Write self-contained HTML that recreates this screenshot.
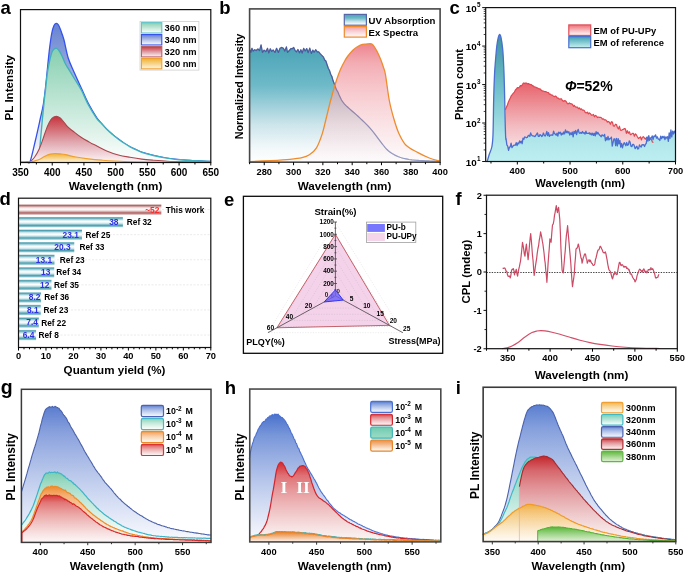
<!DOCTYPE html>
<html><head><meta charset="utf-8"><style>
html,body{margin:0;padding:0;background:#fff;}
body{width:685px;height:574px;overflow:hidden;}
svg{display:block;will-change:transform;}
</style></head><body>
<svg width="685" height="574" viewBox="0 0 685 574">
<defs><linearGradient id="ga_blue" x1="0" y1="0" x2="0" y2="1"><stop offset="0" stop-color="#6682d0"/><stop offset="1" stop-color="#ffffff"/></linearGradient>
<linearGradient id="ga_teal" x1="0" y1="0" x2="0" y2="1"><stop offset="0" stop-color="#86cfb0"/><stop offset="1" stop-color="#ffffff"/></linearGradient>
<linearGradient id="ga_red" x1="0" y1="0" x2="0" y2="1"><stop offset="0" stop-color="#c8343c"/><stop offset="0.55" stop-color="#e0a6ae"/><stop offset="1" stop-color="#fdf7f8"/></linearGradient>
<linearGradient id="ga_or" x1="0" y1="0" x2="0" y2="1"><stop offset="0" stop-color="#f0b032"/><stop offset="1" stop-color="#fdf6e2"/></linearGradient>
<linearGradient id="gb_uv" x1="0" y1="0" x2="0" y2="1"><stop offset="0" stop-color="#47a2b4"/><stop offset="0.35" stop-color="#6fbac9"/><stop offset="0.68" stop-color="#cde5eb"/><stop offset="0.88" stop-color="#f2f8fa"/><stop offset="1" stop-color="#ffffff"/></linearGradient>
<linearGradient id="gb_ex" x1="0" y1="0" x2="0" y2="1"><stop offset="0.0" stop-color="#e33a4a"/><stop offset="0.167" stop-color="#ec7b86"/><stop offset="0.333" stop-color="#f09da5"/><stop offset="0.5" stop-color="#f4b8be"/><stop offset="0.667" stop-color="#f7d0d4"/><stop offset="0.833" stop-color="#fae5e8"/><stop offset="1.0" stop-color="#fdf9fa"/></linearGradient>
<linearGradient id="gc_red" x1="0" y1="0" x2="0" y2="1"><stop offset="0" stop-color="#e8636c"/><stop offset="0.55" stop-color="#f2bcc1"/><stop offset="1" stop-color="#fdf2f3"/></linearGradient>
<linearGradient id="gc_ref" x1="0" y1="0" x2="0" y2="1"><stop offset="0" stop-color="#3c91a2"/><stop offset="0.45" stop-color="#76c3cd"/><stop offset="0.8" stop-color="#ade4e9"/><stop offset="1" stop-color="#bdeff1"/></linearGradient>
<linearGradient id="gc_redsw" x1="0" y1="0" x2="0" y2="1"><stop offset="0" stop-color="#ee7078"/><stop offset="1" stop-color="#ffffff"/></linearGradient>
<linearGradient id="gc_refsw" x1="0" y1="0" x2="0" y2="1"><stop offset="0" stop-color="#3f9fb0"/><stop offset="1" stop-color="#c6f2f3"/></linearGradient>
<linearGradient id="gd_bar" x1="0" y1="0" x2="0" y2="1"><stop offset="0" stop-color="#8fc5ce"/><stop offset="0.1" stop-color="#4d9fb0"/><stop offset="0.3" stop-color="#cfe8ed"/><stop offset="0.46" stop-color="#ffffff"/><stop offset="0.62" stop-color="#d2e9ee"/><stop offset="0.82" stop-color="#4d9fb0"/><stop offset="1" stop-color="#a8d4db"/></linearGradient>
<linearGradient id="gd_red" x1="0" y1="0" x2="0" y2="1"><stop offset="0" stop-color="#c89c9c"/><stop offset="0.1" stop-color="#b06464"/><stop offset="0.3" stop-color="#ead6d6"/><stop offset="0.46" stop-color="#ffffff"/><stop offset="0.62" stop-color="#ead6d6"/><stop offset="0.82" stop-color="#b06464"/><stop offset="1" stop-color="#d4acac"/></linearGradient>
<linearGradient id="gg_blue" x1="0" y1="0" x2="0" y2="1"><stop offset="0.0" stop-color="#5a7ccf"/><stop offset="0.167" stop-color="#849ddb"/><stop offset="0.333" stop-color="#a0b4e4"/><stop offset="0.5" stop-color="#b9c8eb"/><stop offset="0.667" stop-color="#d0daf2"/><stop offset="0.833" stop-color="#e6ebf8"/><stop offset="1.0" stop-color="#fafbfe"/></linearGradient>
<linearGradient id="gg_teal" x1="0" y1="0" x2="0" y2="1"><stop offset="0.0" stop-color="#7acdae"/><stop offset="0.167" stop-color="#a0dbc5"/><stop offset="0.333" stop-color="#b8e4d4"/><stop offset="0.5" stop-color="#ccece0"/><stop offset="0.667" stop-color="#def3eb"/><stop offset="0.833" stop-color="#eff9f5"/><stop offset="1.0" stop-color="#ffffff"/></linearGradient>
<linearGradient id="gg_or" x1="0" y1="0" x2="0" y2="1"><stop offset="0.0" stop-color="#ee8a30"/><stop offset="0.167" stop-color="#f4b074"/><stop offset="0.333" stop-color="#f7c496"/><stop offset="0.5" stop-color="#f9d4b3"/><stop offset="0.667" stop-color="#fbe2cb"/><stop offset="0.833" stop-color="#fdeee1"/><stop offset="1.0" stop-color="#fffaf6"/></linearGradient>
<linearGradient id="gg_red" x1="0" y1="0" x2="0" y2="1"><stop offset="0.0" stop-color="#d43434"/><stop offset="0.167" stop-color="#e27777"/><stop offset="0.333" stop-color="#e99999"/><stop offset="0.5" stop-color="#eeb5b5"/><stop offset="0.667" stop-color="#f3cece"/><stop offset="0.833" stop-color="#f8e4e4"/><stop offset="1.0" stop-color="#fcf8f8"/></linearGradient>
<linearGradient id="gh_blue" x1="0" y1="0" x2="0" y2="1"><stop offset="0.0" stop-color="#4a72cc"/><stop offset="0.167" stop-color="#7896d9"/><stop offset="0.333" stop-color="#97aee2"/><stop offset="0.5" stop-color="#b3c3ea"/><stop offset="0.667" stop-color="#ccd7f1"/><stop offset="0.833" stop-color="#e4e9f8"/><stop offset="1.0" stop-color="#fafbfe"/></linearGradient>
<linearGradient id="gh_red" x1="0" y1="0" x2="0" y2="1"><stop offset="0.0" stop-color="#d02a30"/><stop offset="0.167" stop-color="#df7074"/><stop offset="0.333" stop-color="#e69597"/><stop offset="0.5" stop-color="#ecb2b4"/><stop offset="0.667" stop-color="#f2cccd"/><stop offset="0.833" stop-color="#f7e3e3"/><stop offset="1.0" stop-color="#fbf8f8"/></linearGradient>
<linearGradient id="gh_teal" x1="0" y1="0" x2="0" y2="1"><stop offset="0" stop-color="#6fcbb0"/><stop offset="1" stop-color="#9edcc6"/></linearGradient>
<linearGradient id="gh_or" x1="0" y1="0" x2="0" y2="1"><stop offset="0" stop-color="#e8822e"/><stop offset="1" stop-color="#fdf4ee"/></linearGradient>
<linearGradient id="gh_orsw" x1="0" y1="0" x2="0" y2="1"><stop offset="0" stop-color="#ea8e42"/><stop offset="1" stop-color="#ffffff"/></linearGradient>
<linearGradient id="gi_blue" x1="0" y1="0" x2="0" y2="1"><stop offset="0.0" stop-color="#5a7ed0"/><stop offset="0.167" stop-color="#849fdc"/><stop offset="0.333" stop-color="#a0b5e4"/><stop offset="0.5" stop-color="#b9c8eb"/><stop offset="0.667" stop-color="#d0daf2"/><stop offset="0.833" stop-color="#e6ebf8"/><stop offset="1.0" stop-color="#fafbfe"/></linearGradient>
<linearGradient id="gi_teal" x1="0" y1="0" x2="0" y2="1"><stop offset="0.0" stop-color="#74ceb6"/><stop offset="0.167" stop-color="#8bd6c2"/><stop offset="0.333" stop-color="#a2dece"/><stop offset="0.5" stop-color="#bae6da"/><stop offset="0.667" stop-color="#d1efe7"/><stop offset="0.833" stop-color="#e8f7f3"/><stop offset="1.0" stop-color="#ffffff"/></linearGradient>
<linearGradient id="gi_red" x1="0" y1="0" x2="0" y2="1"><stop offset="0.0" stop-color="#c4262c"/><stop offset="0.167" stop-color="#d5676c"/><stop offset="0.333" stop-color="#df8c90"/><stop offset="0.5" stop-color="#e7abae"/><stop offset="0.667" stop-color="#eec7c9"/><stop offset="0.833" stop-color="#f5e0e1"/><stop offset="1.0" stop-color="#fbf7f8"/></linearGradient>
<linearGradient id="gi_or" x1="0" y1="0" x2="0" y2="1"><stop offset="0.0" stop-color="#f0ae3a"/><stop offset="0.167" stop-color="#f4c26b"/><stop offset="0.333" stop-color="#f7d08c"/><stop offset="0.5" stop-color="#f9dcaa"/><stop offset="0.667" stop-color="#fbe8c5"/><stop offset="0.833" stop-color="#fdf2de"/><stop offset="1.0" stop-color="#fffcf6"/></linearGradient>
<linearGradient id="gi_green" x1="0" y1="0" x2="0" y2="1"><stop offset="0.0" stop-color="#55b332"/><stop offset="0.167" stop-color="#71c053"/><stop offset="0.333" stop-color="#89ca70"/><stop offset="0.5" stop-color="#a1d58b"/><stop offset="0.667" stop-color="#b7dfa5"/><stop offset="0.833" stop-color="#cde8bf"/><stop offset="1.0" stop-color="#e2f2d8"/></linearGradient></defs>
<rect width="685" height="574" fill="#fff"/>
<path d="M20.5,162.4C21.58,162.37 25.37,162.43 27,162.2C28.63,161.97 28.88,164.7 30.3,161C31.72,157.3 33.88,146.83 35.5,140C37.12,133.17 38.68,126 40,120C41.32,114 42.43,109.83 43.4,104C44.37,98.17 45.07,91.5 45.8,85C46.53,78.5 47.17,71.17 47.8,65C48.43,58.83 48.93,53.33 49.6,48C50.27,42.67 51.07,36.75 51.8,33C52.53,29.25 53.27,27.12 54,25.5C54.73,23.88 55.45,23.38 56.2,23.3C56.95,23.22 57.7,23.72 58.5,25C59.3,26.28 60.08,28.5 61,31C61.92,33.5 62.8,35.5 64,40C65.2,44.5 66.53,52.67 68.2,58C69.87,63.33 71.78,66.92 74,72C76.22,77.08 79.1,83.25 81.5,88.5C83.9,93.75 85.85,98.62 88.4,103.5C90.95,108.38 94.73,114.62 96.8,117.8C98.87,120.98 99.15,120.7 100.8,122.6C102.45,124.5 104.75,127.23 106.7,129.2C108.65,131.17 110.55,132.75 112.5,134.4C114.45,136.05 116.45,137.63 118.4,139.1C120.35,140.57 122.27,141.93 124.2,143.2C126.13,144.47 128.05,145.63 130,146.7C131.95,147.77 133.95,148.68 135.9,149.6C137.85,150.52 138.78,151.23 141.7,152.2C144.62,153.17 149.5,154.47 153.4,155.4C157.3,156.33 161.5,157.17 165.1,157.8C168.7,158.43 170.85,158.75 175,159.2C179.15,159.65 184.03,160.12 190,160.5C195.97,160.88 207.33,161.33 210.8,161.5L210.8,162.5L20.5,162.5Z" fill="url(#ga_blue)" stroke="none" stroke-width="1"/>
<path d="M20.5,162.4C21.58,162.37 25.37,162.43 27,162.2C28.63,161.97 28.88,164.7 30.3,161C31.72,157.3 33.88,146.83 35.5,140C37.12,133.17 38.68,126 40,120C41.32,114 42.43,109.83 43.4,104C44.37,98.17 45.07,91.5 45.8,85C46.53,78.5 47.17,71.17 47.8,65C48.43,58.83 48.93,53.33 49.6,48C50.27,42.67 51.07,36.75 51.8,33C52.53,29.25 53.27,27.12 54,25.5C54.73,23.88 55.45,23.38 56.2,23.3C56.95,23.22 57.7,23.72 58.5,25C59.3,26.28 60.08,28.5 61,31C61.92,33.5 62.8,35.5 64,40C65.2,44.5 66.53,52.67 68.2,58C69.87,63.33 71.78,66.92 74,72C76.22,77.08 79.1,83.25 81.5,88.5C83.9,93.75 85.85,98.62 88.4,103.5C90.95,108.38 94.73,114.62 96.8,117.8C98.87,120.98 99.15,120.7 100.8,122.6C102.45,124.5 104.75,127.23 106.7,129.2C108.65,131.17 110.55,132.75 112.5,134.4C114.45,136.05 116.45,137.63 118.4,139.1C120.35,140.57 122.27,141.93 124.2,143.2C126.13,144.47 128.05,145.63 130,146.7C131.95,147.77 133.95,148.68 135.9,149.6C137.85,150.52 138.78,151.23 141.7,152.2C144.62,153.17 149.5,154.47 153.4,155.4C157.3,156.33 161.5,157.17 165.1,157.8C168.7,158.43 170.85,158.75 175,159.2C179.15,159.65 184.03,160.12 190,160.5C195.97,160.88 207.33,161.33 210.8,161.5" fill="none" stroke="#3552ee" stroke-width="1.3" stroke-linejoin="round"/>
<path d="M39.6,162.4C39.6,160.33 39.45,153.73 39.6,150C39.75,146.27 40.02,145.33 40.5,140C40.98,134.67 41.87,124.67 42.5,118C43.13,111.33 43.8,104.67 44.3,100C44.8,95.33 44.97,94.67 45.5,90C46.03,85.33 46.78,77 47.5,72C48.22,67 48.97,63.5 49.8,60C50.63,56.5 51.45,52.97 52.5,51C53.55,49.03 55.02,48.28 56.1,48.2C57.18,48.12 58.02,49.2 59,50.5C59.98,51.8 61,53.92 62,56C63,58.08 63.97,60.93 65,63C66.03,65.07 66.7,65.9 68.2,68.4C69.7,70.9 71.82,74.4 74,78C76.18,81.6 78.9,85.5 81.3,90C83.7,94.5 85.82,100.23 88.4,105C90.98,109.77 94.73,115.63 96.8,118.6C98.87,121.57 99.15,121.02 100.8,122.8C102.45,124.58 104.75,127.35 106.7,129.3C108.65,131.25 110.55,132.85 112.5,134.5C114.45,136.15 116.45,137.73 118.4,139.2C120.35,140.67 122.27,142.03 124.2,143.3C126.13,144.57 128.05,145.73 130,146.8C131.95,147.87 133.95,148.78 135.9,149.7C137.85,150.62 138.78,151.33 141.7,152.3C144.62,153.27 149.5,154.57 153.4,155.5C157.3,156.43 161.5,157.27 165.1,157.9C168.7,158.53 170.85,158.87 175,159.3C179.15,159.73 184.03,160.13 190,160.5C195.97,160.87 207.33,161.33 210.8,161.5L210.8,162.5L39.6,162.5Z" fill="url(#ga_teal)" stroke="none" stroke-width="1"/>
<path d="M39.6,150C39.75,148.33 40.02,145.33 40.5,140C40.98,134.67 41.87,124.67 42.5,118C43.13,111.33 43.8,104.67 44.3,100C44.8,95.33 44.97,94.67 45.5,90C46.03,85.33 46.78,77 47.5,72C48.22,67 48.97,63.5 49.8,60C50.63,56.5 51.45,52.97 52.5,51C53.55,49.03 55.02,48.28 56.1,48.2C57.18,48.12 58.02,49.2 59,50.5C59.98,51.8 61,53.92 62,56C63,58.08 63.97,60.93 65,63C66.03,65.07 66.7,65.9 68.2,68.4C69.7,70.9 71.82,74.4 74,78C76.18,81.6 78.9,85.5 81.3,90C83.7,94.5 85.82,100.23 88.4,105C90.98,109.77 94.73,115.63 96.8,118.6C98.87,121.57 99.15,121.02 100.8,122.8C102.45,124.58 104.75,127.35 106.7,129.3C108.65,131.25 110.55,132.85 112.5,134.5C114.45,136.15 116.45,137.73 118.4,139.2C120.35,140.67 122.27,142.03 124.2,143.3C126.13,144.57 128.05,145.73 130,146.8C131.95,147.87 133.95,148.78 135.9,149.7C137.85,150.62 138.78,151.33 141.7,152.3C144.62,153.27 149.5,154.57 153.4,155.5C157.3,156.43 161.5,157.27 165.1,157.9C168.7,158.53 170.85,158.87 175,159.3C179.15,159.73 184.03,160.13 190,160.5C195.97,160.87 207.33,161.33 210.8,161.5" fill="none" stroke="#3fb0bc" stroke-width="1.35"/>
<line x1="39.6" y1="162.4" x2="39.6" y2="150" stroke="#a8dde2" stroke-width="0.8"/>
<path d="M20.5,162.4C21.58,162.37 25.37,162.33 27,162.2C28.63,162.07 29.05,162.42 30.3,161.6C31.55,160.78 33.02,159.42 34.5,157.3C35.98,155.18 37.82,151.87 39.2,148.9C40.58,145.93 41.67,142.63 42.8,139.5C43.93,136.37 44.95,132.88 46,130.1C47.05,127.32 48.07,124.8 49.1,122.8C50.13,120.8 50.98,119.17 52.2,118.1C53.42,117.03 55.07,116.42 56.4,116.4C57.73,116.38 59.03,117.15 60.2,118C61.37,118.85 62.18,120.05 63.4,121.5C64.62,122.95 65.93,125.12 67.5,126.7C69.07,128.28 70.53,129.23 72.8,131C75.07,132.77 77.97,135.23 81.1,137.3C84.23,139.37 89.28,142.1 91.6,143.4C93.92,144.7 92.48,143.85 95,145.1C97.52,146.35 102.8,149.25 106.7,150.9C110.6,152.55 114.52,153.93 118.4,155C122.28,156.07 126.12,156.62 130,157.3C133.88,157.98 137.8,158.62 141.7,159.1C145.6,159.58 149.5,159.88 153.4,160.2C157.3,160.52 161.5,160.78 165.1,161C168.7,161.22 167.38,161.32 175,161.5C182.62,161.68 204.83,162 210.8,162.1L210.8,162.5L20.5,162.5Z" fill="url(#ga_red)" stroke="none" stroke-width="1"/>
<path d="M20.5,162.4C21.58,162.37 25.37,162.33 27,162.2C28.63,162.07 29.05,162.42 30.3,161.6C31.55,160.78 33.02,159.42 34.5,157.3C35.98,155.18 37.82,151.87 39.2,148.9C40.58,145.93 41.67,142.63 42.8,139.5C43.93,136.37 44.95,132.88 46,130.1C47.05,127.32 48.07,124.8 49.1,122.8C50.13,120.8 50.98,119.17 52.2,118.1C53.42,117.03 55.07,116.42 56.4,116.4C57.73,116.38 59.03,117.15 60.2,118C61.37,118.85 62.18,120.05 63.4,121.5C64.62,122.95 65.93,125.12 67.5,126.7C69.07,128.28 70.53,129.23 72.8,131C75.07,132.77 77.97,135.23 81.1,137.3C84.23,139.37 89.28,142.1 91.6,143.4C93.92,144.7 92.48,143.85 95,145.1C97.52,146.35 102.8,149.25 106.7,150.9C110.6,152.55 114.52,153.93 118.4,155C122.28,156.07 126.12,156.62 130,157.3C133.88,157.98 137.8,158.62 141.7,159.1C145.6,159.58 149.5,159.88 153.4,160.2C157.3,160.52 161.5,160.78 165.1,161C168.7,161.22 167.38,161.32 175,161.5C182.62,161.68 204.83,162 210.8,162.1" fill="none" stroke="#a8474e" stroke-width="1.1" stroke-linejoin="round"/>
<path d="M20.5,162.4C21.42,162.38 24.37,162.38 26,162.3C27.63,162.22 28.8,162.15 30.3,161.9C31.8,161.65 33.43,161.25 35,160.8C36.57,160.35 38.05,159.95 39.7,159.2C41.35,158.45 43.15,157.13 44.9,156.3C46.65,155.47 48.45,154.67 50.2,154.2C51.95,153.73 53.67,153.55 55.4,153.5C57.13,153.45 58.93,153.72 60.6,153.9C62.27,154.08 62.85,154.08 65.4,154.6C67.95,155.12 72.42,156.33 75.9,157C79.38,157.67 81.95,158.07 86.3,158.6C90.65,159.13 95.55,159.72 102,160.2C108.45,160.68 115.33,161.2 125,161.5C134.67,161.8 145.7,161.88 160,162C174.3,162.12 202.33,162.17 210.8,162.2L210.8,162.5L20.5,162.5Z" fill="url(#ga_or)" stroke="none" stroke-width="1"/>
<path d="M20.5,162.4C21.42,162.38 24.37,162.38 26,162.3C27.63,162.22 28.8,162.15 30.3,161.9C31.8,161.65 33.43,161.25 35,160.8C36.57,160.35 38.05,159.95 39.7,159.2C41.35,158.45 43.15,157.13 44.9,156.3C46.65,155.47 48.45,154.67 50.2,154.2C51.95,153.73 53.67,153.55 55.4,153.5C57.13,153.45 58.93,153.72 60.6,153.9C62.27,154.08 62.85,154.08 65.4,154.6C67.95,155.12 72.42,156.33 75.9,157C79.38,157.67 81.95,158.07 86.3,158.6C90.65,159.13 95.55,159.72 102,160.2C108.45,160.68 115.33,161.2 125,161.5C134.67,161.8 145.7,161.88 160,162C174.3,162.12 202.33,162.17 210.8,162.2" fill="none" stroke="#eea030" stroke-width="1.2" stroke-linejoin="round"/>
<rect x="20.5" y="9.6" width="190.3" height="152.9" fill="none" stroke="#111" stroke-width="1.2"/>
<line x1="20.5" y1="162.5" x2="20.5" y2="165.5" stroke="#000" stroke-width="1"/>
<text x="20.5" y="175.6" font-size="10" font-weight="bold" text-anchor="middle" fill="#000" font-family='"Liberation Sans", sans-serif'>350</text>
<line x1="52.22" y1="162.5" x2="52.22" y2="165.5" stroke="#000" stroke-width="1"/>
<text x="52.22" y="175.6" font-size="10" font-weight="bold" text-anchor="middle" fill="#000" font-family='"Liberation Sans", sans-serif'>400</text>
<line x1="83.93" y1="162.5" x2="83.93" y2="165.5" stroke="#000" stroke-width="1"/>
<text x="83.93" y="175.6" font-size="10" font-weight="bold" text-anchor="middle" fill="#000" font-family='"Liberation Sans", sans-serif'>450</text>
<line x1="115.65" y1="162.5" x2="115.65" y2="165.5" stroke="#000" stroke-width="1"/>
<text x="115.65" y="175.6" font-size="10" font-weight="bold" text-anchor="middle" fill="#000" font-family='"Liberation Sans", sans-serif'>500</text>
<line x1="147.37" y1="162.5" x2="147.37" y2="165.5" stroke="#000" stroke-width="1"/>
<text x="147.37" y="175.6" font-size="10" font-weight="bold" text-anchor="middle" fill="#000" font-family='"Liberation Sans", sans-serif'>550</text>
<line x1="179.08" y1="162.5" x2="179.08" y2="165.5" stroke="#000" stroke-width="1"/>
<text x="179.08" y="175.6" font-size="10" font-weight="bold" text-anchor="middle" fill="#000" font-family='"Liberation Sans", sans-serif'>600</text>
<line x1="210.8" y1="162.5" x2="210.8" y2="165.5" stroke="#000" stroke-width="1"/>
<text x="210.8" y="175.6" font-size="10" font-weight="bold" text-anchor="middle" fill="#000" font-family='"Liberation Sans", sans-serif'>650</text>
<line x1="36.36" y1="162.5" x2="36.36" y2="164.5" stroke="#000" stroke-width="1"/>
<line x1="68.08" y1="162.5" x2="68.08" y2="164.5" stroke="#000" stroke-width="1"/>
<line x1="99.79" y1="162.5" x2="99.79" y2="164.5" stroke="#000" stroke-width="1"/>
<line x1="131.51" y1="162.5" x2="131.51" y2="164.5" stroke="#000" stroke-width="1"/>
<line x1="163.22" y1="162.5" x2="163.22" y2="164.5" stroke="#000" stroke-width="1"/>
<line x1="194.94" y1="162.5" x2="194.94" y2="164.5" stroke="#000" stroke-width="1"/>
<text x="115.5" y="189.8" font-size="11.7" font-weight="bold" text-anchor="middle" fill="#000" font-family='"Liberation Sans", sans-serif'>Wavelength (nm)</text>
<text transform="translate(13.3,87.7) rotate(-90)" font-size="11.6" font-weight="bold" text-anchor="middle" fill="#000" font-family='"Liberation Sans", sans-serif'>PL Intensity</text>
<text x="0.5" y="14" font-size="18.5" font-weight="bold" text-anchor="start" fill="#000" font-family='"Liberation Sans", sans-serif'>a</text>
<rect x="140" y="21.4" width="58.9" height="48.7" fill="#fff" stroke="#cfcfcf" stroke-width="0.8"/>
<rect x="141.4" y="22.6" width="20.4" height="10.4" fill="url(#ga_teal)" stroke="#62c4c8" stroke-width="1.1"/>
<text x="164.6" y="31.2" font-size="9.3" font-weight="bold" text-anchor="start" fill="#000" font-family='"Liberation Sans", sans-serif'>360 nm</text>
<rect x="141.4" y="34.55" width="20.4" height="10.4" fill="url(#ga_blue)" stroke="#3552ee" stroke-width="1.1"/>
<text x="164.6" y="43.15" font-size="9.3" font-weight="bold" text-anchor="start" fill="#000" font-family='"Liberation Sans", sans-serif'>340 nm</text>
<rect x="141.4" y="46.5" width="20.4" height="10.4" fill="url(#ga_red)" stroke="#b86068" stroke-width="1.1"/>
<text x="164.6" y="55.1" font-size="9.3" font-weight="bold" text-anchor="start" fill="#000" font-family='"Liberation Sans", sans-serif'>320 nm</text>
<rect x="141.4" y="58.45" width="20.4" height="10.4" fill="url(#ga_or)" stroke="#eea030" stroke-width="1.1"/>
<text x="164.6" y="67.05" font-size="9.3" font-weight="bold" text-anchor="start" fill="#000" font-family='"Liberation Sans", sans-serif'>300 nm</text>
<path d="M249.5,49.12 250.85,52.32 251.95,48.25 253.21,51.15 254.63,49.65 256.19,50.55 257.94,48.91 259.52,50.63 261.05,44.95 262.48,52.28 264.1,50.13 265.79,51.68 267.54,48.31 268.76,52.82 270.32,48.75 271.67,51.42 273.19,49.99 274.99,52.43 276.57,48.26 278.39,52.44 280.02,48.27 281.52,47.41 283.37,48.2 284.74,51.02 286.41,46.88 287.5,52.43 289.25,50.51 291.1,48.45 292.17,48.77 293.71,47.5 295.01,50.36 296.37,51.82 297.93,49.47 299.48,52.79 300.87,49.73 302.16,52.96 303.65,48.31 305.17,51 306.72,48.57 308.14,52.6 309.76,48.09 311.35,53.43 312.77,50.13 314.11,52.22 315.63,49.71 317.3,51.85 318.7,51.92 319.9,53.34 321.1,54.63 322.3,55.84 323.5,57.12 324.7,59.96 325.9,61.05 327.1,64.69 328.3,68.29 329.5,70.51 330.7,74.24 331.9,76.52 333.1,80.82 334.3,83.71 335.5,87.25 336.7,90.18 337.9,91.98 339.1,95.01 341.5,100.05 343,102.23 344.5,104.08 346,105.62 347.5,106.99 349,108.34 350.5,109.68 352,110.98 353.5,112.27 355,113.56 356.5,114.89 358,116.25 359.5,117.66 361,119.07 362.5,120.49 364,121.93 365.5,123.4 367,124.91 368.5,126.48 370,128.13 371.5,129.88 373,131.73 374.5,133.66 376,135.64 377.5,137.65 379,139.67 380.5,141.67 382,143.62 383.5,145.5 385,147.34 386.5,149.05 388,150.5 389.5,151.74 391,152.8 392.5,153.73 394,154.6 395.5,155.4 397,156.11 398.5,156.74 400,157.3 401.5,157.8 403,158.21 404.5,158.54 406,158.84 407.5,159.16 409,159.48 410.5,159.73 412,159.92 413.5,160.07 415,160.2 416.5,160.3 418,160.4 419.5,160.48 421,160.56 422.5,160.63 424,160.71 425.5,160.78 427,160.84 428.5,160.91 430,160.98 431.5,161.04 433,161.11 434.5,161.17 436,161.23 437.5,161.3 439,161.36L439,162.2L249.5,162.2Z" fill="url(#gb_uv)" stroke="none" stroke-width="1"/>
<path d="M249.5,49.12 250.85,52.32 251.95,48.25 253.21,51.15 254.63,49.65 256.19,50.55 257.94,48.91 259.52,50.63 261.05,44.95 262.48,52.28 264.1,50.13 265.79,51.68 267.54,48.31 268.76,52.82 270.32,48.75 271.67,51.42 273.19,49.99 274.99,52.43 276.57,48.26 278.39,52.44 280.02,48.27 281.52,47.41 283.37,48.2 284.74,51.02 286.41,46.88 287.5,52.43 289.25,50.51 291.1,48.45 292.17,48.77 293.71,47.5 295.01,50.36 296.37,51.82 297.93,49.47 299.48,52.79 300.87,49.73 302.16,52.96 303.65,48.31 305.17,51 306.72,48.57 308.14,52.6 309.76,48.09 311.35,53.43 312.77,50.13 314.11,52.22 315.63,49.71 317.3,51.85 318.7,51.92 319.9,53.34 321.1,54.63 322.3,55.84 323.5,57.12 324.7,59.96 325.9,61.05 327.1,64.69 328.3,68.29 329.5,70.51 330.7,74.24 331.9,76.52 333.1,80.82 334.3,83.71 335.5,87.25 336.7,90.18 337.9,91.98 339.1,95.01 341.5,100.05 343,102.23 344.5,104.08 346,105.62 347.5,106.99 349,108.34 350.5,109.68 352,110.98 353.5,112.27 355,113.56 356.5,114.89 358,116.25 359.5,117.66 361,119.07 362.5,120.49 364,121.93 365.5,123.4 367,124.91 368.5,126.48 370,128.13 371.5,129.88 373,131.73 374.5,133.66 376,135.64 377.5,137.65 379,139.67 380.5,141.67 382,143.62 383.5,145.5 385,147.34 386.5,149.05 388,150.5 389.5,151.74 391,152.8 392.5,153.73 394,154.6 395.5,155.4 397,156.11 398.5,156.74 400,157.3 401.5,157.8 403,158.21 404.5,158.54 406,158.84 407.5,159.16 409,159.48 410.5,159.73 412,159.92 413.5,160.07 415,160.2 416.5,160.3 418,160.4 419.5,160.48 421,160.56 422.5,160.63 424,160.71 425.5,160.78 427,160.84 428.5,160.91 430,160.98 431.5,161.04 433,161.11 434.5,161.17 436,161.23 437.5,161.3 439,161.36" fill="none" stroke="#4b5c9e" stroke-width="1.2" stroke-linejoin="round"/>
<path d="M249.5,161.6C252.92,161.43 263.25,160.98 270,160.6C276.75,160.22 284.67,159.78 290,159.3C295.33,158.82 298.77,158.45 302,157.7C305.23,156.95 306.98,156.45 309.4,154.8C311.82,153.15 314.35,151.33 316.5,147.8C318.65,144.27 320.73,138.32 322.3,133.6C323.87,128.88 324.52,125.02 325.9,119.5C327.28,113.98 329.03,106.42 330.6,100.5C332.17,94.58 333.98,88.33 335.3,84C336.62,79.67 337.53,77.17 338.5,74.5C339.47,71.83 340.02,70.33 341.1,68C342.18,65.67 343.87,62.5 345,60.5C346.13,58.5 346.55,57.75 347.9,56C349.25,54.25 351.58,51.5 353.1,50C354.62,48.5 355.68,47.87 357,47C358.32,46.13 359.5,45.28 361,44.8C362.5,44.32 364.28,44.27 366,44.1C367.72,43.93 370.05,43.55 371.3,43.8C372.55,44.05 372.62,44.47 373.5,45.6C374.38,46.73 375.68,48.95 376.6,50.6C377.52,52.25 378.23,53.8 379,55.5C379.77,57.2 380.45,58.8 381.2,60.8C381.95,62.8 382.78,65.17 383.5,67.5C384.22,69.83 384.53,69.3 385.5,74.8C386.47,80.3 387.88,93.08 389.3,100.5C390.72,107.92 392.43,113.88 394,119.3C395.57,124.72 396.73,128.72 398.7,133C400.67,137.28 402.67,141.77 405.8,145C408.93,148.23 413.58,150.23 417.5,152.4C421.42,154.57 425.58,156.53 429.3,158C433.02,159.47 438.05,160.67 439.8,161.2L439.8,162.2L249.5,162.2Z" fill="url(#gb_ex)" stroke="none" stroke-width="1" fill-opacity="0.62"/>
<path d="M249.5,49.12 250.85,52.32 251.95,48.25 253.21,51.15 254.63,49.65 256.19,50.55 257.94,48.91 259.52,50.63 261.05,44.95 262.48,52.28 264.1,50.13 265.79,51.68 267.54,48.31 268.76,52.82 270.32,48.75 271.67,51.42 273.19,49.99 274.99,52.43 276.57,48.26 278.39,52.44 280.02,48.27 281.52,47.41 283.37,48.2 284.74,51.02 286.41,46.88 287.5,52.43 289.25,50.51 291.1,48.45 292.17,48.77 293.71,47.5 295.01,50.36 296.37,51.82 297.93,49.47 299.48,52.79 300.87,49.73 302.16,52.96 303.65,48.31 305.17,51 306.72,48.57 308.14,52.6 309.76,48.09 311.35,53.43 312.77,50.13 314.11,52.22 315.63,49.71 317.3,51.85 318.7,51.92 319.9,53.34 321.1,54.63 322.3,55.84 323.5,57.12 324.7,59.96 325.9,61.05 327.1,64.69 328.3,68.29 329.5,70.51 330.7,74.24 331.9,76.52 333.1,80.82 334.3,83.71 335.5,87.25 336.7,90.18 337.9,91.98 339.1,95.01 341.5,100.05 343,102.23 344.5,104.08 346,105.62 347.5,106.99 349,108.34 350.5,109.68 352,110.98 353.5,112.27 355,113.56 356.5,114.89 358,116.25 359.5,117.66 361,119.07 362.5,120.49 364,121.93 365.5,123.4 367,124.91 368.5,126.48 370,128.13 371.5,129.88 373,131.73 374.5,133.66 376,135.64 377.5,137.65 379,139.67 380.5,141.67 382,143.62 383.5,145.5 385,147.34 386.5,149.05 388,150.5 389.5,151.74 391,152.8 392.5,153.73 394,154.6 395.5,155.4 397,156.11 398.5,156.74 400,157.3 401.5,157.8 403,158.21 404.5,158.54 406,158.84 407.5,159.16 409,159.48 410.5,159.73 412,159.92 413.5,160.07 415,160.2 416.5,160.3 418,160.4 419.5,160.48 421,160.56 422.5,160.63 424,160.71 425.5,160.78 427,160.84 428.5,160.91 430,160.98 431.5,161.04 433,161.11 434.5,161.17 436,161.23 437.5,161.3 439,161.36" fill="none" stroke="#4b5c9e" stroke-width="1.1" stroke-linejoin="round" stroke-opacity="0.35"/>
<path d="M249.5,161.6C252.92,161.43 263.25,160.98 270,160.6C276.75,160.22 284.67,159.78 290,159.3C295.33,158.82 298.77,158.45 302,157.7C305.23,156.95 306.98,156.45 309.4,154.8C311.82,153.15 314.35,151.33 316.5,147.8C318.65,144.27 320.73,138.32 322.3,133.6C323.87,128.88 324.52,125.02 325.9,119.5C327.28,113.98 329.03,106.42 330.6,100.5C332.17,94.58 333.98,88.33 335.3,84C336.62,79.67 337.53,77.17 338.5,74.5C339.47,71.83 340.02,70.33 341.1,68C342.18,65.67 343.87,62.5 345,60.5C346.13,58.5 346.55,57.75 347.9,56C349.25,54.25 351.58,51.5 353.1,50C354.62,48.5 355.68,47.87 357,47C358.32,46.13 359.5,45.28 361,44.8C362.5,44.32 364.28,44.27 366,44.1C367.72,43.93 370.05,43.55 371.3,43.8C372.55,44.05 372.62,44.47 373.5,45.6C374.38,46.73 375.68,48.95 376.6,50.6C377.52,52.25 378.23,53.8 379,55.5C379.77,57.2 380.45,58.8 381.2,60.8C381.95,62.8 382.78,65.17 383.5,67.5C384.22,69.83 384.53,69.3 385.5,74.8C386.47,80.3 387.88,93.08 389.3,100.5C390.72,107.92 392.43,113.88 394,119.3C395.57,124.72 396.73,128.72 398.7,133C400.67,137.28 402.67,141.77 405.8,145C408.93,148.23 413.58,150.23 417.5,152.4C421.42,154.57 425.58,156.53 429.3,158C433.02,159.47 438.05,160.67 439.8,161.2" fill="none" stroke="#ef8b2c" stroke-width="1.3"/>
<rect x="249.6" y="8.9" width="190.5" height="153.3" fill="none" stroke="#474747" stroke-width="1.6"/>
<line x1="264.25" y1="162.2" x2="264.25" y2="165.2" stroke="#000" stroke-width="1"/>
<text x="264.25" y="175.2" font-size="9.3" font-weight="bold" text-anchor="middle" fill="#000" font-family='"Liberation Sans", sans-serif'>280</text>
<line x1="293.56" y1="162.2" x2="293.56" y2="165.2" stroke="#000" stroke-width="1"/>
<text x="293.56" y="175.2" font-size="9.3" font-weight="bold" text-anchor="middle" fill="#000" font-family='"Liberation Sans", sans-serif'>300</text>
<line x1="322.87" y1="162.2" x2="322.87" y2="165.2" stroke="#000" stroke-width="1"/>
<text x="322.87" y="175.2" font-size="9.3" font-weight="bold" text-anchor="middle" fill="#000" font-family='"Liberation Sans", sans-serif'>320</text>
<line x1="352.18" y1="162.2" x2="352.18" y2="165.2" stroke="#000" stroke-width="1"/>
<text x="352.18" y="175.2" font-size="9.3" font-weight="bold" text-anchor="middle" fill="#000" font-family='"Liberation Sans", sans-serif'>340</text>
<line x1="381.48" y1="162.2" x2="381.48" y2="165.2" stroke="#000" stroke-width="1"/>
<text x="381.48" y="175.2" font-size="9.3" font-weight="bold" text-anchor="middle" fill="#000" font-family='"Liberation Sans", sans-serif'>360</text>
<line x1="410.79" y1="162.2" x2="410.79" y2="165.2" stroke="#000" stroke-width="1"/>
<text x="410.79" y="175.2" font-size="9.3" font-weight="bold" text-anchor="middle" fill="#000" font-family='"Liberation Sans", sans-serif'>380</text>
<line x1="440.1" y1="162.2" x2="440.1" y2="165.2" stroke="#000" stroke-width="1"/>
<text x="440.1" y="175.2" font-size="9.3" font-weight="bold" text-anchor="middle" fill="#000" font-family='"Liberation Sans", sans-serif'>400</text>
<line x1="249.6" y1="162.2" x2="249.6" y2="164.2" stroke="#000" stroke-width="1"/>
<line x1="278.91" y1="162.2" x2="278.91" y2="164.2" stroke="#000" stroke-width="1"/>
<line x1="308.22" y1="162.2" x2="308.22" y2="164.2" stroke="#000" stroke-width="1"/>
<line x1="337.52" y1="162.2" x2="337.52" y2="164.2" stroke="#000" stroke-width="1"/>
<line x1="366.83" y1="162.2" x2="366.83" y2="164.2" stroke="#000" stroke-width="1"/>
<line x1="396.14" y1="162.2" x2="396.14" y2="164.2" stroke="#000" stroke-width="1"/>
<line x1="425.45" y1="162.2" x2="425.45" y2="164.2" stroke="#000" stroke-width="1"/>
<text x="344.5" y="189.8" font-size="11.7" font-weight="bold" text-anchor="middle" fill="#000" font-family='"Liberation Sans", sans-serif'>Wavelength (nm)</text>
<text transform="translate(243,86.5) rotate(-90)" font-size="10.8" font-weight="bold" text-anchor="middle" fill="#000" font-family='"Liberation Sans", sans-serif'>Normalized Intensity</text>
<text x="219.2" y="14" font-size="18.5" font-weight="bold" text-anchor="start" fill="#000" font-family='"Liberation Sans", sans-serif'>b</text>
<rect x="344.3" y="14.4" width="22.1" height="10.8" fill="url(#gb_uv)" stroke="#5667a8" stroke-width="1.2"/>
<rect x="344.3" y="26.4" width="22.1" height="10.7" fill="url(#gb_ex)" stroke="#ef8b2c" stroke-width="1.2" fill-opacity="0.62"/>
<text x="368.6" y="23.8" font-size="9.6" font-weight="bold" text-anchor="start" fill="#000" font-family='"Liberation Sans", sans-serif'>UV Absorption</text>
<text x="368.6" y="35.6" font-size="9.6" font-weight="bold" text-anchor="start" fill="#000" font-family='"Liberation Sans", sans-serif'>Ex Spectra</text>
<path d="M505.4,109.74 506.4,107.14 507.4,104.96 508.4,102.04 509.4,99.82 510.4,97.85 511.4,95.59 512.4,94.44 513.4,93.18 514.4,92.05 515.4,89.95 516.4,89.01 517.4,87.71 518.4,87.83 519.4,87.13 520.4,85.62 521.4,85.83 522.4,84.55 523.4,82.95 524.4,83.44 525.4,83.1 526.4,83.03 527.4,83.85 528.4,83.6 529.4,84.11 530.4,84.54 531.4,84.68 532.4,85.61 533.4,86.01 534.4,86.94 535.4,87.01 536.4,87.61 537.4,87.91 538.4,88.58 539.4,88.81 540.4,89.07 541.4,90.41 542.4,90.89 543.4,91.19 544.4,91.51 545.4,91.53 546.4,91.91 547.4,92.47 548.4,92.7 549.4,94.03 550.4,94.08 551.4,95.11 552.4,95.05 553.4,96.23 554.4,96.6 555.4,96.08 556.4,96.83 557.4,98.17 558.4,98.15 559.4,99.26 560.4,98.96 561.4,98.75 562.4,100.48 563.4,101.31 564.4,100.69 565.4,100.79 566.4,101.83 567.4,103.72 568.4,103.77 569.4,102.86 570.4,103.64 571.4,103.83 572.4,104.24 573.4,106.37 574.4,105.51 575.4,106.85 576.4,107.11 577.4,107.05 578.4,108.74 579.4,107.91 580.4,109.54 581.4,108.87 582.4,110.03 583.4,110.06 584.4,110.66 585.4,112.68 586.4,112.78 587.4,112.14 588.4,113.88 589.4,112.84 590.4,113.7 591.4,115.15 592.4,115.12 593.4,114.37 594.4,116.76 595.4,115.48 596.4,116.01 597.4,117.57 598.4,117.02 599.4,117.38 600.4,117.3 601.4,117.72 602.4,119.17 603.4,118.78 604.4,119.95 605.4,119.86 606.4,120.48 607.4,122.07 608.4,121.52 609.4,122.23 610.4,124.2 611.4,121.73 612.4,122.15 613.4,126.02 614.4,126.18 615.4,124.23 616.4,124.53 617.4,127.51 618.4,128.95 619.4,126.23 620.4,130.1 621.4,130.35 622.4,129.68 623.4,129.42 624.4,128.56 625.4,128.8 626.4,133.38 627.4,130.7 628.4,133.25 629.4,131.77 630.4,134.75 631.4,134.23 632.4,133.38 633.4,133.33 634.4,136.19 635.4,133.78 636.4,134.93 637.4,136.81 638.4,138.52 639.4,137.88 640.4,136.79 641.4,139.96 642.4,137.17 643.4,136.66 644.4,138.04 645.4,139.05 646.4,137.56 647.4,138.24 648.4,139.24 649.4,140.27 650.4,138.45 651.4,139.57 652.4,142 653.4,142.5L654.3,161.5L505.4,161.5Z" fill="url(#gc_red)" stroke="none" stroke-width="1"/>
<path d="M486.9,161.5C487,161.32 487.1,161.6 487.5,160.4C487.9,159.2 488.58,156.53 489.3,154.3C490.02,152.07 491.18,150.25 491.8,147C492.42,143.75 492.68,142.93 493,134.8C493.32,126.67 493.45,108.17 493.7,98.2C493.95,88.23 494.22,81.1 494.5,75C494.78,68.9 495.02,66.43 495.4,61.6C495.78,56.77 496.32,50.02 496.8,46C497.28,41.98 497.83,39.45 498.3,37.5C498.77,35.55 499.15,34.3 499.6,34.3C500.05,34.3 500.48,34.98 501,37.5C501.52,40.02 502.25,44.65 502.7,49.4C503.15,54.15 503.42,59.9 503.7,66C503.98,72.1 504.15,76.57 504.4,86C504.65,95.43 505,114.27 505.2,122.6C505.4,130.93 505.48,133.17 505.6,136C505.72,138.83 505.85,139 505.9,139.6L506,138.29 506.85,144.93 507.7,146.1 508.55,150.26 509.4,147.38 510.25,146.71 511.1,143.14 511.95,147.57 512.8,146.44 513.65,145.43 514.5,145.05 515.35,145.21 516.2,142.62 517.05,145.57 517.9,142.88 518.75,143.9 519.6,140.99 520.45,142.79 521.3,141.1 522.15,143.71 523,138.09 523.85,139.21 524.7,136.86 525.55,137.26 526.4,137.73 527.25,137.38 528.1,135.86 528.95,135.27 529.8,136.49 530.65,132.99 531.5,135.08 532.35,135.77 533.2,135.81 534.05,136.23 534.9,136.53 535.75,135.54 536.6,134.06 537.45,133.01 538.3,136.31 539.15,136.42 540,134.62 540.85,135.19 541.7,136.51 542.55,135.77 543.4,133.02 544.25,135.08 545.1,136.06 545.95,134.54 546.8,131.41 547.65,135.57 548.5,132.62 549.35,136.4 550.2,135.07 551.05,135.05 551.9,134.87 552.75,135.27 553.6,131.11 554.45,133.63 555.3,134.03 556.15,135.2 557,133.21 557.85,136.05 558.7,132.17 559.55,133.3 560.4,132.18 561.25,135.04 562.1,133.21 562.95,134.39 563.8,131.92 564.65,133.87 565.5,129.82 566.35,132.59 567.2,131.27 568.05,132.92 568.9,131.67 569.75,134.98 570.6,132.92 571.45,134.51 572.3,132.04 573.15,136.96 574,131.33 574.85,133.29 575.7,130.51 576.55,134.66 577.4,131.3 578.25,129.34 579.1,132.81 579.95,133.32 580.8,132.46 581.65,133.25 582.5,131.49 583.35,133.18 584.2,132.61 585.05,134.08 585.9,131.24 586.75,133.41 587.6,133.46 588.45,133.42 589.3,132.77 590.15,134.49 591,133.16 591.85,134.99 592.7,133.2 593.55,135.43 594.4,133.26 595.25,135.84 596.1,131.71 596.95,134.16 597.8,132.39 598.65,133.73 599.5,135.05 600.35,135.68 601.2,136.84 602.05,134.83 602.9,135.61 603.75,136.03 604.6,134.34 605.45,140.73 606.3,137.55 607.15,139.94 608,136.39 608.85,139.88 609.7,138.71 610.55,138.67 611.4,137.16 612.25,146.12 613.1,142.29 613.95,138.86 614.8,138.85 615.65,145.6 616.5,138.42 617.35,145.84 618.2,138.58 619.05,143.8 619.9,140.45 620.75,147.21 621.6,143.46 622.45,147.92 623.3,144.64 624.15,142.71 625,143.96 625.85,145.76 626.7,142.52 627.55,145.31 628.4,144.77 629.25,140.93 630.1,142.22 630.95,146.17 631.8,146.66 632.65,144.42 633.5,144.29 634.35,146 635.2,148.7 636.05,147.31 636.9,146.2 637.75,149.01 638.6,148.62 639.45,144.89 640.3,146.04 641.15,147.12 642,144.66 642.85,144.98 643.7,144.75 644.55,146.49 645.4,144.2 646.25,143.48 647.1,136.79 647.95,141.09 648.8,135.7 649.65,139.82 650.5,137.82 651.35,138.03 652.2,135.97 653.05,139.56 653.9,136.05 654.75,136.53 655.6,134.86 656.45,138.12 657.3,136.82 658.15,139.02 659,139.1 659.85,140.49 660.7,136.2 661.55,138.68 662.4,136.41 663.25,137.73 664.1,136.3 664.95,139.68 665.8,136.93 666.65,137.99 667.5,136.71 668.35,141.31 669.2,132.8 670.05,138.28 670.9,129.98 671.75,136.82 672.6,131.12 673.45,133.97 674.3,131.1 675.15,133.24L675.5,161.5L486.9,161.5Z" fill="url(#gc_ref)" stroke="none" stroke-width="1"/>
<path d="M505.4,109.74 506.4,107.14 507.4,104.96 508.4,102.04 509.4,99.82 510.4,97.85 511.4,95.59 512.4,94.44 513.4,93.18 514.4,92.05 515.4,89.95 516.4,89.01 517.4,87.71 518.4,87.83 519.4,87.13 520.4,85.62 521.4,85.83 522.4,84.55 523.4,82.95 524.4,83.44 525.4,83.1 526.4,83.03 527.4,83.85 528.4,83.6 529.4,84.11 530.4,84.54 531.4,84.68 532.4,85.61 533.4,86.01 534.4,86.94 535.4,87.01 536.4,87.61 537.4,87.91 538.4,88.58 539.4,88.81 540.4,89.07 541.4,90.41 542.4,90.89 543.4,91.19 544.4,91.51 545.4,91.53 546.4,91.91 547.4,92.47 548.4,92.7 549.4,94.03 550.4,94.08 551.4,95.11 552.4,95.05 553.4,96.23 554.4,96.6 555.4,96.08 556.4,96.83 557.4,98.17 558.4,98.15 559.4,99.26 560.4,98.96 561.4,98.75 562.4,100.48 563.4,101.31 564.4,100.69 565.4,100.79 566.4,101.83 567.4,103.72 568.4,103.77 569.4,102.86 570.4,103.64 571.4,103.83 572.4,104.24 573.4,106.37 574.4,105.51 575.4,106.85 576.4,107.11 577.4,107.05 578.4,108.74 579.4,107.91 580.4,109.54 581.4,108.87 582.4,110.03 583.4,110.06 584.4,110.66 585.4,112.68 586.4,112.78 587.4,112.14 588.4,113.88 589.4,112.84 590.4,113.7 591.4,115.15 592.4,115.12 593.4,114.37 594.4,116.76 595.4,115.48 596.4,116.01 597.4,117.57 598.4,117.02 599.4,117.38 600.4,117.3 601.4,117.72 602.4,119.17 603.4,118.78 604.4,119.95 605.4,119.86 606.4,120.48 607.4,122.07 608.4,121.52 609.4,122.23 610.4,124.2 611.4,121.73 612.4,122.15 613.4,126.02 614.4,126.18 615.4,124.23 616.4,124.53 617.4,127.51 618.4,128.95 619.4,126.23 620.4,130.1 621.4,130.35 622.4,129.68 623.4,129.42 624.4,128.56 625.4,128.8 626.4,133.38 627.4,130.7 628.4,133.25 629.4,131.77 630.4,134.75 631.4,134.23 632.4,133.38 633.4,133.33 634.4,136.19 635.4,133.78 636.4,134.93 637.4,136.81 638.4,138.52 639.4,137.88 640.4,136.79 641.4,139.96 642.4,137.17 643.4,136.66 644.4,138.04 645.4,139.05 646.4,137.56 647.4,138.24 648.4,139.24 649.4,140.27 650.4,138.45 651.4,139.57 652.4,142 653.4,142.5" fill="none" stroke="#df4650" stroke-width="1.2" stroke-linejoin="round"/>
<path d="M486.9,161.5C487,161.32 487.1,161.6 487.5,160.4C487.9,159.2 488.58,156.53 489.3,154.3C490.02,152.07 491.18,150.25 491.8,147C492.42,143.75 492.68,142.93 493,134.8C493.32,126.67 493.45,108.17 493.7,98.2C493.95,88.23 494.22,81.1 494.5,75C494.78,68.9 495.02,66.43 495.4,61.6C495.78,56.77 496.32,50.02 496.8,46C497.28,41.98 497.83,39.45 498.3,37.5C498.77,35.55 499.15,34.3 499.6,34.3C500.05,34.3 500.48,34.98 501,37.5C501.52,40.02 502.25,44.65 502.7,49.4C503.15,54.15 503.42,59.9 503.7,66C503.98,72.1 504.15,76.57 504.4,86C504.65,95.43 505,114.27 505.2,122.6C505.4,130.93 505.48,133.17 505.6,136C505.72,138.83 505.85,139 505.9,139.6L506,138.29 506.85,144.93 507.7,146.1 508.55,150.26 509.4,147.38 510.25,146.71 511.1,143.14 511.95,147.57 512.8,146.44 513.65,145.43 514.5,145.05 515.35,145.21 516.2,142.62 517.05,145.57 517.9,142.88 518.75,143.9 519.6,140.99 520.45,142.79 521.3,141.1 522.15,143.71 523,138.09 523.85,139.21 524.7,136.86 525.55,137.26 526.4,137.73 527.25,137.38 528.1,135.86 528.95,135.27 529.8,136.49 530.65,132.99 531.5,135.08 532.35,135.77 533.2,135.81 534.05,136.23 534.9,136.53 535.75,135.54 536.6,134.06 537.45,133.01 538.3,136.31 539.15,136.42 540,134.62 540.85,135.19 541.7,136.51 542.55,135.77 543.4,133.02 544.25,135.08 545.1,136.06 545.95,134.54 546.8,131.41 547.65,135.57 548.5,132.62 549.35,136.4 550.2,135.07 551.05,135.05 551.9,134.87 552.75,135.27 553.6,131.11 554.45,133.63 555.3,134.03 556.15,135.2 557,133.21 557.85,136.05 558.7,132.17 559.55,133.3 560.4,132.18 561.25,135.04 562.1,133.21 562.95,134.39 563.8,131.92 564.65,133.87 565.5,129.82 566.35,132.59 567.2,131.27 568.05,132.92 568.9,131.67 569.75,134.98 570.6,132.92 571.45,134.51 572.3,132.04 573.15,136.96 574,131.33 574.85,133.29 575.7,130.51 576.55,134.66 577.4,131.3 578.25,129.34 579.1,132.81 579.95,133.32 580.8,132.46 581.65,133.25 582.5,131.49 583.35,133.18 584.2,132.61 585.05,134.08 585.9,131.24 586.75,133.41 587.6,133.46 588.45,133.42 589.3,132.77 590.15,134.49 591,133.16 591.85,134.99 592.7,133.2 593.55,135.43 594.4,133.26 595.25,135.84 596.1,131.71 596.95,134.16 597.8,132.39 598.65,133.73 599.5,135.05 600.35,135.68 601.2,136.84 602.05,134.83 602.9,135.61 603.75,136.03 604.6,134.34 605.45,140.73 606.3,137.55 607.15,139.94 608,136.39 608.85,139.88 609.7,138.71 610.55,138.67 611.4,137.16 612.25,146.12 613.1,142.29 613.95,138.86 614.8,138.85 615.65,145.6 616.5,138.42 617.35,145.84 618.2,138.58 619.05,143.8 619.9,140.45 620.75,147.21 621.6,143.46 622.45,147.92 623.3,144.64 624.15,142.71 625,143.96 625.85,145.76 626.7,142.52 627.55,145.31 628.4,144.77 629.25,140.93 630.1,142.22 630.95,146.17 631.8,146.66 632.65,144.42 633.5,144.29 634.35,146 635.2,148.7 636.05,147.31 636.9,146.2 637.75,149.01 638.6,148.62 639.45,144.89 640.3,146.04 641.15,147.12 642,144.66 642.85,144.98 643.7,144.75 644.55,146.49 645.4,144.2 646.25,143.48 647.1,136.79 647.95,141.09 648.8,135.7 649.65,139.82 650.5,137.82 651.35,138.03 652.2,135.97 653.05,139.56 653.9,136.05 654.75,136.53 655.6,134.86 656.45,138.12 657.3,136.82 658.15,139.02 659,139.1 659.85,140.49 660.7,136.2 661.55,138.68 662.4,136.41 663.25,137.73 664.1,136.3 664.95,139.68 665.8,136.93 666.65,137.99 667.5,136.71 668.35,141.31 669.2,132.8 670.05,138.28 670.9,129.98 671.75,136.82 672.6,131.12 673.45,133.97 674.3,131.1 675.15,133.24" fill="none" stroke="#4a6fd0" stroke-width="1.3" stroke-linejoin="round"/>
<rect x="485.7" y="7.6" width="189.8" height="153.9" fill="none" stroke="#111" stroke-width="1.2"/>
<line x1="485.7" y1="161.5" x2="482.2" y2="161.5" stroke="#111" stroke-width="1"/>
<text x="476.6" y="165.7" font-size="9.8" font-weight="bold" text-anchor="end" fill="#000" font-family='"Liberation Sans", sans-serif'>10</text>
<text x="476.9" y="161.1" font-size="6.3" font-weight="bold" text-anchor="start" fill="#000" font-family='"Liberation Sans", sans-serif'>1</text>
<line x1="485.7" y1="149.92" x2="483.7" y2="149.92" stroke="#111" stroke-width="0.8"/>
<line x1="485.7" y1="143.14" x2="483.7" y2="143.14" stroke="#111" stroke-width="0.8"/>
<line x1="485.7" y1="138.34" x2="483.7" y2="138.34" stroke="#111" stroke-width="0.8"/>
<line x1="485.7" y1="134.61" x2="483.7" y2="134.61" stroke="#111" stroke-width="0.8"/>
<line x1="485.7" y1="131.56" x2="483.7" y2="131.56" stroke="#111" stroke-width="0.8"/>
<line x1="485.7" y1="128.98" x2="483.7" y2="128.98" stroke="#111" stroke-width="0.8"/>
<line x1="485.7" y1="126.75" x2="483.7" y2="126.75" stroke="#111" stroke-width="0.8"/>
<line x1="485.7" y1="124.79" x2="483.7" y2="124.79" stroke="#111" stroke-width="0.8"/>
<line x1="485.7" y1="123.03" x2="482.2" y2="123.03" stroke="#111" stroke-width="1"/>
<text x="476.6" y="127.23" font-size="9.8" font-weight="bold" text-anchor="end" fill="#000" font-family='"Liberation Sans", sans-serif'>10</text>
<text x="476.9" y="122.62" font-size="6.3" font-weight="bold" text-anchor="start" fill="#000" font-family='"Liberation Sans", sans-serif'>2</text>
<line x1="485.7" y1="111.44" x2="483.7" y2="111.44" stroke="#111" stroke-width="0.8"/>
<line x1="485.7" y1="104.67" x2="483.7" y2="104.67" stroke="#111" stroke-width="0.8"/>
<line x1="485.7" y1="99.86" x2="483.7" y2="99.86" stroke="#111" stroke-width="0.8"/>
<line x1="485.7" y1="96.13" x2="483.7" y2="96.13" stroke="#111" stroke-width="0.8"/>
<line x1="485.7" y1="93.09" x2="483.7" y2="93.09" stroke="#111" stroke-width="0.8"/>
<line x1="485.7" y1="90.51" x2="483.7" y2="90.51" stroke="#111" stroke-width="0.8"/>
<line x1="485.7" y1="88.28" x2="483.7" y2="88.28" stroke="#111" stroke-width="0.8"/>
<line x1="485.7" y1="86.31" x2="483.7" y2="86.31" stroke="#111" stroke-width="0.8"/>
<line x1="485.7" y1="84.55" x2="482.2" y2="84.55" stroke="#111" stroke-width="1"/>
<text x="476.6" y="88.75" font-size="9.8" font-weight="bold" text-anchor="end" fill="#000" font-family='"Liberation Sans", sans-serif'>10</text>
<text x="476.9" y="84.15" font-size="6.3" font-weight="bold" text-anchor="start" fill="#000" font-family='"Liberation Sans", sans-serif'>3</text>
<line x1="485.7" y1="72.97" x2="483.7" y2="72.97" stroke="#111" stroke-width="0.8"/>
<line x1="485.7" y1="66.19" x2="483.7" y2="66.19" stroke="#111" stroke-width="0.8"/>
<line x1="485.7" y1="61.39" x2="483.7" y2="61.39" stroke="#111" stroke-width="0.8"/>
<line x1="485.7" y1="57.66" x2="483.7" y2="57.66" stroke="#111" stroke-width="0.8"/>
<line x1="485.7" y1="54.61" x2="483.7" y2="54.61" stroke="#111" stroke-width="0.8"/>
<line x1="485.7" y1="52.03" x2="483.7" y2="52.03" stroke="#111" stroke-width="0.8"/>
<line x1="485.7" y1="49.8" x2="483.7" y2="49.8" stroke="#111" stroke-width="0.8"/>
<line x1="485.7" y1="47.84" x2="483.7" y2="47.84" stroke="#111" stroke-width="0.8"/>
<line x1="485.7" y1="46.07" x2="482.2" y2="46.07" stroke="#111" stroke-width="1"/>
<text x="476.6" y="50.27" font-size="9.8" font-weight="bold" text-anchor="end" fill="#000" font-family='"Liberation Sans", sans-serif'>10</text>
<text x="476.9" y="45.67" font-size="6.3" font-weight="bold" text-anchor="start" fill="#000" font-family='"Liberation Sans", sans-serif'>4</text>
<line x1="485.7" y1="34.49" x2="483.7" y2="34.49" stroke="#111" stroke-width="0.8"/>
<line x1="485.7" y1="27.72" x2="483.7" y2="27.72" stroke="#111" stroke-width="0.8"/>
<line x1="485.7" y1="22.91" x2="483.7" y2="22.91" stroke="#111" stroke-width="0.8"/>
<line x1="485.7" y1="19.18" x2="483.7" y2="19.18" stroke="#111" stroke-width="0.8"/>
<line x1="485.7" y1="16.14" x2="483.7" y2="16.14" stroke="#111" stroke-width="0.8"/>
<line x1="485.7" y1="13.56" x2="483.7" y2="13.56" stroke="#111" stroke-width="0.8"/>
<line x1="485.7" y1="11.33" x2="483.7" y2="11.33" stroke="#111" stroke-width="0.8"/>
<line x1="485.7" y1="9.36" x2="483.7" y2="9.36" stroke="#111" stroke-width="0.8"/>
<line x1="485.7" y1="7.6" x2="482.2" y2="7.6" stroke="#111" stroke-width="1"/>
<text x="476.6" y="11.8" font-size="9.8" font-weight="bold" text-anchor="end" fill="#000" font-family='"Liberation Sans", sans-serif'>10</text>
<text x="476.9" y="7.2" font-size="6.3" font-weight="bold" text-anchor="start" fill="#000" font-family='"Liberation Sans", sans-serif'>5</text>
<line x1="517.33" y1="161.5" x2="517.33" y2="164.5" stroke="#000" stroke-width="1"/>
<text x="517.33" y="173.9" font-size="9.3" font-weight="bold" text-anchor="middle" fill="#000" font-family='"Liberation Sans", sans-serif'>400</text>
<line x1="570.06" y1="161.5" x2="570.06" y2="164.5" stroke="#000" stroke-width="1"/>
<text x="570.06" y="173.9" font-size="9.3" font-weight="bold" text-anchor="middle" fill="#000" font-family='"Liberation Sans", sans-serif'>500</text>
<line x1="622.78" y1="161.5" x2="622.78" y2="164.5" stroke="#000" stroke-width="1"/>
<text x="622.78" y="173.9" font-size="9.3" font-weight="bold" text-anchor="middle" fill="#000" font-family='"Liberation Sans", sans-serif'>600</text>
<line x1="675.5" y1="161.5" x2="675.5" y2="164.5" stroke="#000" stroke-width="1"/>
<text x="675.5" y="173.9" font-size="9.3" font-weight="bold" text-anchor="middle" fill="#000" font-family='"Liberation Sans", sans-serif'>700</text>
<line x1="490.97" y1="161.5" x2="490.97" y2="163.5" stroke="#000" stroke-width="1"/>
<line x1="543.69" y1="161.5" x2="543.69" y2="163.5" stroke="#000" stroke-width="1"/>
<line x1="596.42" y1="161.5" x2="596.42" y2="163.5" stroke="#000" stroke-width="1"/>
<line x1="649.14" y1="161.5" x2="649.14" y2="163.5" stroke="#000" stroke-width="1"/>
<text x="580.2" y="187.3" font-size="11.2" font-weight="bold" text-anchor="middle" fill="#000" font-family='"Liberation Sans", sans-serif'>Wavelength (nm)</text>
<text transform="translate(463.3,84.5) rotate(-90)" font-size="11" font-weight="bold" text-anchor="middle" fill="#000" font-family='"Liberation Sans", sans-serif'>Photon count</text>
<text x="449.6" y="13.8" font-size="18.5" font-weight="bold" text-anchor="start" fill="#000" font-family='"Liberation Sans", sans-serif'>c</text>
<rect x="568.8" y="24.9" width="21.9" height="10.5" fill="url(#gc_redsw)" stroke="#e0505a" stroke-width="1.2"/>
<rect x="568.8" y="36.6" width="21.9" height="11.1" fill="url(#gc_refsw)" stroke="#4a70d0" stroke-width="1.2"/>
<text x="593.6" y="33.6" font-size="9.4" font-weight="bold" text-anchor="start" fill="#000" font-family='"Liberation Sans", sans-serif'>EM of PU-UPy</text>
<text x="593.6" y="45.5" font-size="9.4" font-weight="bold" text-anchor="start" fill="#000" font-family='"Liberation Sans", sans-serif'>EM of reference</text>
<text x="564.9" y="91" font-size="14" font-weight="bold" fill="#000" font-family='"Liberation Sans", sans-serif'><tspan font-style="italic">&#934;</tspan>=52%</text>
<line x1="18.5" y1="209.55" x2="210.8" y2="209.55" stroke="#e2e2e2" stroke-width="0.7" stroke-dasharray="2,1.5"/>
<line x1="18.5" y1="234.65" x2="210.8" y2="234.65" stroke="#e2e2e2" stroke-width="0.7" stroke-dasharray="2,1.5"/>
<line x1="18.5" y1="259.75" x2="210.8" y2="259.75" stroke="#e2e2e2" stroke-width="0.7" stroke-dasharray="2,1.5"/>
<line x1="18.5" y1="284.85" x2="210.8" y2="284.85" stroke="#e2e2e2" stroke-width="0.7" stroke-dasharray="2,1.5"/>
<line x1="18.5" y1="309.95" x2="210.8" y2="309.95" stroke="#e2e2e2" stroke-width="0.7" stroke-dasharray="2,1.5"/>
<line x1="18.5" y1="335.05" x2="210.8" y2="335.05" stroke="#e2e2e2" stroke-width="0.7" stroke-dasharray="2,1.5"/>
<rect x="19" y="204.4" width="142.35" height="10.3" fill="url(#gd_red)" stroke="none" stroke-width="1"/>
<text x="159.4" y="212.5" font-size="8.4" font-weight="bold" text-anchor="end" fill="#ff2a2a" font-family='"Liberation Sans", sans-serif'>~52</text>
<text x="165.7" y="212.6" font-size="8.3" font-weight="bold" text-anchor="start" fill="#000" font-family='"Liberation Sans", sans-serif'>This work</text>
<rect x="19" y="216.95" width="103.89" height="10.3" fill="url(#gd_bar)" stroke="none" stroke-width="1"/>
<text x="118.5" y="225.05" font-size="8.4" font-weight="bold" text-anchor="end" fill="#2f2fe6" font-family='"Liberation Sans", sans-serif'>38</text>
<text x="126.8" y="225.15" font-size="8.3" font-weight="bold" text-anchor="start" fill="#000" font-family='"Liberation Sans", sans-serif'>Ref 32</text>
<rect x="19" y="229.5" width="62.96" height="10.3" fill="url(#gd_bar)" stroke="none" stroke-width="1"/>
<text x="78.8" y="237.6" font-size="8.4" font-weight="bold" text-anchor="end" fill="#2f2fe6" font-family='"Liberation Sans", sans-serif'>23.1</text>
<text x="85.4" y="237.7" font-size="8.3" font-weight="bold" text-anchor="start" fill="#000" font-family='"Liberation Sans", sans-serif'>Ref 25</text>
<rect x="19" y="242.05" width="55.27" height="10.3" fill="url(#gd_bar)" stroke="none" stroke-width="1"/>
<text x="70.6" y="250.15" font-size="8.4" font-weight="bold" text-anchor="end" fill="#2f2fe6" font-family='"Liberation Sans", sans-serif'>20.3</text>
<text x="79.5" y="250.25" font-size="8.3" font-weight="bold" text-anchor="start" fill="#000" font-family='"Liberation Sans", sans-serif'>Ref 33</text>
<rect x="19" y="254.6" width="35.49" height="10.3" fill="url(#gd_bar)" stroke="none" stroke-width="1"/>
<text x="52.1" y="262.7" font-size="8.4" font-weight="bold" text-anchor="end" fill="#2f2fe6" font-family='"Liberation Sans", sans-serif'>13.1</text>
<text x="59.8" y="262.8" font-size="8.3" font-weight="bold" text-anchor="start" fill="#000" font-family='"Liberation Sans", sans-serif'>Ref 23</text>
<rect x="19" y="267.15" width="35.21" height="10.3" fill="url(#gd_bar)" stroke="none" stroke-width="1"/>
<text x="50.3" y="275.25" font-size="8.4" font-weight="bold" text-anchor="end" fill="#2f2fe6" font-family='"Liberation Sans", sans-serif'>13</text>
<text x="56.3" y="275.35" font-size="8.3" font-weight="bold" text-anchor="start" fill="#000" font-family='"Liberation Sans", sans-serif'>Ref 34</text>
<rect x="19" y="279.7" width="32.47" height="10.3" fill="url(#gd_bar)" stroke="none" stroke-width="1"/>
<text x="49.4" y="287.8" font-size="8.4" font-weight="bold" text-anchor="end" fill="#2f2fe6" font-family='"Liberation Sans", sans-serif'>12</text>
<text x="54" y="287.9" font-size="8.3" font-weight="bold" text-anchor="start" fill="#000" font-family='"Liberation Sans", sans-serif'>Ref 35</text>
<rect x="19" y="292.25" width="22.03" height="10.3" fill="url(#gd_bar)" stroke="none" stroke-width="1"/>
<text x="40.4" y="300.35" font-size="8.4" font-weight="bold" text-anchor="end" fill="#2f2fe6" font-family='"Liberation Sans", sans-serif'>8.2</text>
<text x="44.3" y="300.45" font-size="8.3" font-weight="bold" text-anchor="start" fill="#000" font-family='"Liberation Sans", sans-serif'>Ref 36</text>
<rect x="19" y="304.8" width="21.75" height="10.3" fill="url(#gd_bar)" stroke="none" stroke-width="1"/>
<text x="38.6" y="312.9" font-size="8.4" font-weight="bold" text-anchor="end" fill="#2f2fe6" font-family='"Liberation Sans", sans-serif'>8.1</text>
<text x="43.4" y="313" font-size="8.3" font-weight="bold" text-anchor="start" fill="#000" font-family='"Liberation Sans", sans-serif'>Ref 23</text>
<rect x="19" y="317.35" width="19.83" height="10.3" fill="url(#gd_bar)" stroke="none" stroke-width="1"/>
<text x="38" y="325.45" font-size="8.4" font-weight="bold" text-anchor="end" fill="#2f2fe6" font-family='"Liberation Sans", sans-serif'>7.4</text>
<text x="41.2" y="325.55" font-size="8.3" font-weight="bold" text-anchor="start" fill="#000" font-family='"Liberation Sans", sans-serif'>Ref 22</text>
<rect x="19" y="329.9" width="17.08" height="10.3" fill="url(#gd_bar)" stroke="none" stroke-width="1"/>
<text x="34.3" y="338" font-size="8.4" font-weight="bold" text-anchor="end" fill="#2f2fe6" font-family='"Liberation Sans", sans-serif'>6.4</text>
<text x="38.5" y="338.1" font-size="8.3" font-weight="bold" text-anchor="start" fill="#000" font-family='"Liberation Sans", sans-serif'>Ref 8</text>
<rect x="18.5" y="198.2" width="192.3" height="149.3" fill="none" stroke="#111" stroke-width="1.2"/>
<line x1="18.5" y1="347.5" x2="18.5" y2="350.5" stroke="#000" stroke-width="1"/>
<text x="18.5" y="359.1" font-size="9.3" font-weight="bold" text-anchor="middle" fill="#000" font-family='"Liberation Sans", sans-serif'>0</text>
<line x1="45.97" y1="347.5" x2="45.97" y2="350.5" stroke="#000" stroke-width="1"/>
<text x="45.97" y="359.1" font-size="9.3" font-weight="bold" text-anchor="middle" fill="#000" font-family='"Liberation Sans", sans-serif'>10</text>
<line x1="73.44" y1="347.5" x2="73.44" y2="350.5" stroke="#000" stroke-width="1"/>
<text x="73.44" y="359.1" font-size="9.3" font-weight="bold" text-anchor="middle" fill="#000" font-family='"Liberation Sans", sans-serif'>20</text>
<line x1="100.91" y1="347.5" x2="100.91" y2="350.5" stroke="#000" stroke-width="1"/>
<text x="100.91" y="359.1" font-size="9.3" font-weight="bold" text-anchor="middle" fill="#000" font-family='"Liberation Sans", sans-serif'>30</text>
<line x1="128.39" y1="347.5" x2="128.39" y2="350.5" stroke="#000" stroke-width="1"/>
<text x="128.39" y="359.1" font-size="9.3" font-weight="bold" text-anchor="middle" fill="#000" font-family='"Liberation Sans", sans-serif'>40</text>
<line x1="155.86" y1="347.5" x2="155.86" y2="350.5" stroke="#000" stroke-width="1"/>
<text x="155.86" y="359.1" font-size="9.3" font-weight="bold" text-anchor="middle" fill="#000" font-family='"Liberation Sans", sans-serif'>50</text>
<line x1="183.33" y1="347.5" x2="183.33" y2="350.5" stroke="#000" stroke-width="1"/>
<text x="183.33" y="359.1" font-size="9.3" font-weight="bold" text-anchor="middle" fill="#000" font-family='"Liberation Sans", sans-serif'>60</text>
<line x1="210.8" y1="347.5" x2="210.8" y2="350.5" stroke="#000" stroke-width="1"/>
<text x="210.8" y="359.1" font-size="9.3" font-weight="bold" text-anchor="middle" fill="#000" font-family='"Liberation Sans", sans-serif'>70</text>
<line x1="23.99" y1="347.5" x2="23.99" y2="349.3" stroke="#000" stroke-width="1"/>
<line x1="29.49" y1="347.5" x2="29.49" y2="349.3" stroke="#000" stroke-width="1"/>
<line x1="34.98" y1="347.5" x2="34.98" y2="349.3" stroke="#000" stroke-width="1"/>
<line x1="40.48" y1="347.5" x2="40.48" y2="349.3" stroke="#000" stroke-width="1"/>
<line x1="51.47" y1="347.5" x2="51.47" y2="349.3" stroke="#000" stroke-width="1"/>
<line x1="56.96" y1="347.5" x2="56.96" y2="349.3" stroke="#000" stroke-width="1"/>
<line x1="62.45" y1="347.5" x2="62.45" y2="349.3" stroke="#000" stroke-width="1"/>
<line x1="67.95" y1="347.5" x2="67.95" y2="349.3" stroke="#000" stroke-width="1"/>
<line x1="78.94" y1="347.5" x2="78.94" y2="349.3" stroke="#000" stroke-width="1"/>
<line x1="84.43" y1="347.5" x2="84.43" y2="349.3" stroke="#000" stroke-width="1"/>
<line x1="89.93" y1="347.5" x2="89.93" y2="349.3" stroke="#000" stroke-width="1"/>
<line x1="95.42" y1="347.5" x2="95.42" y2="349.3" stroke="#000" stroke-width="1"/>
<line x1="106.41" y1="347.5" x2="106.41" y2="349.3" stroke="#000" stroke-width="1"/>
<line x1="111.9" y1="347.5" x2="111.9" y2="349.3" stroke="#000" stroke-width="1"/>
<line x1="117.4" y1="347.5" x2="117.4" y2="349.3" stroke="#000" stroke-width="1"/>
<line x1="122.89" y1="347.5" x2="122.89" y2="349.3" stroke="#000" stroke-width="1"/>
<line x1="133.88" y1="347.5" x2="133.88" y2="349.3" stroke="#000" stroke-width="1"/>
<line x1="139.37" y1="347.5" x2="139.37" y2="349.3" stroke="#000" stroke-width="1"/>
<line x1="144.87" y1="347.5" x2="144.87" y2="349.3" stroke="#000" stroke-width="1"/>
<line x1="150.36" y1="347.5" x2="150.36" y2="349.3" stroke="#000" stroke-width="1"/>
<line x1="161.35" y1="347.5" x2="161.35" y2="349.3" stroke="#000" stroke-width="1"/>
<line x1="166.85" y1="347.5" x2="166.85" y2="349.3" stroke="#000" stroke-width="1"/>
<line x1="172.34" y1="347.5" x2="172.34" y2="349.3" stroke="#000" stroke-width="1"/>
<line x1="177.83" y1="347.5" x2="177.83" y2="349.3" stroke="#000" stroke-width="1"/>
<line x1="188.82" y1="347.5" x2="188.82" y2="349.3" stroke="#000" stroke-width="1"/>
<line x1="194.32" y1="347.5" x2="194.32" y2="349.3" stroke="#000" stroke-width="1"/>
<line x1="199.81" y1="347.5" x2="199.81" y2="349.3" stroke="#000" stroke-width="1"/>
<line x1="205.31" y1="347.5" x2="205.31" y2="349.3" stroke="#000" stroke-width="1"/>
<text x="114.5" y="374.4" font-size="11.6" font-weight="bold" text-anchor="middle" fill="#000" font-family='"Liberation Sans", sans-serif'>Quantum yield (%)</text>
<text x="-0.4" y="205" font-size="18.5" font-weight="bold" text-anchor="start" fill="#000" font-family='"Liberation Sans", sans-serif'>d</text>
<path d="M335.4,234.3L389.37,325.32L276.93,327.78Z" fill="#f4d3ea" stroke="none" stroke-width="1"/>
<path d="M335.4,283.5L346.64,301.95L324.16,301.95Z" fill="none" stroke="#c8b6c2" stroke-width="0.5" stroke-dasharray="1.2,1.4"/>
<path d="M335.4,271.2L357.89,308.1L312.91,308.1Z" fill="none" stroke="#c8b6c2" stroke-width="0.5" stroke-dasharray="1.2,1.4"/>
<path d="M335.4,258.9L369.13,314.25L301.67,314.25Z" fill="none" stroke="#c8b6c2" stroke-width="0.5" stroke-dasharray="1.2,1.4"/>
<path d="M335.4,246.6L380.37,320.4L290.43,320.4Z" fill="none" stroke="#c8b6c2" stroke-width="0.5" stroke-dasharray="1.2,1.4"/>
<path d="M335.4,234.3L391.62,326.55L279.18,326.55Z" fill="none" stroke="#c8b6c2" stroke-width="0.5" stroke-dasharray="1.2,1.4"/>
<path d="M335.4,222L402.86,332.7L267.94,332.7Z" fill="none" stroke="#d8d8d8" stroke-width="0.5" stroke-dasharray="1.2,1.4"/>
<path d="M335.4,234.3L389.37,325.32L276.93,327.78Z" fill="none" stroke="#c4626a" stroke-width="1.0" stroke-linejoin="miter"/>
<line x1="335.4" y1="295.8" x2="335.4" y2="222" stroke="#4a4048" stroke-width="0.8"/>
<line x1="335.4" y1="295.8" x2="402.86" y2="332.7" stroke="#4a4048" stroke-width="0.8"/>
<line x1="335.4" y1="295.8" x2="267.94" y2="332.7" stroke="#4a4048" stroke-width="0.8"/>
<line x1="334.4" y1="289.65" x2="336.4" y2="289.65" stroke="#4a4048" stroke-width="0.8"/>
<line x1="333.8" y1="283.5" x2="337" y2="283.5" stroke="#4a4048" stroke-width="0.8"/>
<line x1="334.4" y1="277.35" x2="336.4" y2="277.35" stroke="#4a4048" stroke-width="0.8"/>
<line x1="333.8" y1="271.2" x2="337" y2="271.2" stroke="#4a4048" stroke-width="0.8"/>
<line x1="334.4" y1="265.05" x2="336.4" y2="265.05" stroke="#4a4048" stroke-width="0.8"/>
<line x1="333.8" y1="258.9" x2="337" y2="258.9" stroke="#4a4048" stroke-width="0.8"/>
<line x1="334.4" y1="252.75" x2="336.4" y2="252.75" stroke="#4a4048" stroke-width="0.8"/>
<line x1="333.8" y1="246.6" x2="337" y2="246.6" stroke="#4a4048" stroke-width="0.8"/>
<line x1="334.4" y1="240.45" x2="336.4" y2="240.45" stroke="#4a4048" stroke-width="0.8"/>
<line x1="333.8" y1="234.3" x2="337" y2="234.3" stroke="#4a4048" stroke-width="0.8"/>
<line x1="334.4" y1="228.15" x2="336.4" y2="228.15" stroke="#4a4048" stroke-width="0.8"/>
<line x1="333.8" y1="222" x2="337" y2="222" stroke="#4a4048" stroke-width="0.8"/>
<text x="333.8" y="224.3" font-size="6.4" font-weight="bold" text-anchor="end" fill="#000" font-family='"Liberation Sans", sans-serif'>1200</text>
<text x="333.8" y="236.5" font-size="6.4" font-weight="bold" text-anchor="end" fill="#000" font-family='"Liberation Sans", sans-serif'>1000</text>
<text x="333.8" y="248.9" font-size="6.4" font-weight="bold" text-anchor="end" fill="#000" font-family='"Liberation Sans", sans-serif'>800</text>
<text x="333.8" y="260.9" font-size="6.4" font-weight="bold" text-anchor="end" fill="#000" font-family='"Liberation Sans", sans-serif'>600</text>
<text x="333.8" y="273.4" font-size="6.4" font-weight="bold" text-anchor="end" fill="#000" font-family='"Liberation Sans", sans-serif'>400</text>
<text x="333.8" y="285.8" font-size="6.4" font-weight="bold" text-anchor="end" fill="#000" font-family='"Liberation Sans", sans-serif'>200</text>
<text x="326.6" y="297.4" font-size="6.4" font-weight="bold" text-anchor="middle" fill="#2a2026" font-family='"Liberation Sans", sans-serif'>0</text>
<text x="332.3" y="298.1" font-size="5.4" font-weight="bold" text-anchor="middle" fill="#20186a" font-family='"Liberation Sans", sans-serif'>0</text>
<text x="338.3" y="293.2" font-size="6.2" font-weight="bold" text-anchor="middle" fill="#2a2026" font-family='"Liberation Sans", sans-serif'>0</text>
<text x="308.5" y="308.3" font-size="6.6" font-weight="bold" text-anchor="middle" fill="#000" font-family='"Liberation Sans", sans-serif'>20</text>
<text x="289.4" y="319.2" font-size="6.6" font-weight="bold" text-anchor="middle" fill="#000" font-family='"Liberation Sans", sans-serif'>40</text>
<text x="270.4" y="329.9" font-size="6.6" font-weight="bold" text-anchor="middle" fill="#000" font-family='"Liberation Sans", sans-serif'>60</text>
<text x="351.5" y="300.7" font-size="6.6" font-weight="bold" text-anchor="middle" fill="#000" font-family='"Liberation Sans", sans-serif'>5</text>
<text x="366.8" y="308.3" font-size="6.6" font-weight="bold" text-anchor="middle" fill="#000" font-family='"Liberation Sans", sans-serif'>10</text>
<text x="380.2" y="315.7" font-size="6.6" font-weight="bold" text-anchor="middle" fill="#000" font-family='"Liberation Sans", sans-serif'>15</text>
<text x="393.3" y="322.9" font-size="6.6" font-weight="bold" text-anchor="middle" fill="#000" font-family='"Liberation Sans", sans-serif'>20</text>
<text x="406.7" y="331" font-size="6.6" font-weight="bold" text-anchor="middle" fill="#000" font-family='"Liberation Sans", sans-serif'>25</text>
<path d="M335.4,289.9L343.23,300.08L324.16,301.95Z" fill="#6f62f6" stroke="#3434f2" stroke-width="1.0" fill-opacity="0.82" stroke-linejoin="round"/>
<text x="335.5" y="214.9" font-size="9.6" font-weight="bold" text-anchor="middle" fill="#000" font-family='"Liberation Sans", sans-serif'>Strain(%)</text>
<text x="265.4" y="344.7" font-size="9" font-weight="bold" text-anchor="middle" fill="#000" font-family='"Liberation Sans", sans-serif'>PLQY(%)</text>
<text x="414.6" y="344.2" font-size="9" font-weight="bold" text-anchor="middle" fill="#000" font-family='"Liberation Sans", sans-serif'>Stress(MPa)</text>
<rect x="366.5" y="222.1" width="49.3" height="20.4" fill="#fff" stroke="#a0a0a0" stroke-width="0.8"/>
<rect x="367.2" y="224" width="17.7" height="7.9" fill="#7676ff" stroke="none" stroke-width="1"/>
<rect x="367.2" y="233" width="17.7" height="8.1" fill="#f5d5ea" stroke="none" stroke-width="1"/>
<text x="386.6" y="230.2" font-size="8.2" font-weight="bold" text-anchor="start" fill="#000" font-family='"Liberation Sans", sans-serif'>PU-b</text>
<text x="386.6" y="239.2" font-size="8.2" font-weight="bold" text-anchor="start" fill="#000" font-family='"Liberation Sans", sans-serif'>PU-UPy</text>
<rect x="243.4" y="196.3" width="199.3" height="157" fill="none" stroke="#0a0a0a" stroke-width="1.3"/>
<text x="224.1" y="205.9" font-size="18.5" font-weight="bold" text-anchor="start" fill="#000" font-family='"Liberation Sans", sans-serif'>e</text>
<line x1="486.5" y1="272.5" x2="677.3" y2="272.5" stroke="#222" stroke-width="0.85" stroke-dasharray="1.4,1.2"/>
<path d="M502.6,268.4 503.4,268.4 504.1,268.17 504.8,267.95 505.5,269.3 506.15,271.48 506.8,271.47 507.45,274.58 508.1,276.2 508.83,276.4 509.57,276.07 510.3,278 510.9,275.12 511.5,270.81 512.1,269.3 512.67,269.37 513.23,268.54 513.8,270.1 514.5,275 515.1,271.87 515.7,270.97 516.3,269.3 516.95,273.73 517.6,276.2 518.2,271.9 518.8,269.04 519.4,266.7 519.97,263.58 520.53,261.04 521.1,256.2 521.8,249.48 522.5,242.3 523.1,245.44 523.7,249.2 524.35,254.13 525,256.2 525.7,248.74 526.4,244 526.97,250.31 527.53,253.84 528.1,259.7 529,251 529.57,244.13 530.13,238.25 530.7,233.6 531.3,239.98 531.9,247.5 532.48,255.42 533.05,260.49 533.62,268.67 534.2,275.4 534.77,271.75 535.33,266.88 535.9,263.2 536.58,258.97 537.25,253.14 537.92,248.75 538.6,245.7 539.27,240.18 539.93,236.97 540.6,231.8 541.17,234.63 541.75,237.34 542.33,241.21 542.9,244 543.48,248.66 544.05,253 544.62,259.28 545.2,263.2 545.77,270.16 546.33,275.17 546.9,282.3 547.5,272.97 548.1,263.2 548.7,255.14 549.3,248.06 549.9,238.8 550.5,241.24 551.1,242.3 551.8,232.91 552.5,224.8 553.2,224.09 553.9,220.5 554.5,215.4 555.1,212.6 555.7,208.9 556.3,205.7 556.85,209.92 557.4,212.6 558,208.96 558.6,207.4 559.2,213.47 559.8,219.6 560.35,232.17 560.9,247.5 561.5,259.3 562.1,270.1 562.7,272.24 563.3,272.8 564,264.72 564.7,256.2 565.27,250.36 565.83,241.71 566.4,235.3 567,231.09 567.6,225.7 568.3,234.28 569,242.3 569.6,249.51 570.2,256.1 570.8,263.2 571.37,272.05 571.93,280.2 572.5,286.7 573.1,282.26 573.7,278.46 574.3,273.6 574.87,264.15 575.43,257.94 576,249.2 576.58,248.34 577.15,248.08 577.72,246.27 578.3,244 579,246.85 579.7,250.66 580.4,254.5 580.97,257.91 581.53,258.87 582.1,263.2 582.7,260.75 583.3,257.54 583.9,256.2 584.47,254.48 585.03,253.74 585.6,254.5 586.17,258.2 586.73,259.19 587.3,263.2 587.9,261.28 588.5,260.54 589.1,259.7 589.75,261.69 590.4,260.19 591.05,262.17 591.7,263.2 592.35,263.77 593,265.2 593.65,265.43 594.3,264.9 594.87,263.69 595.43,259.64 596,258 596.67,255.08 597.33,252.24 598,250 598.67,249.92 599.33,248.91 600,246.3 600.6,246.43 601.2,247.69 601.8,249.04 602.4,250.22 603,252.2 603.58,252.45 604.16,253.07 604.74,252.39 605.32,251.91 605.9,253.7 606.5,256.78 607.1,259.96 607.7,263.87 608.3,267 609,269.86 609.7,270.57 610.4,271.5 611.07,274.01 611.73,276.79 612.4,278.9 613,277.58 613.6,273.86 614.2,274.55 614.8,271.5 615.4,273.06 616,274.07 616.6,274.57 617.2,274.4 617.9,270.14 618.6,266.23 619.3,262.6 619.97,262.38 620.63,264.94 621.3,265.5 621.9,264.56 622.5,264.95 623.1,265.75 623.7,267 624.3,266.29 624.9,267.12 625.5,266.56 626.1,266.7 626.7,268.5 627.28,268.05 627.86,268.5 628.44,269.89 629.02,269.48 629.6,271.5 630.2,273.8 630.8,274.2 631.4,273.99 632,275.48 632.6,277.4 633.2,278.04 633.8,279.19 634.4,279.57 635,281.8 635.67,280.88 636.33,279.35 637,275.9 637.7,273.83 638.4,271.92 639.1,270 639.7,269.13 640.3,269.56 640.9,270.65 641.5,271.5 642.08,270.49 642.66,271.89 643.24,269.58 643.82,268.87 644.4,270 645,272.08 645.6,271.53 646.2,271.11 646.8,272.9 647.5,272.06 648.2,269.55 648.9,270 649.57,269.28 650.23,269.84 650.9,267.6 651.5,269.29 652.1,269.39 652.7,268.68 653.3,270 654,272.07 654.7,273.93 655.4,277.4 656,278.22 656.6,277.5 657.2,277.4 657.87,277.24 658.53,274.89 659.2,274.4" fill="none" stroke="#cc4a66" stroke-width="1.2" stroke-linejoin="round"/>
<path d="M502,348.6C502.83,348.47 505.33,348.23 507,347.8C508.67,347.37 510.17,346.88 512,346C513.83,345.12 515.83,344 518,342.5C520.17,341 522.67,338.65 525,337C527.33,335.35 530,333.6 532,332.6C534,331.6 535.57,331.33 537,331C538.43,330.67 539.27,330.62 540.6,330.6C541.93,330.58 543.1,330.63 545,330.9C546.9,331.17 549.5,331.65 552,332.2C554.5,332.75 557,333.35 560,334.2C563,335.05 566.67,336.3 570,337.3C573.33,338.3 576.67,339.32 580,340.2C583.33,341.08 586.67,341.9 590,342.6C593.33,343.3 596.33,343.83 600,344.4C603.67,344.97 607.83,345.53 612,346C616.17,346.47 620.33,346.87 625,347.2C629.67,347.53 634.2,347.78 640,348C645.8,348.22 656.5,348.42 659.8,348.5" fill="none" stroke="#d05068" stroke-width="1.1"/>
<rect x="486.5" y="195.2" width="190.8" height="153.5" fill="none" stroke="#111" stroke-width="1.2"/>
<line x1="486.5" y1="195.25" x2="483.5" y2="195.25" stroke="#111" stroke-width="1"/>
<text x="481.8" y="198.55" font-size="9.3" font-weight="bold" text-anchor="end" fill="#000" font-family='"Liberation Sans", sans-serif'>2</text>
<line x1="486.5" y1="233.62" x2="483.5" y2="233.62" stroke="#111" stroke-width="1"/>
<text x="481.8" y="236.93" font-size="9.3" font-weight="bold" text-anchor="end" fill="#000" font-family='"Liberation Sans", sans-serif'>1</text>
<line x1="486.5" y1="272" x2="483.5" y2="272" stroke="#111" stroke-width="1"/>
<text x="481.8" y="275.3" font-size="9.3" font-weight="bold" text-anchor="end" fill="#000" font-family='"Liberation Sans", sans-serif'>0</text>
<line x1="486.5" y1="310.38" x2="483.5" y2="310.38" stroke="#111" stroke-width="1"/>
<text x="481.8" y="313.68" font-size="9.3" font-weight="bold" text-anchor="end" fill="#000" font-family='"Liberation Sans", sans-serif'>-1</text>
<line x1="486.5" y1="348.75" x2="483.5" y2="348.75" stroke="#111" stroke-width="1"/>
<text x="481.8" y="352.05" font-size="9.3" font-weight="bold" text-anchor="end" fill="#000" font-family='"Liberation Sans", sans-serif'>-2</text>
<line x1="486.5" y1="214.44" x2="484.5" y2="214.44" stroke="#111" stroke-width="0.9"/>
<line x1="486.5" y1="252.81" x2="484.5" y2="252.81" stroke="#111" stroke-width="0.9"/>
<line x1="486.5" y1="291.19" x2="484.5" y2="291.19" stroke="#111" stroke-width="0.9"/>
<line x1="486.5" y1="329.56" x2="484.5" y2="329.56" stroke="#111" stroke-width="0.9"/>
<line x1="507.7" y1="348.7" x2="507.7" y2="351.7" stroke="#000" stroke-width="1"/>
<text x="507.7" y="361.1" font-size="9.3" font-weight="bold" text-anchor="middle" fill="#000" font-family='"Liberation Sans", sans-serif'>350</text>
<line x1="550.1" y1="348.7" x2="550.1" y2="351.7" stroke="#000" stroke-width="1"/>
<text x="550.1" y="361.1" font-size="9.3" font-weight="bold" text-anchor="middle" fill="#000" font-family='"Liberation Sans", sans-serif'>400</text>
<line x1="592.5" y1="348.7" x2="592.5" y2="351.7" stroke="#000" stroke-width="1"/>
<text x="592.5" y="361.1" font-size="9.3" font-weight="bold" text-anchor="middle" fill="#000" font-family='"Liberation Sans", sans-serif'>450</text>
<line x1="634.9" y1="348.7" x2="634.9" y2="351.7" stroke="#000" stroke-width="1"/>
<text x="634.9" y="361.1" font-size="9.3" font-weight="bold" text-anchor="middle" fill="#000" font-family='"Liberation Sans", sans-serif'>500</text>
<line x1="677.3" y1="348.7" x2="677.3" y2="351.7" stroke="#000" stroke-width="1"/>
<text x="677.3" y="361.1" font-size="9.3" font-weight="bold" text-anchor="middle" fill="#000" font-family='"Liberation Sans", sans-serif'>550</text>
<line x1="486.5" y1="348.7" x2="486.5" y2="350.7" stroke="#000" stroke-width="1"/>
<line x1="528.9" y1="348.7" x2="528.9" y2="350.7" stroke="#000" stroke-width="1"/>
<line x1="571.3" y1="348.7" x2="571.3" y2="350.7" stroke="#000" stroke-width="1"/>
<line x1="613.7" y1="348.7" x2="613.7" y2="350.7" stroke="#000" stroke-width="1"/>
<line x1="656.1" y1="348.7" x2="656.1" y2="350.7" stroke="#000" stroke-width="1"/>
<text x="581.5" y="379.4" font-size="11.7" font-weight="bold" text-anchor="middle" fill="#000" font-family='"Liberation Sans", sans-serif'>Wavelength (nm)</text>
<text transform="translate(470.3,271.6) rotate(-90)" font-size="11.4" font-weight="bold" text-anchor="middle" fill="#000" font-family='"Liberation Sans", sans-serif'>CPL (mdeg)</text>
<text x="455.5" y="204.5" font-size="18.5" font-weight="bold" text-anchor="start" fill="#000" font-family='"Liberation Sans", sans-serif'>f</text>
<path d="M21.4,491.89 22.2,489.53 23,486.94 23.8,484.2 24.6,481.64 25.4,478.92 26.2,476.22 27,473.46 27.8,470.43 28.6,467.6 29.4,465.06 30.2,462.13 31,459.43 31.8,456.42 32.6,453.83 33.4,451.25 34.2,448.54 35,446.25 35.8,443.72 36.6,440.89 37.4,438.2 38.2,435.47 39,432.5 39.8,429.13 40.6,425.68 41.4,422.9 42.2,419.38 43,416.6 43.8,414.05 44.6,411.74 45.4,409.76 46.2,408.83 47,408.16 47.8,407.83 48.6,407.2 49.4,406.59 50.2,407.36 51,406.9 51.8,406.95 52.6,406.39 53.4,407.37 54.2,407.24 55,406.38 55.8,406.69 56.6,407.27 57.4,407.51 58.2,408.21 59,408.31 59.8,409.75 60.6,410.55 61.4,411.15 62.2,412.56 63,414.02 63.8,415.12 64.6,415.89 65.4,417.24 66.2,417.89 67,419.52 67.8,421.59 68.6,422.55 69.4,423.68 70.2,425.53 71,427.1 71.8,428.45 72.6,429.48 73.4,430.94 74.2,432.42 75,434.13 75.8,435.2 76.6,436.55 77.4,437.96 78.2,439.22 79,440.63 79.8,442.24 80.6,443.77 81.4,445.14 82.2,446.59 83,448.04 83.8,449.63 84.6,451.24 85.4,452.58 86.2,453.87 87,455.29 87.8,456.42 88.6,457.81 89.4,459.25 90.2,460.46 91,461.77 91.8,463.1 92.6,464.58 93.4,466.07 94.2,467.11 95,468.59 95.8,469.76 96.6,470.88 97.4,471.91 98.2,472.98 99,473.93 99.8,475 100.6,476.06 101.4,477.09 102.2,478.51 103,479.59 103.8,480.62 104.6,481.79 105.4,482.78 106.2,483.67 107,484.55 107.8,485.46 108.6,486.34 109.4,487.2 110.2,488.04 111,488.84 111.8,489.87 112.6,490.84 113.4,491.95 114.2,493.02 115,493.96 115.8,494.9 116.6,495.8 117.4,496.51 118.2,497.54 119,498.33 119.8,498.98 120.6,499.76 121.4,500.55 122.2,501.54 123,502.13 123.8,502.81 124.6,503.67 125.4,504.26 126.2,504.84 127,505.51 127.8,506.27 128.6,506.79 129.4,507.46 130.2,508.22 131,508.8 131.8,509.42 132.6,510.12 133.4,510.6 134.2,511.29 135,511.85 135.8,512.31 136.6,512.8 137.4,513.56 138.2,513.95 139,514.37 139.8,514.99 140.6,515.55 141.4,515.81 142.2,516.3 143,516.82 143.8,517.47 144.6,517.78 145.4,518.41 146.2,518.85 147,519.26 147.8,519.6 148.6,520.25 149.4,520.6 150.2,520.92 151,521.23 151.8,521.74 152.6,522.03 153.4,522.44 154.2,522.72 155,523.15 155.8,523.3 156.6,523.69 157.4,524.2 158.2,524.47 159,524.59 159.8,525.04 160.6,525.15 161.4,525.61 162.2,525.82 163,525.98 163.8,526.19 164.6,526.37 165.4,526.88 166.2,526.86 167,527.33 167.8,527.61 168.6,527.71 169.4,527.81 170.2,528.23 171,528.47 171.8,528.6 172.6,528.74 173.4,528.89 174.2,529.07 175,529.21 175.8,529.53 176.6,529.63 177.4,529.72 178.2,529.86 179,530.18 179.8,530.22 180.6,530.43 181.4,530.52 182.2,530.83 183,530.98 183.8,530.85 184.6,531.04 185.4,531.21 186.2,531.55 187,531.62 187.8,531.61 188.6,531.7 189.4,531.97 190.2,532.15 191,532.31 191.8,532.26 192.6,532.55 193.4,532.62 194.2,532.69 195,532.97 195.8,532.87 196.6,533.14 197.4,533.08 198.2,533.22 199,533.57 199.8,533.48 200.6,533.76 201.4,533.83 202.2,534.02 203,534 203.8,534.11 204.6,534.21 205.4,534.5 206.2,534.53 207,534.76 207.8,534.85 208.6,534.74 209.4,534.98 210.2,534.96 211,535.06L211,542.4L21.4,542.4Z" fill="url(#gg_blue)" stroke="none" stroke-width="1"/>
<path d="M21.4,491.89 22.2,489.53 23,486.94 23.8,484.2 24.6,481.64 25.4,478.92 26.2,476.22 27,473.46 27.8,470.43 28.6,467.6 29.4,465.06 30.2,462.13 31,459.43 31.8,456.42 32.6,453.83 33.4,451.25 34.2,448.54 35,446.25 35.8,443.72 36.6,440.89 37.4,438.2 38.2,435.47 39,432.5 39.8,429.13 40.6,425.68 41.4,422.9 42.2,419.38 43,416.6 43.8,414.05 44.6,411.74 45.4,409.76 46.2,408.83 47,408.16 47.8,407.83 48.6,407.2 49.4,406.59 50.2,407.36 51,406.9 51.8,406.95 52.6,406.39 53.4,407.37 54.2,407.24 55,406.38 55.8,406.69 56.6,407.27 57.4,407.51 58.2,408.21 59,408.31 59.8,409.75 60.6,410.55 61.4,411.15 62.2,412.56 63,414.02 63.8,415.12 64.6,415.89 65.4,417.24 66.2,417.89 67,419.52 67.8,421.59 68.6,422.55 69.4,423.68 70.2,425.53 71,427.1 71.8,428.45 72.6,429.48 73.4,430.94 74.2,432.42 75,434.13 75.8,435.2 76.6,436.55 77.4,437.96 78.2,439.22 79,440.63 79.8,442.24 80.6,443.77 81.4,445.14 82.2,446.59 83,448.04 83.8,449.63 84.6,451.24 85.4,452.58 86.2,453.87 87,455.29 87.8,456.42 88.6,457.81 89.4,459.25 90.2,460.46 91,461.77 91.8,463.1 92.6,464.58 93.4,466.07 94.2,467.11 95,468.59 95.8,469.76 96.6,470.88 97.4,471.91 98.2,472.98 99,473.93 99.8,475 100.6,476.06 101.4,477.09 102.2,478.51 103,479.59 103.8,480.62 104.6,481.79 105.4,482.78 106.2,483.67 107,484.55 107.8,485.46 108.6,486.34 109.4,487.2 110.2,488.04 111,488.84 111.8,489.87 112.6,490.84 113.4,491.95 114.2,493.02 115,493.96 115.8,494.9 116.6,495.8 117.4,496.51 118.2,497.54 119,498.33 119.8,498.98 120.6,499.76 121.4,500.55 122.2,501.54 123,502.13 123.8,502.81 124.6,503.67 125.4,504.26 126.2,504.84 127,505.51 127.8,506.27 128.6,506.79 129.4,507.46 130.2,508.22 131,508.8 131.8,509.42 132.6,510.12 133.4,510.6 134.2,511.29 135,511.85 135.8,512.31 136.6,512.8 137.4,513.56 138.2,513.95 139,514.37 139.8,514.99 140.6,515.55 141.4,515.81 142.2,516.3 143,516.82 143.8,517.47 144.6,517.78 145.4,518.41 146.2,518.85 147,519.26 147.8,519.6 148.6,520.25 149.4,520.6 150.2,520.92 151,521.23 151.8,521.74 152.6,522.03 153.4,522.44 154.2,522.72 155,523.15 155.8,523.3 156.6,523.69 157.4,524.2 158.2,524.47 159,524.59 159.8,525.04 160.6,525.15 161.4,525.61 162.2,525.82 163,525.98 163.8,526.19 164.6,526.37 165.4,526.88 166.2,526.86 167,527.33 167.8,527.61 168.6,527.71 169.4,527.81 170.2,528.23 171,528.47 171.8,528.6 172.6,528.74 173.4,528.89 174.2,529.07 175,529.21 175.8,529.53 176.6,529.63 177.4,529.72 178.2,529.86 179,530.18 179.8,530.22 180.6,530.43 181.4,530.52 182.2,530.83 183,530.98 183.8,530.85 184.6,531.04 185.4,531.21 186.2,531.55 187,531.62 187.8,531.61 188.6,531.7 189.4,531.97 190.2,532.15 191,532.31 191.8,532.26 192.6,532.55 193.4,532.62 194.2,532.69 195,532.97 195.8,532.87 196.6,533.14 197.4,533.08 198.2,533.22 199,533.57 199.8,533.48 200.6,533.76 201.4,533.83 202.2,534.02 203,534 203.8,534.11 204.6,534.21 205.4,534.5 206.2,534.53 207,534.76 207.8,534.85 208.6,534.74 209.4,534.98 210.2,534.96 211,535.06" fill="none" stroke="#4b62aa" stroke-width="1.1" stroke-linejoin="round"/>
<path d="M21.4,525.24 22.2,524.25 23,523.01 23.8,522.02 24.6,521.19 25.4,520.03 26.2,518.78 27,517.39 27.8,516.17 28.6,514.83 29.4,513.43 30.2,511.86 31,510.41 31.8,508.77 32.6,507.07 33.4,505.19 34.2,503.06 35,500.71 35.8,498.4 36.6,496.07 37.4,493.59 38.2,491.09 39,488.7 39.8,486.2 40.6,483.83 41.4,482.34 42.2,479.9 43,478.13 43.8,476.17 44.6,474.63 45.4,473.95 46.2,473 47,473.01 47.8,473.29 48.6,472.68 49.4,471.92 50.2,472.66 51,472.46 51.8,472.32 52.6,472.5 53.4,472.31 54.2,472.36 55,471.88 55.8,472.71 56.6,472.81 57.4,472.01 58.2,472.93 59,473.16 59.8,473.17 60.6,473.62 61.4,473.99 62.2,474.99 63,475.03 63.8,476.04 64.6,476.11 65.4,477.41 66.2,478.1 67,478.22 67.8,478.96 68.6,480 69.4,480.36 70.2,480.68 71,480.98 71.8,481.73 72.6,482.82 73.4,482.84 74.2,484.42 75,484.34 75.8,485.44 76.6,485.98 77.4,486.92 78.2,487.62 79,488.36 79.8,489.19 80.6,490.07 81.4,490.93 82.2,491.74 83,492.62 83.8,493.64 84.6,494.69 85.4,495.52 86.2,496.28 87,497.43 87.8,498.31 88.6,499.26 89.4,499.93 90.2,500.97 91,501.61 91.8,502.64 92.6,503.37 93.4,504.2 94.2,505.22 95,505.81 95.8,506.75 96.6,507.65 97.4,508.25 98.2,509 99,509.95 99.8,510.54 100.6,511.34 101.4,511.82 102.2,512.59 103,513.18 103.8,513.97 104.6,514.41 105.4,515.27 106.2,515.58 107,516.36 107.8,516.72 108.6,517.34 109.4,518.05 110.2,518.4 111,518.94 111.8,519.62 112.6,520.06 113.4,520.48 114.2,521.28 115,521.54 115.8,522 116.6,522.59 117.4,523.16 118.2,523.68 119,523.96 119.8,524.49 120.6,524.84 121.4,525.4 122.2,525.92 123,526.32 123.8,526.76 124.6,527.1 125.4,527.5 126.2,527.8 127,528.08 127.8,528.33 128.6,528.78 129.4,528.99 130.2,529.23 131,529.63 131.8,530.05 132.6,530.11 133.4,530.52 134.2,530.74 135,531.04 135.8,531.19 136.6,531.7 137.4,531.74 138.2,532.08 139,532.26 139.8,532.37 140.6,532.75 141.4,532.84 142.2,533.02 143,533.22 143.8,533.46 144.6,533.63 145.4,533.98 146.2,534.12 147,534.44 147.8,534.6 148.6,534.79 149.4,534.73 150.2,534.96 151,535.06 151.8,535.32 152.6,535.47 153.4,535.67 154.2,535.77 155,535.75 155.8,535.91 156.6,536.04 157.4,535.98 158.2,536.08 159,536.27 159.8,536.26 160.6,536.52 161.4,536.45 162.2,536.48 163,536.57 163.8,536.64 164.6,536.7 165.4,536.85 166.2,536.89 167,536.89 167.8,537.04 168.6,536.96 169.4,537.22 170.2,537.28 171,537.26 171.8,537.21 172.6,537.28 173.4,537.34 174.2,537.22 175,537.36 175.8,537.43 176.6,537.36 177.4,537.37 178.2,537.62 179,537.52 179.8,537.6 180.6,537.75 181.4,537.69 182.2,537.62 183,537.85 183.8,537.69 184.6,537.61 185.4,537.84 186.2,537.68 187,537.77 187.8,537.95 188.6,537.92 189.4,537.75 190.2,537.9 191,537.91 191.8,537.95 192.6,537.89 193.4,538.02 194.2,537.89 195,537.97 195.8,538.01 196.6,538.2 197.4,537.96 198.2,538.19 199,538.03 199.8,538.17 200.6,538.13 201.4,538.17 202.2,538.28 203,538.19 203.8,538.12 204.6,538.14 205.4,538.14 206.2,538.39 207,538.35 207.8,538.46 208.6,538.4 209.4,538.22 210.2,538.43 211,538.48L211,542.4L21.4,542.4Z" fill="url(#gg_teal)" stroke="none" stroke-width="1"/>
<path d="M21.4,525.24 22.2,524.25 23,523.01 23.8,522.02 24.6,521.19 25.4,520.03 26.2,518.78 27,517.39 27.8,516.17 28.6,514.83 29.4,513.43 30.2,511.86 31,510.41 31.8,508.77 32.6,507.07 33.4,505.19 34.2,503.06 35,500.71 35.8,498.4 36.6,496.07 37.4,493.59 38.2,491.09 39,488.7 39.8,486.2 40.6,483.83 41.4,482.34 42.2,479.9 43,478.13 43.8,476.17 44.6,474.63 45.4,473.95 46.2,473 47,473.01 47.8,473.29 48.6,472.68 49.4,471.92 50.2,472.66 51,472.46 51.8,472.32 52.6,472.5 53.4,472.31 54.2,472.36 55,471.88 55.8,472.71 56.6,472.81 57.4,472.01 58.2,472.93 59,473.16 59.8,473.17 60.6,473.62 61.4,473.99 62.2,474.99 63,475.03 63.8,476.04 64.6,476.11 65.4,477.41 66.2,478.1 67,478.22 67.8,478.96 68.6,480 69.4,480.36 70.2,480.68 71,480.98 71.8,481.73 72.6,482.82 73.4,482.84 74.2,484.42 75,484.34 75.8,485.44 76.6,485.98 77.4,486.92 78.2,487.62 79,488.36 79.8,489.19 80.6,490.07 81.4,490.93 82.2,491.74 83,492.62 83.8,493.64 84.6,494.69 85.4,495.52 86.2,496.28 87,497.43 87.8,498.31 88.6,499.26 89.4,499.93 90.2,500.97 91,501.61 91.8,502.64 92.6,503.37 93.4,504.2 94.2,505.22 95,505.81 95.8,506.75 96.6,507.65 97.4,508.25 98.2,509 99,509.95 99.8,510.54 100.6,511.34 101.4,511.82 102.2,512.59 103,513.18 103.8,513.97 104.6,514.41 105.4,515.27 106.2,515.58 107,516.36 107.8,516.72 108.6,517.34 109.4,518.05 110.2,518.4 111,518.94 111.8,519.62 112.6,520.06 113.4,520.48 114.2,521.28 115,521.54 115.8,522 116.6,522.59 117.4,523.16 118.2,523.68 119,523.96 119.8,524.49 120.6,524.84 121.4,525.4 122.2,525.92 123,526.32 123.8,526.76 124.6,527.1 125.4,527.5 126.2,527.8 127,528.08 127.8,528.33 128.6,528.78 129.4,528.99 130.2,529.23 131,529.63 131.8,530.05 132.6,530.11 133.4,530.52 134.2,530.74 135,531.04 135.8,531.19 136.6,531.7 137.4,531.74 138.2,532.08 139,532.26 139.8,532.37 140.6,532.75 141.4,532.84 142.2,533.02 143,533.22 143.8,533.46 144.6,533.63 145.4,533.98 146.2,534.12 147,534.44 147.8,534.6 148.6,534.79 149.4,534.73 150.2,534.96 151,535.06 151.8,535.32 152.6,535.47 153.4,535.67 154.2,535.77 155,535.75 155.8,535.91 156.6,536.04 157.4,535.98 158.2,536.08 159,536.27 159.8,536.26 160.6,536.52 161.4,536.45 162.2,536.48 163,536.57 163.8,536.64 164.6,536.7 165.4,536.85 166.2,536.89 167,536.89 167.8,537.04 168.6,536.96 169.4,537.22 170.2,537.28 171,537.26 171.8,537.21 172.6,537.28 173.4,537.34 174.2,537.22 175,537.36 175.8,537.43 176.6,537.36 177.4,537.37 178.2,537.62 179,537.52 179.8,537.6 180.6,537.75 181.4,537.69 182.2,537.62 183,537.85 183.8,537.69 184.6,537.61 185.4,537.84 186.2,537.68 187,537.77 187.8,537.95 188.6,537.92 189.4,537.75 190.2,537.9 191,537.91 191.8,537.95 192.6,537.89 193.4,538.02 194.2,537.89 195,537.97 195.8,538.01 196.6,538.2 197.4,537.96 198.2,538.19 199,538.03 199.8,538.17 200.6,538.13 201.4,538.17 202.2,538.28 203,538.19 203.8,538.12 204.6,538.14 205.4,538.14 206.2,538.39 207,538.35 207.8,538.46 208.6,538.4 209.4,538.22 210.2,538.43 211,538.48" fill="none" stroke="#3cb4c6" stroke-width="1.2" stroke-linejoin="round"/>
<path d="M21.4,532.12 22.2,531.55 23,530.85 23.8,530.23 24.6,529.48 25.4,528.46 26.2,527.48 27,526.7 27.8,525.47 28.6,524.36 29.4,523.42 30.2,522.02 31,520.79 31.8,519.19 32.6,517.51 33.4,515.37 34.2,513.32 35,511.07 35.8,508.68 36.6,506.57 37.4,504.34 38.2,501.92 39,499.91 39.8,497.73 40.6,495.49 41.4,493.38 42.2,492.72 43,490.78 43.8,489.83 44.6,489.03 45.4,488.08 46.2,487.88 47,487 47.8,487.32 48.6,486.75 49.4,487.22 50.2,487.07 51,486.07 51.8,486.08 52.6,486.15 53.4,487.05 54.2,486.43 55,486.71 55.8,486.4 56.6,486.78 57.4,486.8 58.2,486.98 59,487.53 59.8,487.83 60.6,488.54 61.4,488.62 62.2,489.29 63,489.61 63.8,490.21 64.6,490.29 65.4,490.17 66.2,491.52 67,492.16 67.8,492.62 68.6,492.76 69.4,493.49 70.2,493.46 71,494.8 71.8,495.09 72.6,495.36 73.4,495.73 74.2,497.33 75,498.16 75.8,498.13 76.6,499.05 77.4,499.65 78.2,500.31 79,501.1 79.8,502 80.6,502.8 81.4,503.35 82.2,504.34 83,504.99 83.8,506.03 84.6,506.74 85.4,507.74 86.2,508.59 87,509.26 87.8,510.21 88.6,510.78 89.4,511.46 90.2,512.34 91,512.86 91.8,513.58 92.6,514.3 93.4,514.99 94.2,515.47 95,516.04 95.8,516.88 96.6,517.29 97.4,518.05 98.2,518.6 99,519 99.8,519.57 100.6,520.14 101.4,520.73 102.2,521.27 103,521.81 103.8,522.37 104.6,522.99 105.4,523.38 106.2,523.87 107,524.44 107.8,524.77 108.6,525.24 109.4,525.88 110.2,526.15 111,526.56 111.8,526.78 112.6,527.26 113.4,527.66 114.2,527.83 115,528.34 115.8,528.67 116.6,528.81 117.4,529.29 118.2,529.54 119,529.9 119.8,530.09 120.6,530.48 121.4,530.78 122.2,530.84 123,531.13 123.8,531.6 124.6,531.97 125.4,532.05 126.2,532.41 127,532.74 127.8,532.94 128.6,533.22 129.4,533.47 130.2,533.73 131,534.02 131.8,534.15 132.6,534.37 133.4,534.68 134.2,534.63 135,534.96 135.8,535.17 136.6,535.2 137.4,535.33 138.2,535.66 139,535.64 139.8,535.78 140.6,536 141.4,536.23 142.2,536.19 143,536.4 143.8,536.54 144.6,536.81 145.4,536.82 146.2,537.07 147,536.97 147.8,537.14 148.6,537.33 149.4,537.51 150.2,537.47 151,537.5 151.8,537.56 152.6,537.76 153.4,537.75 154.2,538.01 155,538.09 155.8,537.97 156.6,538.07 157.4,538.29 158.2,538.31 159,538.42 159.8,538.34 160.6,538.33 161.4,538.43 162.2,538.63 163,538.53 163.8,538.6 164.6,538.66 165.4,538.71 166.2,538.75 167,538.94 167.8,538.75 168.6,538.75 169.4,539.07 170.2,539.09 171,539.16 171.8,539.03 172.6,539.22 173.4,539.25 174.2,539.07 175,539.26 175.8,539.32 176.6,539.3 177.4,539.29 178.2,539.26 179,539.3 179.8,539.3 180.6,539.28 181.4,539.47 182.2,539.41 183,539.6 183.8,539.4 184.6,539.69 185.4,539.65 186.2,539.75 187,539.77 187.8,539.8 188.6,539.74 189.4,539.6 190.2,539.84 191,539.7 191.8,539.77 192.6,539.9 193.4,539.89 194.2,539.88 195,540.07 195.8,540 196.6,539.95 197.4,539.95 198.2,540.16 199,540.07 199.8,540.19 200.6,540.09 201.4,540.07 202.2,540.2 203,540.31 203.8,540.14 204.6,540.35 205.4,540.42 206.2,540.41 207,540.45 207.8,540.23 208.6,540.45 209.4,540.55 210.2,540.33 211,540.43L211,542.4L21.4,542.4Z" fill="url(#gg_or)" stroke="none" stroke-width="1"/>
<path d="M21.4,532.12 22.2,531.55 23,530.85 23.8,530.23 24.6,529.48 25.4,528.46 26.2,527.48 27,526.7 27.8,525.47 28.6,524.36 29.4,523.42 30.2,522.02 31,520.79 31.8,519.19 32.6,517.51 33.4,515.37 34.2,513.32 35,511.07 35.8,508.68 36.6,506.57 37.4,504.34 38.2,501.92 39,499.91 39.8,497.73 40.6,495.49 41.4,493.38 42.2,492.72 43,490.78 43.8,489.83 44.6,489.03 45.4,488.08 46.2,487.88 47,487 47.8,487.32 48.6,486.75 49.4,487.22 50.2,487.07 51,486.07 51.8,486.08 52.6,486.15 53.4,487.05 54.2,486.43 55,486.71 55.8,486.4 56.6,486.78 57.4,486.8 58.2,486.98 59,487.53 59.8,487.83 60.6,488.54 61.4,488.62 62.2,489.29 63,489.61 63.8,490.21 64.6,490.29 65.4,490.17 66.2,491.52 67,492.16 67.8,492.62 68.6,492.76 69.4,493.49 70.2,493.46 71,494.8 71.8,495.09 72.6,495.36 73.4,495.73 74.2,497.33 75,498.16 75.8,498.13 76.6,499.05 77.4,499.65 78.2,500.31 79,501.1 79.8,502 80.6,502.8 81.4,503.35 82.2,504.34 83,504.99 83.8,506.03 84.6,506.74 85.4,507.74 86.2,508.59 87,509.26 87.8,510.21 88.6,510.78 89.4,511.46 90.2,512.34 91,512.86 91.8,513.58 92.6,514.3 93.4,514.99 94.2,515.47 95,516.04 95.8,516.88 96.6,517.29 97.4,518.05 98.2,518.6 99,519 99.8,519.57 100.6,520.14 101.4,520.73 102.2,521.27 103,521.81 103.8,522.37 104.6,522.99 105.4,523.38 106.2,523.87 107,524.44 107.8,524.77 108.6,525.24 109.4,525.88 110.2,526.15 111,526.56 111.8,526.78 112.6,527.26 113.4,527.66 114.2,527.83 115,528.34 115.8,528.67 116.6,528.81 117.4,529.29 118.2,529.54 119,529.9 119.8,530.09 120.6,530.48 121.4,530.78 122.2,530.84 123,531.13 123.8,531.6 124.6,531.97 125.4,532.05 126.2,532.41 127,532.74 127.8,532.94 128.6,533.22 129.4,533.47 130.2,533.73 131,534.02 131.8,534.15 132.6,534.37 133.4,534.68 134.2,534.63 135,534.96 135.8,535.17 136.6,535.2 137.4,535.33 138.2,535.66 139,535.64 139.8,535.78 140.6,536 141.4,536.23 142.2,536.19 143,536.4 143.8,536.54 144.6,536.81 145.4,536.82 146.2,537.07 147,536.97 147.8,537.14 148.6,537.33 149.4,537.51 150.2,537.47 151,537.5 151.8,537.56 152.6,537.76 153.4,537.75 154.2,538.01 155,538.09 155.8,537.97 156.6,538.07 157.4,538.29 158.2,538.31 159,538.42 159.8,538.34 160.6,538.33 161.4,538.43 162.2,538.63 163,538.53 163.8,538.6 164.6,538.66 165.4,538.71 166.2,538.75 167,538.94 167.8,538.75 168.6,538.75 169.4,539.07 170.2,539.09 171,539.16 171.8,539.03 172.6,539.22 173.4,539.25 174.2,539.07 175,539.26 175.8,539.32 176.6,539.3 177.4,539.29 178.2,539.26 179,539.3 179.8,539.3 180.6,539.28 181.4,539.47 182.2,539.41 183,539.6 183.8,539.4 184.6,539.69 185.4,539.65 186.2,539.75 187,539.77 187.8,539.8 188.6,539.74 189.4,539.6 190.2,539.84 191,539.7 191.8,539.77 192.6,539.9 193.4,539.89 194.2,539.88 195,540.07 195.8,540 196.6,539.95 197.4,539.95 198.2,540.16 199,540.07 199.8,540.19 200.6,540.09 201.4,540.07 202.2,540.2 203,540.31 203.8,540.14 204.6,540.35 205.4,540.42 206.2,540.41 207,540.45 207.8,540.23 208.6,540.45 209.4,540.55 210.2,540.33 211,540.43" fill="none" stroke="#f08a26" stroke-width="1.2" stroke-linejoin="round"/>
<path d="M21.4,533.12 22.2,532.49 23,531.99 23.8,531.31 24.6,530.62 25.4,529.98 26.2,529.31 27,528.42 27.8,527.54 28.6,526.47 29.4,525.61 30.2,524.49 31,523.31 31.8,521.98 32.6,520.44 33.4,518.79 34.2,516.68 35,514.48 35.8,512.34 36.6,510.18 37.4,508.23 38.2,506.45 39,504.63 39.8,502.95 40.6,501.34 41.4,499.01 42.2,498.48 43,497.63 43.8,496.68 44.6,495.67 45.4,495.57 46.2,494.87 47,495.79 47.8,495.66 48.6,495.23 49.4,494.91 50.2,495.64 51,495.24 51.8,495.64 52.6,495.63 53.4,495.28 54.2,495.23 55,495.55 55.8,495.47 56.6,495.3 57.4,495.65 58.2,496.48 59,495.81 59.8,496.1 60.6,497.11 61.4,497.04 62.2,497.72 63,498.07 63.8,498.38 64.6,499.64 65.4,499.18 66.2,499.93 67,500.17 67.8,501.15 68.6,501.19 69.4,501.76 70.2,502.7 71,502.66 71.8,503.42 72.6,504.32 73.4,503.84 74.2,504.27 75,504.94 75.8,505.79 76.6,506.2 77.4,506.57 78.2,507.11 79,507.61 79.8,508.28 80.6,508.78 81.4,509.64 82.2,510.38 83,511.1 83.8,511.75 84.6,512.54 85.4,512.98 86.2,513.78 87,514.7 87.8,515.35 88.6,515.94 89.4,516.79 90.2,517.35 91,518.06 91.8,518.56 92.6,519.17 93.4,519.89 94.2,520.43 95,521.13 95.8,521.92 96.6,522.33 97.4,522.82 98.2,523.4 99,523.99 99.8,524.7 100.6,525.08 101.4,525.55 102.2,525.95 103,526.67 103.8,526.93 104.6,527.27 105.4,527.63 106.2,528 107,528.4 107.8,528.91 108.6,529.1 109.4,529.41 110.2,529.87 111,530.13 111.8,530.67 112.6,530.73 113.4,531.16 114.2,531.53 115,531.72 115.8,532.18 116.6,532.31 117.4,532.52 118.2,532.83 119,532.98 119.8,533.35 120.6,533.54 121.4,533.96 122.2,534.16 123,534.27 123.8,534.33 124.6,534.59 125.4,534.77 126.2,534.92 127,535.09 127.8,535.42 128.6,535.33 129.4,535.43 130.2,535.81 131,535.81 131.8,536.04 132.6,535.97 133.4,536.22 134.2,536.25 135,536.39 135.8,536.47 136.6,536.5 137.4,536.48 138.2,536.62 139,536.93 139.8,537.05 140.6,537.16 141.4,537.09 142.2,537.29 143,537.44 143.8,537.49 144.6,537.64 145.4,537.65 146.2,537.78 147,537.88 147.8,537.84 148.6,538.12 149.4,538.21 150.2,538.03 151,538.37 151.8,538.44 152.6,538.42 153.4,538.3 154.2,538.62 155,538.45 155.8,538.76 156.6,538.73 157.4,538.6 158.2,538.69 159,538.88 159.8,538.91 160.6,539.01 161.4,539.11 162.2,538.94 163,538.92 163.8,539.23 164.6,539 165.4,539.3 166.2,539.11 167,539.35 167.8,539.38 168.6,539.45 169.4,539.38 170.2,539.52 171,539.35 171.8,539.52 172.6,539.45 173.4,539.65 174.2,539.65 175,539.59 175.8,539.64 176.6,539.52 177.4,539.56 178.2,539.76 179,539.76 179.8,539.9 180.6,539.85 181.4,539.74 182.2,539.84 183,539.99 183.8,539.95 184.6,539.82 185.4,540.1 186.2,540.12 187,539.93 187.8,540.1 188.6,540.08 189.4,540.23 190.2,540.11 191,540.12 191.8,540.22 192.6,540.39 193.4,540.16 194.2,540.19 195,540.37 195.8,540.48 196.6,540.4 197.4,540.4 198.2,540.56 199,540.56 199.8,540.37 200.6,540.65 201.4,540.47 202.2,540.53 203,540.72 203.8,540.62 204.6,540.76 205.4,540.6 206.2,540.84 207,540.66 207.8,540.68 208.6,540.81 209.4,540.79 210.2,540.88 211,541.02L211,542.4L21.4,542.4Z" fill="url(#gg_red)" stroke="none" stroke-width="1"/>
<path d="M21.4,533.12 22.2,532.49 23,531.99 23.8,531.31 24.6,530.62 25.4,529.98 26.2,529.31 27,528.42 27.8,527.54 28.6,526.47 29.4,525.61 30.2,524.49 31,523.31 31.8,521.98 32.6,520.44 33.4,518.79 34.2,516.68 35,514.48 35.8,512.34 36.6,510.18 37.4,508.23 38.2,506.45 39,504.63 39.8,502.95 40.6,501.34 41.4,499.01 42.2,498.48 43,497.63 43.8,496.68 44.6,495.67 45.4,495.57 46.2,494.87 47,495.79 47.8,495.66 48.6,495.23 49.4,494.91 50.2,495.64 51,495.24 51.8,495.64 52.6,495.63 53.4,495.28 54.2,495.23 55,495.55 55.8,495.47 56.6,495.3 57.4,495.65 58.2,496.48 59,495.81 59.8,496.1 60.6,497.11 61.4,497.04 62.2,497.72 63,498.07 63.8,498.38 64.6,499.64 65.4,499.18 66.2,499.93 67,500.17 67.8,501.15 68.6,501.19 69.4,501.76 70.2,502.7 71,502.66 71.8,503.42 72.6,504.32 73.4,503.84 74.2,504.27 75,504.94 75.8,505.79 76.6,506.2 77.4,506.57 78.2,507.11 79,507.61 79.8,508.28 80.6,508.78 81.4,509.64 82.2,510.38 83,511.1 83.8,511.75 84.6,512.54 85.4,512.98 86.2,513.78 87,514.7 87.8,515.35 88.6,515.94 89.4,516.79 90.2,517.35 91,518.06 91.8,518.56 92.6,519.17 93.4,519.89 94.2,520.43 95,521.13 95.8,521.92 96.6,522.33 97.4,522.82 98.2,523.4 99,523.99 99.8,524.7 100.6,525.08 101.4,525.55 102.2,525.95 103,526.67 103.8,526.93 104.6,527.27 105.4,527.63 106.2,528 107,528.4 107.8,528.91 108.6,529.1 109.4,529.41 110.2,529.87 111,530.13 111.8,530.67 112.6,530.73 113.4,531.16 114.2,531.53 115,531.72 115.8,532.18 116.6,532.31 117.4,532.52 118.2,532.83 119,532.98 119.8,533.35 120.6,533.54 121.4,533.96 122.2,534.16 123,534.27 123.8,534.33 124.6,534.59 125.4,534.77 126.2,534.92 127,535.09 127.8,535.42 128.6,535.33 129.4,535.43 130.2,535.81 131,535.81 131.8,536.04 132.6,535.97 133.4,536.22 134.2,536.25 135,536.39 135.8,536.47 136.6,536.5 137.4,536.48 138.2,536.62 139,536.93 139.8,537.05 140.6,537.16 141.4,537.09 142.2,537.29 143,537.44 143.8,537.49 144.6,537.64 145.4,537.65 146.2,537.78 147,537.88 147.8,537.84 148.6,538.12 149.4,538.21 150.2,538.03 151,538.37 151.8,538.44 152.6,538.42 153.4,538.3 154.2,538.62 155,538.45 155.8,538.76 156.6,538.73 157.4,538.6 158.2,538.69 159,538.88 159.8,538.91 160.6,539.01 161.4,539.11 162.2,538.94 163,538.92 163.8,539.23 164.6,539 165.4,539.3 166.2,539.11 167,539.35 167.8,539.38 168.6,539.45 169.4,539.38 170.2,539.52 171,539.35 171.8,539.52 172.6,539.45 173.4,539.65 174.2,539.65 175,539.59 175.8,539.64 176.6,539.52 177.4,539.56 178.2,539.76 179,539.76 179.8,539.9 180.6,539.85 181.4,539.74 182.2,539.84 183,539.99 183.8,539.95 184.6,539.82 185.4,540.1 186.2,540.12 187,539.93 187.8,540.1 188.6,540.08 189.4,540.23 190.2,540.11 191,540.12 191.8,540.22 192.6,540.39 193.4,540.16 194.2,540.19 195,540.37 195.8,540.48 196.6,540.4 197.4,540.4 198.2,540.56 199,540.56 199.8,540.37 200.6,540.65 201.4,540.47 202.2,540.53 203,540.72 203.8,540.62 204.6,540.76 205.4,540.6 206.2,540.84 207,540.66 207.8,540.68 208.6,540.81 209.4,540.79 210.2,540.88 211,541.02" fill="none" stroke="#d62a2a" stroke-width="1.2" stroke-linejoin="round"/>
<line x1="21.9" y1="533" x2="21.9" y2="542" stroke="#d62a2a" stroke-width="1.2"/>
<rect x="21.4" y="389.3" width="189.6" height="153.1" fill="none" stroke="#3a3a3a" stroke-width="1.5"/>
<line x1="40.36" y1="542.4" x2="40.36" y2="545.2" stroke="#333" stroke-width="1"/>
<text x="40.36" y="555.1" font-size="9.3" font-weight="bold" text-anchor="middle" fill="#000" font-family='"Liberation Sans", sans-serif'>400</text>
<line x1="87.76" y1="542.4" x2="87.76" y2="545.2" stroke="#333" stroke-width="1"/>
<text x="87.76" y="555.1" font-size="9.3" font-weight="bold" text-anchor="middle" fill="#000" font-family='"Liberation Sans", sans-serif'>450</text>
<line x1="135.16" y1="542.4" x2="135.16" y2="545.2" stroke="#333" stroke-width="1"/>
<text x="135.16" y="555.1" font-size="9.3" font-weight="bold" text-anchor="middle" fill="#000" font-family='"Liberation Sans", sans-serif'>500</text>
<line x1="182.56" y1="542.4" x2="182.56" y2="545.2" stroke="#333" stroke-width="1"/>
<text x="182.56" y="555.1" font-size="9.3" font-weight="bold" text-anchor="middle" fill="#000" font-family='"Liberation Sans", sans-serif'>550</text>
<line x1="64.06" y1="542.4" x2="64.06" y2="544.2" stroke="#333" stroke-width="1"/>
<line x1="111.46" y1="542.4" x2="111.46" y2="544.2" stroke="#333" stroke-width="1"/>
<line x1="158.86" y1="542.4" x2="158.86" y2="544.2" stroke="#333" stroke-width="1"/>
<line x1="206.26" y1="542.4" x2="206.26" y2="544.2" stroke="#333" stroke-width="1"/>
<text x="116.5" y="570" font-size="11.7" font-weight="bold" text-anchor="middle" fill="#000" font-family='"Liberation Sans", sans-serif'>Wavelength (nm)</text>
<text transform="translate(15,466.8) rotate(-90)" font-size="11.9" font-weight="bold" text-anchor="middle" fill="#000" font-family='"Liberation Sans", sans-serif'>PL Intensity</text>
<text x="0.8" y="394.4" font-size="19.5" font-weight="bold" text-anchor="start" fill="#000" font-family='"Liberation Sans", sans-serif'>g</text>
<rect x="141.3" y="405.4" width="22.2" height="11.2" fill="url(#gg_blue)" stroke="#4b62b6" stroke-width="1.2" rx="1.6"/>
<text x="166.1" y="414.1" font-size="8.8" font-weight="bold" fill="#000" font-family='"Liberation Sans", sans-serif'>10<tspan font-size="6.4" dy="-3.6">-2</tspan><tspan dy="3.6" dx="1.6"> M</tspan></text>
<rect x="141.3" y="418.37" width="22.2" height="11.2" fill="url(#gg_teal)" stroke="#42b8c8" stroke-width="1.2" rx="1.6"/>
<text x="166.1" y="427.07" font-size="8.8" font-weight="bold" fill="#000" font-family='"Liberation Sans", sans-serif'>10<tspan font-size="6.4" dy="-3.6">-3</tspan><tspan dy="3.6" dx="1.6"> M</tspan></text>
<rect x="141.3" y="431.34" width="22.2" height="11.2" fill="url(#gg_or)" stroke="#f08a26" stroke-width="1.2" rx="1.6"/>
<text x="166.1" y="440.04" font-size="8.8" font-weight="bold" fill="#000" font-family='"Liberation Sans", sans-serif'>10<tspan font-size="6.4" dy="-3.6">-4</tspan><tspan dy="3.6" dx="1.6"> M</tspan></text>
<rect x="141.3" y="444.31" width="22.2" height="11.2" fill="url(#gg_red)" stroke="#d83434" stroke-width="1.2" rx="1.6"/>
<text x="166.1" y="453.01" font-size="8.8" font-weight="bold" fill="#000" font-family='"Liberation Sans", sans-serif'>10<tspan font-size="6.4" dy="-3.6">-5</tspan><tspan dy="3.6" dx="1.6"> M</tspan></text>
<path d="M249.3,458.95 250.1,454.1 250.9,449.81 251.7,446.65 252.5,443.64 253.3,441.49 254.1,438.27 254.9,436.78 255.7,435.45 256.5,433.29 257.3,431.89 258.1,429.35 258.9,428.27 259.7,426.62 260.5,425.71 261.3,424.62 262.1,422.92 262.9,422.24 263.7,421.47 264.5,421.43 265.3,420.49 266.1,419.04 266.9,419.1 267.7,417.63 268.5,417.57 269.3,416.39 270.1,415.7 270.9,416.25 271.7,415.01 272.5,414.62 273.3,415.21 274.1,414.84 274.9,414 275.7,414.75 276.5,414.23 277.3,414.47 278.1,414.15 278.9,415.46 279.7,415.74 280.5,416.74 281.3,417.38 282.1,417.45 282.9,418.37 283.7,419.04 284.5,420.01 285.3,421 286.1,422.49 286.9,424.17 287.7,424.86 288.5,427.15 289.3,428.33 290.1,429.96 290.9,432.27 291.7,433.58 292.5,435.09 293.3,437 294.1,439 294.9,439.97 295.7,442.82 296.5,443.43 297.3,446.05 298.1,447.92 298.9,448.69 299.7,451.37 300.5,452.71 301.3,454.55 302.1,456.12 302.9,457.94 303.7,459.78 304.5,461.85 305.3,463.26 306.1,465.13 306.9,466.78 307.7,468.28 308.5,469.46 309.3,470.83 310.1,472.23 310.9,473.65 311.7,474.69 312.5,476.25 313.3,477.59 314.1,478.97 314.9,480.05 315.7,481.88 316.5,483.06 317.3,484.71 318.1,486.37 318.9,488.02 319.7,489.24 320.5,490.85 321.3,491.99 322.1,493.11 322.9,494.28 323.7,495.36 324.5,496.42 325.3,497.53 326.1,498.81 326.9,499.98 327.7,500.69 328.5,501.69 329.3,503.11 330.1,503.98 330.9,504.95 331.7,505.88 332.5,506.96 333.3,507.92 334.1,508.58 334.9,509.32 335.7,509.89 336.5,510.87 337.3,511.1 338.1,511.84 338.9,512.51 339.7,512.76 340.5,513.52 341.3,514.12 342.1,514.5 342.9,515.07 343.7,515.3 344.5,515.93 345.3,516.31 346.1,517.07 346.9,517.34 347.7,517.89 348.5,518.58 349.3,519 350.1,519.52 350.9,519.78 351.7,520.26 352.5,520.81 353.3,521.16 354.1,521.53 354.9,522.01 355.7,522.34 356.5,522.86 357.3,523.53 358.1,523.93 358.9,524.21 359.7,524.57 360.5,524.91 361.3,525.21 362.1,525.68 362.9,526.27 363.7,526.69 364.5,526.87 365.3,527.42 366.1,527.79 366.9,528.12 367.7,528.48 368.5,528.87 369.3,529.07 370.1,529.56 370.9,529.74 371.7,530.17 372.5,530.62 373.3,530.92 374.1,531.08 374.9,531.65 375.7,531.83 376.5,532.09 377.3,532.14 378.1,532.63 378.9,532.76 379.7,533.18 380.5,533.33 381.3,533.71 382.1,533.86 382.9,534.14 383.7,534.18 384.5,534.51 385.3,534.75 386.1,534.98 386.9,534.98 387.7,535.36 388.5,535.55 389.3,535.66 390.1,535.94 390.9,536.1 391.7,536.08 392.5,536.24 393.3,536.25 394.1,536.66 394.9,536.84 395.7,536.79 396.5,537.01 397.3,537.14 398.1,537.27 398.9,537.16 399.7,537.52 400.5,537.55 401.3,537.69 402.1,537.69 402.9,537.87 403.7,538.03 404.5,538.07 405.3,538.19 406.1,538 406.9,538.14 407.7,538.33 408.5,538.49 409.3,538.4 410.1,538.66 410.9,538.71 411.7,538.54 412.5,538.78 413.3,538.75 414.1,538.75 414.9,538.85 415.7,538.98 416.5,538.99 417.3,539.05 418.1,539.04 418.9,539.26 419.7,539.28 420.5,539.42 421.3,539.46 422.1,539.36 422.9,539.67 423.7,539.36 424.5,539.56 425.3,539.55 426.1,539.65 426.9,539.57 427.7,539.9 428.5,539.76 429.3,539.66 430.1,539.93 430.9,539.76 431.7,539.98 432.5,539.94 433.3,540.07 434.1,540.26 434.9,540.24 435.7,540.12 436.5,540.32 437.3,540.28 438.1,540.21 438.9,540.16 439.7,540.38 440.5,540.41 440.8,540.58L440.8,541.9L249.3,541.9Z" fill="url(#gh_blue)" stroke="none" stroke-width="1"/>
<path d="M249.3,458.95 250.1,454.1 250.9,449.81 251.7,446.65 252.5,443.64 253.3,441.49 254.1,438.27 254.9,436.78 255.7,435.45 256.5,433.29 257.3,431.89 258.1,429.35 258.9,428.27 259.7,426.62 260.5,425.71 261.3,424.62 262.1,422.92 262.9,422.24 263.7,421.47 264.5,421.43 265.3,420.49 266.1,419.04 266.9,419.1 267.7,417.63 268.5,417.57 269.3,416.39 270.1,415.7 270.9,416.25 271.7,415.01 272.5,414.62 273.3,415.21 274.1,414.84 274.9,414 275.7,414.75 276.5,414.23 277.3,414.47 278.1,414.15 278.9,415.46 279.7,415.74 280.5,416.74 281.3,417.38 282.1,417.45 282.9,418.37 283.7,419.04 284.5,420.01 285.3,421 286.1,422.49 286.9,424.17 287.7,424.86 288.5,427.15 289.3,428.33 290.1,429.96 290.9,432.27 291.7,433.58 292.5,435.09 293.3,437 294.1,439 294.9,439.97 295.7,442.82 296.5,443.43 297.3,446.05 298.1,447.92 298.9,448.69 299.7,451.37 300.5,452.71 301.3,454.55 302.1,456.12 302.9,457.94 303.7,459.78 304.5,461.85 305.3,463.26 306.1,465.13 306.9,466.78 307.7,468.28 308.5,469.46 309.3,470.83 310.1,472.23 310.9,473.65 311.7,474.69 312.5,476.25 313.3,477.59 314.1,478.97 314.9,480.05 315.7,481.88 316.5,483.06 317.3,484.71 318.1,486.37 318.9,488.02 319.7,489.24 320.5,490.85 321.3,491.99 322.1,493.11 322.9,494.28 323.7,495.36 324.5,496.42 325.3,497.53 326.1,498.81 326.9,499.98 327.7,500.69 328.5,501.69 329.3,503.11 330.1,503.98 330.9,504.95 331.7,505.88 332.5,506.96 333.3,507.92 334.1,508.58 334.9,509.32 335.7,509.89 336.5,510.87 337.3,511.1 338.1,511.84 338.9,512.51 339.7,512.76 340.5,513.52 341.3,514.12 342.1,514.5 342.9,515.07 343.7,515.3 344.5,515.93 345.3,516.31 346.1,517.07 346.9,517.34 347.7,517.89 348.5,518.58 349.3,519 350.1,519.52 350.9,519.78 351.7,520.26 352.5,520.81 353.3,521.16 354.1,521.53 354.9,522.01 355.7,522.34 356.5,522.86 357.3,523.53 358.1,523.93 358.9,524.21 359.7,524.57 360.5,524.91 361.3,525.21 362.1,525.68 362.9,526.27 363.7,526.69 364.5,526.87 365.3,527.42 366.1,527.79 366.9,528.12 367.7,528.48 368.5,528.87 369.3,529.07 370.1,529.56 370.9,529.74 371.7,530.17 372.5,530.62 373.3,530.92 374.1,531.08 374.9,531.65 375.7,531.83 376.5,532.09 377.3,532.14 378.1,532.63 378.9,532.76 379.7,533.18 380.5,533.33 381.3,533.71 382.1,533.86 382.9,534.14 383.7,534.18 384.5,534.51 385.3,534.75 386.1,534.98 386.9,534.98 387.7,535.36 388.5,535.55 389.3,535.66 390.1,535.94 390.9,536.1 391.7,536.08 392.5,536.24 393.3,536.25 394.1,536.66 394.9,536.84 395.7,536.79 396.5,537.01 397.3,537.14 398.1,537.27 398.9,537.16 399.7,537.52 400.5,537.55 401.3,537.69 402.1,537.69 402.9,537.87 403.7,538.03 404.5,538.07 405.3,538.19 406.1,538 406.9,538.14 407.7,538.33 408.5,538.49 409.3,538.4 410.1,538.66 410.9,538.71 411.7,538.54 412.5,538.78 413.3,538.75 414.1,538.75 414.9,538.85 415.7,538.98 416.5,538.99 417.3,539.05 418.1,539.04 418.9,539.26 419.7,539.28 420.5,539.42 421.3,539.46 422.1,539.36 422.9,539.67 423.7,539.36 424.5,539.56 425.3,539.55 426.1,539.65 426.9,539.57 427.7,539.9 428.5,539.76 429.3,539.66 430.1,539.93 430.9,539.76 431.7,539.98 432.5,539.94 433.3,540.07 434.1,540.26 434.9,540.24 435.7,540.12 436.5,540.32 437.3,540.28 438.1,540.21 438.9,540.16 439.7,540.38 440.5,540.41 440.8,540.58" fill="none" stroke="#4a70d2" stroke-width="1.1" stroke-linejoin="round"/>
<path d="M249.3,538.81 250.1,538.55 250.9,538.05 251.7,537.64 252.5,537.19 253.3,537.37 254.1,536.93 254.9,536.8 255.7,536.15 256.5,535.98 257.3,535.09 258.1,534.84 258.9,534.1 259.7,533.1 260.5,532.33 261.3,531.48 262.1,530.09 262.9,529.2 263.7,528.12 264.5,526.37 265.3,525.19 266.1,523.32 266.9,521.33 267.7,518.38 268.5,514.99 269.3,511.75 270.1,507.81 270.9,503.3 271.7,498.26 272.5,493.67 273.3,489.65 274.1,484.95 274.9,480.14 275.7,474.61 276.5,470.46 277.3,467.76 278.1,465.2 278.9,463.91 279.7,462.87 280.5,462.21 281.3,462.32 282.1,462.69 282.9,463.58 283.7,465.05 284.5,466.09 285.3,468.05 286.1,470.07 286.9,471.44 287.7,473.04 288.5,473.97 289.3,475.56 290.1,476.05 290.9,476.31 291.7,476.98 292.5,476.63 293.3,475.86 294.1,474.91 294.9,473.4 295.7,472.14 296.5,471.15 297.3,469.63 298.1,468 298.9,467.61 299.7,466.32 300.5,465.99 301.3,466.03 302.1,465.67 302.9,465.49 303.7,465.8 304.5,466.28 305.3,466.79 306.1,468.36 306.9,468.96 307.7,470.76 308.5,472.78 309.3,474.56 310.1,477.33 310.9,479.37 311.7,482.43 312.5,484.61 313.3,486.95 314.1,489.32 314.9,491.25 315.7,493.15 316.5,494.69 317.3,495.89 318.1,496.91 318.9,497.75 319.7,498.24 320.5,498.65 321.3,499.37 322.1,499.8 322.9,500.45 323.7,501.11 324.5,501.49 325.3,502.02 326.1,502.64 326.9,503.4 327.7,503.98 328.5,504.64 329.3,505.43 330.1,506.34 330.9,506.94 331.7,507.81 332.5,508.78 333.3,509.53 334.1,510.25 334.9,511.13 335.7,511.94 336.5,512.61 337.3,513.44 338.1,514.16 338.9,515.06 339.7,515.66 340.5,516.48 341.3,517.29 342.1,517.96 342.9,518.46 343.7,519.17 344.5,519.69 345.3,520.28 346.1,520.85 346.9,521.46 347.7,521.99 348.5,522.27 349.3,522.63 350.1,523.19 350.9,523.48 351.7,523.88 352.5,524.5 353.3,524.69 354.1,525.26 354.9,525.54 355.7,526.09 356.5,526.45 357.3,526.58 358.1,526.99 358.9,527.58 359.7,527.84 360.5,528.14 361.3,528.61 362.1,528.96 362.9,529.21 363.7,529.54 364.5,529.76 365.3,530.16 366.1,530.42 366.9,530.87 367.7,531.16 368.5,531.31 369.3,531.73 370.1,531.83 370.9,532.09 371.7,532.49 372.5,532.66 373.3,533.01 374.1,533.14 374.9,533.37 375.7,533.39 376.5,533.79 377.3,533.75 378.1,534.1 378.9,534.37 379.7,534.55 380.5,534.73 381.3,534.78 382.1,535.04 382.9,535.25 383.7,535.23 384.5,535.65 385.3,535.82 386.1,535.85 386.9,536.12 387.7,536.18 388.5,536.29 389.3,536.58 390.1,536.54 390.9,536.91 391.7,537.1 392.5,537.03 393.3,537.36 394.1,537.23 394.9,537.59 395.7,537.53 396.5,537.85 397.3,537.8 398.1,538.05 398.9,537.89 399.7,538 400.5,538.31 401.3,538.35 402.1,538.41 402.9,538.34 403.7,538.46 404.5,538.6 405.3,538.58 406.1,538.94 406.9,538.94 407.7,539.07 408.5,539.06 409.3,539.02 410.1,539.01 410.9,539.27 411.7,539.14 412.5,539.33 413.3,539.37 414.1,539.43 414.9,539.37 415.7,539.42 416.5,539.61 417.3,539.51 418.1,539.71 418.9,539.64 419.7,539.73 420.5,539.73 421.3,539.9 422.1,539.89 422.9,539.88 423.7,539.92 424.5,540.07 425.3,540.21 426.1,540.1 426.9,540.06 427.7,540.15 428.5,540.16 429.3,540.3 430.1,540.4 430.9,540.37 431.7,540.29 432.5,540.37 433.3,540.42 434.1,540.48 434.9,540.5 435.7,540.72 436.5,540.62 437.3,540.69 438.1,540.74 438.9,540.75 439.7,540.84 440.5,540.75 440.8,540.85L440.8,541.9L249.3,541.9Z" fill="url(#gh_red)" stroke="none" stroke-width="1"/>
<path d="M249.3,538.81 250.1,538.55 250.9,538.05 251.7,537.64 252.5,537.19 253.3,537.37 254.1,536.93 254.9,536.8 255.7,536.15 256.5,535.98 257.3,535.09 258.1,534.84 258.9,534.1 259.7,533.1 260.5,532.33 261.3,531.48 262.1,530.09 262.9,529.2 263.7,528.12 264.5,526.37 265.3,525.19 266.1,523.32 266.9,521.33 267.7,518.38 268.5,514.99 269.3,511.75 270.1,507.81 270.9,503.3 271.7,498.26 272.5,493.67 273.3,489.65 274.1,484.95 274.9,480.14 275.7,474.61 276.5,470.46 277.3,467.76 278.1,465.2 278.9,463.91 279.7,462.87 280.5,462.21 281.3,462.32 282.1,462.69 282.9,463.58 283.7,465.05 284.5,466.09 285.3,468.05 286.1,470.07 286.9,471.44 287.7,473.04 288.5,473.97 289.3,475.56 290.1,476.05 290.9,476.31 291.7,476.98 292.5,476.63 293.3,475.86 294.1,474.91 294.9,473.4 295.7,472.14 296.5,471.15 297.3,469.63 298.1,468 298.9,467.61 299.7,466.32 300.5,465.99 301.3,466.03 302.1,465.67 302.9,465.49 303.7,465.8 304.5,466.28 305.3,466.79 306.1,468.36 306.9,468.96 307.7,470.76 308.5,472.78 309.3,474.56 310.1,477.33 310.9,479.37 311.7,482.43 312.5,484.61 313.3,486.95 314.1,489.32 314.9,491.25 315.7,493.15 316.5,494.69 317.3,495.89 318.1,496.91 318.9,497.75 319.7,498.24 320.5,498.65 321.3,499.37 322.1,499.8 322.9,500.45 323.7,501.11 324.5,501.49 325.3,502.02 326.1,502.64 326.9,503.4 327.7,503.98 328.5,504.64 329.3,505.43 330.1,506.34 330.9,506.94 331.7,507.81 332.5,508.78 333.3,509.53 334.1,510.25 334.9,511.13 335.7,511.94 336.5,512.61 337.3,513.44 338.1,514.16 338.9,515.06 339.7,515.66 340.5,516.48 341.3,517.29 342.1,517.96 342.9,518.46 343.7,519.17 344.5,519.69 345.3,520.28 346.1,520.85 346.9,521.46 347.7,521.99 348.5,522.27 349.3,522.63 350.1,523.19 350.9,523.48 351.7,523.88 352.5,524.5 353.3,524.69 354.1,525.26 354.9,525.54 355.7,526.09 356.5,526.45 357.3,526.58 358.1,526.99 358.9,527.58 359.7,527.84 360.5,528.14 361.3,528.61 362.1,528.96 362.9,529.21 363.7,529.54 364.5,529.76 365.3,530.16 366.1,530.42 366.9,530.87 367.7,531.16 368.5,531.31 369.3,531.73 370.1,531.83 370.9,532.09 371.7,532.49 372.5,532.66 373.3,533.01 374.1,533.14 374.9,533.37 375.7,533.39 376.5,533.79 377.3,533.75 378.1,534.1 378.9,534.37 379.7,534.55 380.5,534.73 381.3,534.78 382.1,535.04 382.9,535.25 383.7,535.23 384.5,535.65 385.3,535.82 386.1,535.85 386.9,536.12 387.7,536.18 388.5,536.29 389.3,536.58 390.1,536.54 390.9,536.91 391.7,537.1 392.5,537.03 393.3,537.36 394.1,537.23 394.9,537.59 395.7,537.53 396.5,537.85 397.3,537.8 398.1,538.05 398.9,537.89 399.7,538 400.5,538.31 401.3,538.35 402.1,538.41 402.9,538.34 403.7,538.46 404.5,538.6 405.3,538.58 406.1,538.94 406.9,538.94 407.7,539.07 408.5,539.06 409.3,539.02 410.1,539.01 410.9,539.27 411.7,539.14 412.5,539.33 413.3,539.37 414.1,539.43 414.9,539.37 415.7,539.42 416.5,539.61 417.3,539.51 418.1,539.71 418.9,539.64 419.7,539.73 420.5,539.73 421.3,539.9 422.1,539.89 422.9,539.88 423.7,539.92 424.5,540.07 425.3,540.21 426.1,540.1 426.9,540.06 427.7,540.15 428.5,540.16 429.3,540.3 430.1,540.4 430.9,540.37 431.7,540.29 432.5,540.37 433.3,540.42 434.1,540.48 434.9,540.5 435.7,540.72 436.5,540.62 437.3,540.69 438.1,540.74 438.9,540.75 439.7,540.84 440.5,540.75 440.8,540.85" fill="none" stroke="#d4252c" stroke-width="1.2" stroke-linejoin="round"/>
<path d="M249.3,537.11 250.1,536.76 250.9,536.72 251.7,536.14 252.5,536.1 253.3,535.76 254.1,535.37 254.9,535.39 255.7,534.97 256.5,535.02 257.3,534.72 258.1,534.65 258.9,534.75 259.7,534.91 260.5,534.53 261.3,534.55 262.1,534.73 262.9,534.87 263.7,534.67 264.5,534.55 265.3,534.81 266.1,534.3 266.9,534.65 267.7,534.29 268.5,534.1 269.3,533.94 270.1,533.82 270.9,533.82 271.7,533.21 272.5,533.09 273.3,532.8 274.1,532.37 274.9,532.2 275.7,531.78 276.5,531.65 277.3,531.62 278.1,531.79 278.9,531.63 279.7,531.57 280.5,531.71 281.3,531.65 282.1,531.59 282.9,531.85 283.7,531.81 284.5,531.6 285.3,531.78 286.1,531.77 286.9,531.96 287.7,531.91 288.5,531.71 289.3,532.09 290.1,531.68 290.9,531.86 291.7,532.06 292.5,531.78 293.3,531.99 294.1,531.79 294.9,532.15 295.7,532.23 296.5,532.18 297.3,532.38 298.1,532.14 298.9,532.38 299.7,532.39 300.5,532.44 301.3,532.44 302.1,532.7 302.9,532.82 303.7,532.66 304.5,532.83 305.3,532.6 306.1,533 306.9,533.06 307.7,533.32 308.5,533.32 309.3,533.15 310.1,533.29 310.9,533.53 311.7,533.31 312.5,533.63 313.3,533.58 314.1,533.66 314.9,533.75 315.7,534.22 316.5,534.03 317.3,534.22 318.1,534.42 318.9,534.8 319.7,534.55 320.5,534.87 321.3,535.06 322.1,535.37 322.9,535.47 323.7,535.63 324.5,535.46 325.3,535.65 326.1,535.74 326.9,536.11 327.7,536.25 328.5,535.95 329.3,536.06 330.1,536.18 330.9,536.27 331.7,536.49 332.5,536.63 333.3,536.55 334.1,536.51 334.9,536.8 335.7,536.85 336.5,537.03 337.3,537.3 338.1,537.24 338.9,537.23 339.7,537.35 340.5,537.44 341.3,537.2 342.1,537.68 342.9,537.68 343.7,537.79 344.5,537.81 345.3,537.67 346.1,537.72 346.9,537.63 347.7,537.95 348.5,537.71 349.3,537.77 350.1,537.89 350.9,537.91 351.7,538.05 352.5,537.96 353.3,537.98 354.1,538.1 354.9,538.12 355.7,538.3 356.5,538.18 357.3,538.65 358.1,538.56 358.9,538.37 359.7,538.46 360.5,538.55 361.3,538.6 362.1,538.52 362.9,538.92 363.7,539.03 364.5,538.8 365.3,538.85 366.1,538.68 366.9,538.73 367.7,538.88 368.5,538.87 369.3,539.19 370.1,538.89 370.9,538.85 371.7,539.34 372.5,539.16 373.3,539 374.1,539.23 374.9,539 375.7,539.27 376.5,539.53 377.3,539.49 378.1,539.44 378.9,539.25 379.7,539.32 380.5,539.25 381.3,539.57 382.1,539.48 382.9,539.63 383.7,539.42 384.5,539.39 385.3,539.71 386.1,539.82 386.9,539.77 387.7,539.77 388.5,539.8 389.3,539.78 390.1,539.54 390.9,539.71 391.7,539.65 392.5,539.5 393.3,539.52 394.1,539.67 394.9,539.68 395.7,539.91 396.5,540.06 397.3,539.83 398.1,540.09 398.9,540.14 399.7,540.14 400.5,539.86 401.3,539.81 402.1,539.83 402.9,539.83 403.7,539.85 404.5,540.08 405.3,540.24 406.1,540.23 406.9,540.06 407.7,540.17 408.5,540.26 409.3,539.92 410.1,540.22 410.9,540.37 411.7,540.32 412.5,540.32 413.3,540.2 414.1,540.07 414.9,540.39 415.7,540.18 416.5,540.43 417.3,540.53 418.1,540.26 418.9,540.28 419.7,540.57 420.5,540.48 421.3,540.22 422.1,540.21 422.9,540.24 423.7,540.64 424.5,540.61 425.3,540.29 426.1,540.65 426.9,540.74 427.7,540.6 428.5,540.46 429.3,540.58 430.1,540.39 430.9,540.34 431.7,540.84 432.5,540.7 433.3,540.65 434.1,540.87 434.9,540.64 435.7,540.87 436.5,540.87 437.3,540.58 438.1,540.62 438.9,540.65 439.7,540.65 440.5,540.84 440.8,540.68L440.8,541.9L249.3,541.9Z" fill="url(#gh_teal)" stroke="none" stroke-width="1"/>
<path d="M249.3,537.11 250.1,536.76 250.9,536.72 251.7,536.14 252.5,536.1 253.3,535.76 254.1,535.37 254.9,535.39 255.7,534.97 256.5,535.02 257.3,534.72 258.1,534.65 258.9,534.75 259.7,534.91 260.5,534.53 261.3,534.55 262.1,534.73 262.9,534.87 263.7,534.67 264.5,534.55 265.3,534.81 266.1,534.3 266.9,534.65 267.7,534.29 268.5,534.1 269.3,533.94 270.1,533.82 270.9,533.82 271.7,533.21 272.5,533.09 273.3,532.8 274.1,532.37 274.9,532.2 275.7,531.78 276.5,531.65 277.3,531.62 278.1,531.79 278.9,531.63 279.7,531.57 280.5,531.71 281.3,531.65 282.1,531.59 282.9,531.85 283.7,531.81 284.5,531.6 285.3,531.78 286.1,531.77 286.9,531.96 287.7,531.91 288.5,531.71 289.3,532.09 290.1,531.68 290.9,531.86 291.7,532.06 292.5,531.78 293.3,531.99 294.1,531.79 294.9,532.15 295.7,532.23 296.5,532.18 297.3,532.38 298.1,532.14 298.9,532.38 299.7,532.39 300.5,532.44 301.3,532.44 302.1,532.7 302.9,532.82 303.7,532.66 304.5,532.83 305.3,532.6 306.1,533 306.9,533.06 307.7,533.32 308.5,533.32 309.3,533.15 310.1,533.29 310.9,533.53 311.7,533.31 312.5,533.63 313.3,533.58 314.1,533.66 314.9,533.75 315.7,534.22 316.5,534.03 317.3,534.22 318.1,534.42 318.9,534.8 319.7,534.55 320.5,534.87 321.3,535.06 322.1,535.37 322.9,535.47 323.7,535.63 324.5,535.46 325.3,535.65 326.1,535.74 326.9,536.11 327.7,536.25 328.5,535.95 329.3,536.06 330.1,536.18 330.9,536.27 331.7,536.49 332.5,536.63 333.3,536.55 334.1,536.51 334.9,536.8 335.7,536.85 336.5,537.03 337.3,537.3 338.1,537.24 338.9,537.23 339.7,537.35 340.5,537.44 341.3,537.2 342.1,537.68 342.9,537.68 343.7,537.79 344.5,537.81 345.3,537.67 346.1,537.72 346.9,537.63 347.7,537.95 348.5,537.71 349.3,537.77 350.1,537.89 350.9,537.91 351.7,538.05 352.5,537.96 353.3,537.98 354.1,538.1 354.9,538.12 355.7,538.3 356.5,538.18 357.3,538.65 358.1,538.56 358.9,538.37 359.7,538.46 360.5,538.55 361.3,538.6 362.1,538.52 362.9,538.92 363.7,539.03 364.5,538.8 365.3,538.85 366.1,538.68 366.9,538.73 367.7,538.88 368.5,538.87 369.3,539.19 370.1,538.89 370.9,538.85 371.7,539.34 372.5,539.16 373.3,539 374.1,539.23 374.9,539 375.7,539.27 376.5,539.53 377.3,539.49 378.1,539.44 378.9,539.25 379.7,539.32 380.5,539.25 381.3,539.57 382.1,539.48 382.9,539.63 383.7,539.42 384.5,539.39 385.3,539.71 386.1,539.82 386.9,539.77 387.7,539.77 388.5,539.8 389.3,539.78 390.1,539.54 390.9,539.71 391.7,539.65 392.5,539.5 393.3,539.52 394.1,539.67 394.9,539.68 395.7,539.91 396.5,540.06 397.3,539.83 398.1,540.09 398.9,540.14 399.7,540.14 400.5,539.86 401.3,539.81 402.1,539.83 402.9,539.83 403.7,539.85 404.5,540.08 405.3,540.24 406.1,540.23 406.9,540.06 407.7,540.17 408.5,540.26 409.3,539.92 410.1,540.22 410.9,540.37 411.7,540.32 412.5,540.32 413.3,540.2 414.1,540.07 414.9,540.39 415.7,540.18 416.5,540.43 417.3,540.53 418.1,540.26 418.9,540.28 419.7,540.57 420.5,540.48 421.3,540.22 422.1,540.21 422.9,540.24 423.7,540.64 424.5,540.61 425.3,540.29 426.1,540.65 426.9,540.74 427.7,540.6 428.5,540.46 429.3,540.58 430.1,540.39 430.9,540.34 431.7,540.84 432.5,540.7 433.3,540.65 434.1,540.87 434.9,540.64 435.7,540.87 436.5,540.87 437.3,540.58 438.1,540.62 438.9,540.65 439.7,540.65 440.5,540.84 440.8,540.68" fill="none" stroke="#45b6b8" stroke-width="1.1" stroke-linejoin="round"/>
<path d="M249.3,537.56 250.1,537.68 250.9,536.98 251.7,537 252.5,536.43 253.3,536.27 254.1,536.42 254.9,535.82 255.7,535.86 256.5,535.63 257.3,535.51 258.1,535.45 258.9,535.24 259.7,535.52 260.5,535.12 261.3,535.16 262.1,535.04 262.9,535.14 263.7,535.19 264.5,535.41 265.3,535.11 266.1,534.94 266.9,534.95 267.7,535.24 268.5,534.66 269.3,534.79 270.1,534.46 270.9,534.35 271.7,533.89 272.5,533.75 273.3,533.33 274.1,533.1 274.9,532.98 275.7,532.64 276.5,532.29 277.3,532.15 278.1,532.52 278.9,532.26 279.7,532.11 280.5,532.49 281.3,532.31 282.1,532.4 282.9,532.49 283.7,532.2 284.5,532.25 285.3,532.53 286.1,532.17 286.9,532.51 287.7,532.19 288.5,532.51 289.3,532.54 290.1,532.69 290.9,532.66 291.7,532.52 292.5,532.4 293.3,532.41 294.1,532.63 294.9,532.66 295.7,532.48 296.5,532.94 297.3,532.79 298.1,532.93 298.9,532.75 299.7,532.82 300.5,532.76 301.3,532.99 302.1,533.03 302.9,533.18 303.7,533.23 304.5,533.54 305.3,533.66 306.1,533.39 306.9,533.59 307.7,533.57 308.5,533.91 309.3,534.17 310.1,533.88 310.9,534.26 311.7,534.14 312.5,534.1 313.3,534.58 314.1,534.48 314.9,534.5 315.7,534.76 316.5,534.78 317.3,535.01 318.1,535.16 318.9,535.29 319.7,535.51 320.5,535.51 321.3,535.55 322.1,535.68 322.9,535.83 323.7,536.17 324.5,536.21 325.3,536.56 326.1,536.52 326.9,536.73 327.7,536.97 328.5,536.6 329.3,536.67 330.1,536.83 330.9,537.04 331.7,537.22 332.5,537.39 333.3,537.28 334.1,537.66 334.9,537.26 335.7,537.76 336.5,537.52 337.3,537.92 338.1,537.57 338.9,538.1 339.7,538.06 340.5,538.24 341.3,538.1 342.1,537.96 342.9,538.41 343.7,538.2 344.5,538.08 345.3,538.39 346.1,538.38 346.9,538.42 347.7,538.31 348.5,538.34 349.3,538.62 350.1,538.6 350.9,538.48 351.7,538.68 352.5,538.86 353.3,538.9 354.1,538.82 354.9,538.82 355.7,538.85 356.5,538.82 357.3,538.84 358.1,539.01 358.9,538.87 359.7,539.22 360.5,539.25 361.3,539.23 362.1,538.97 362.9,539.17 363.7,539.24 364.5,539.1 365.3,539.57 366.1,539.49 366.9,539.4 367.7,539.53 368.5,539.3 369.3,539.34 370.1,539.52 370.9,539.65 371.7,539.63 372.5,539.34 373.3,539.66 374.1,539.84 374.9,539.78 375.7,539.89 376.5,539.94 377.3,539.59 378.1,539.65 378.9,539.79 379.7,540.03 380.5,539.75 381.3,540.05 382.1,540.03 382.9,539.88 383.7,539.96 384.5,540.14 385.3,540.07 386.1,539.85 386.9,540.14 387.7,539.83 388.5,539.94 389.3,540.25 390.1,540.21 390.9,539.96 391.7,539.97 392.5,540.15 393.3,540.28 394.1,540.22 394.9,540.36 395.7,540.27 396.5,540.33 397.3,540.24 398.1,540.14 398.9,540.19 399.7,540.23 400.5,540.27 401.3,540.44 402.1,540.17 402.9,540.09 403.7,540.43 404.5,540.22 405.3,540.31 406.1,540.17 406.9,540.54 407.7,540.28 408.5,540.3 409.3,540.58 410.1,540.44 410.9,540.34 411.7,540.66 412.5,540.44 413.3,540.43 414.1,540.75 414.9,540.67 415.7,540.67 416.5,540.43 417.3,540.73 418.1,540.63 418.9,540.77 419.7,540.55 420.5,540.77 421.3,540.79 422.1,540.6 422.9,540.75 423.7,540.83 424.5,540.95 425.3,540.93 426.1,540.87 426.9,540.56 427.7,540.81 428.5,540.87 429.3,540.58 430.1,540.78 430.9,541 431.7,541.03 432.5,541.06 433.3,540.66 434.1,540.93 434.9,541.07 435.7,540.98 436.5,540.83 437.3,540.7 438.1,541.16 438.9,541.14 439.7,541.06 440.5,540.93 440.8,541.16L440.8,541.9L249.3,541.9Z" fill="url(#gh_or)" stroke="none" stroke-width="1"/>
<path d="M249.3,537.56 250.1,537.68 250.9,536.98 251.7,537 252.5,536.43 253.3,536.27 254.1,536.42 254.9,535.82 255.7,535.86 256.5,535.63 257.3,535.51 258.1,535.45 258.9,535.24 259.7,535.52 260.5,535.12 261.3,535.16 262.1,535.04 262.9,535.14 263.7,535.19 264.5,535.41 265.3,535.11 266.1,534.94 266.9,534.95 267.7,535.24 268.5,534.66 269.3,534.79 270.1,534.46 270.9,534.35 271.7,533.89 272.5,533.75 273.3,533.33 274.1,533.1 274.9,532.98 275.7,532.64 276.5,532.29 277.3,532.15 278.1,532.52 278.9,532.26 279.7,532.11 280.5,532.49 281.3,532.31 282.1,532.4 282.9,532.49 283.7,532.2 284.5,532.25 285.3,532.53 286.1,532.17 286.9,532.51 287.7,532.19 288.5,532.51 289.3,532.54 290.1,532.69 290.9,532.66 291.7,532.52 292.5,532.4 293.3,532.41 294.1,532.63 294.9,532.66 295.7,532.48 296.5,532.94 297.3,532.79 298.1,532.93 298.9,532.75 299.7,532.82 300.5,532.76 301.3,532.99 302.1,533.03 302.9,533.18 303.7,533.23 304.5,533.54 305.3,533.66 306.1,533.39 306.9,533.59 307.7,533.57 308.5,533.91 309.3,534.17 310.1,533.88 310.9,534.26 311.7,534.14 312.5,534.1 313.3,534.58 314.1,534.48 314.9,534.5 315.7,534.76 316.5,534.78 317.3,535.01 318.1,535.16 318.9,535.29 319.7,535.51 320.5,535.51 321.3,535.55 322.1,535.68 322.9,535.83 323.7,536.17 324.5,536.21 325.3,536.56 326.1,536.52 326.9,536.73 327.7,536.97 328.5,536.6 329.3,536.67 330.1,536.83 330.9,537.04 331.7,537.22 332.5,537.39 333.3,537.28 334.1,537.66 334.9,537.26 335.7,537.76 336.5,537.52 337.3,537.92 338.1,537.57 338.9,538.1 339.7,538.06 340.5,538.24 341.3,538.1 342.1,537.96 342.9,538.41 343.7,538.2 344.5,538.08 345.3,538.39 346.1,538.38 346.9,538.42 347.7,538.31 348.5,538.34 349.3,538.62 350.1,538.6 350.9,538.48 351.7,538.68 352.5,538.86 353.3,538.9 354.1,538.82 354.9,538.82 355.7,538.85 356.5,538.82 357.3,538.84 358.1,539.01 358.9,538.87 359.7,539.22 360.5,539.25 361.3,539.23 362.1,538.97 362.9,539.17 363.7,539.24 364.5,539.1 365.3,539.57 366.1,539.49 366.9,539.4 367.7,539.53 368.5,539.3 369.3,539.34 370.1,539.52 370.9,539.65 371.7,539.63 372.5,539.34 373.3,539.66 374.1,539.84 374.9,539.78 375.7,539.89 376.5,539.94 377.3,539.59 378.1,539.65 378.9,539.79 379.7,540.03 380.5,539.75 381.3,540.05 382.1,540.03 382.9,539.88 383.7,539.96 384.5,540.14 385.3,540.07 386.1,539.85 386.9,540.14 387.7,539.83 388.5,539.94 389.3,540.25 390.1,540.21 390.9,539.96 391.7,539.97 392.5,540.15 393.3,540.28 394.1,540.22 394.9,540.36 395.7,540.27 396.5,540.33 397.3,540.24 398.1,540.14 398.9,540.19 399.7,540.23 400.5,540.27 401.3,540.44 402.1,540.17 402.9,540.09 403.7,540.43 404.5,540.22 405.3,540.31 406.1,540.17 406.9,540.54 407.7,540.28 408.5,540.3 409.3,540.58 410.1,540.44 410.9,540.34 411.7,540.66 412.5,540.44 413.3,540.43 414.1,540.75 414.9,540.67 415.7,540.67 416.5,540.43 417.3,540.73 418.1,540.63 418.9,540.77 419.7,540.55 420.5,540.77 421.3,540.79 422.1,540.6 422.9,540.75 423.7,540.83 424.5,540.95 425.3,540.93 426.1,540.87 426.9,540.56 427.7,540.81 428.5,540.87 429.3,540.58 430.1,540.78 430.9,541 431.7,541.03 432.5,541.06 433.3,540.66 434.1,540.93 434.9,541.07 435.7,540.98 436.5,540.83 437.3,540.7 438.1,541.16 438.9,541.14 439.7,541.06 440.5,540.93 440.8,541.16" fill="none" stroke="#e6842c" stroke-width="1.2" stroke-linejoin="round"/>
<text x="284" y="493.2" font-size="17.5" font-weight="bold" fill="#fff" text-anchor="middle" font-family='"Liberation Serif", serif'>I</text>
<text x="303" y="493.2" font-size="17.5" font-weight="bold" fill="#fff" text-anchor="middle" font-family='"Liberation Serif", serif'>II</text>
<rect x="249.75" y="389.05" width="191.05" height="152.85" fill="none" stroke="#4a4a4a" stroke-width="1.6"/>
<line x1="268.86" y1="541.9" x2="268.86" y2="544.7" stroke="#333" stroke-width="1"/>
<text x="268.86" y="555.1" font-size="9.3" font-weight="bold" text-anchor="middle" fill="#000" font-family='"Liberation Sans", sans-serif'>400</text>
<line x1="316.62" y1="541.9" x2="316.62" y2="544.7" stroke="#333" stroke-width="1"/>
<text x="316.62" y="555.1" font-size="9.3" font-weight="bold" text-anchor="middle" fill="#000" font-family='"Liberation Sans", sans-serif'>450</text>
<line x1="364.38" y1="541.9" x2="364.38" y2="544.7" stroke="#333" stroke-width="1"/>
<text x="364.38" y="555.1" font-size="9.3" font-weight="bold" text-anchor="middle" fill="#000" font-family='"Liberation Sans", sans-serif'>500</text>
<line x1="412.14" y1="541.9" x2="412.14" y2="544.7" stroke="#333" stroke-width="1"/>
<text x="412.14" y="555.1" font-size="9.3" font-weight="bold" text-anchor="middle" fill="#000" font-family='"Liberation Sans", sans-serif'>550</text>
<line x1="292.74" y1="541.9" x2="292.74" y2="543.7" stroke="#333" stroke-width="1"/>
<line x1="340.5" y1="541.9" x2="340.5" y2="543.7" stroke="#333" stroke-width="1"/>
<line x1="388.26" y1="541.9" x2="388.26" y2="543.7" stroke="#333" stroke-width="1"/>
<line x1="436.02" y1="541.9" x2="436.02" y2="543.7" stroke="#333" stroke-width="1"/>
<text x="344.5" y="570" font-size="11.7" font-weight="bold" text-anchor="middle" fill="#000" font-family='"Liberation Sans", sans-serif'>Wavelength (nm)</text>
<text transform="translate(243.6,467) rotate(-90)" font-size="11.9" font-weight="bold" text-anchor="middle" fill="#000" font-family='"Liberation Sans", sans-serif'>PL Intensity</text>
<text x="224.8" y="393.5" font-size="18.5" font-weight="bold" text-anchor="start" fill="#000" font-family='"Liberation Sans", sans-serif'>h</text>
<rect x="370.7" y="401.3" width="21.7" height="11" fill="url(#gh_blue)" stroke="#4a70d2" stroke-width="1.2" rx="1.6"/>
<text x="395.3" y="409.9" font-size="8.8" font-weight="bold" fill="#000" font-family='"Liberation Sans", sans-serif'>10<tspan font-size="6.4" dy="-3.6">-2</tspan><tspan dy="3.6" dx="1.6"> M</tspan></text>
<rect x="370.7" y="414.25" width="21.7" height="11" fill="url(#gh_red)" stroke="#d4252c" stroke-width="1.2" rx="1.6"/>
<text x="395.3" y="422.85" font-size="8.8" font-weight="bold" fill="#000" font-family='"Liberation Sans", sans-serif'>10<tspan font-size="6.4" dy="-3.6">-3</tspan><tspan dy="3.6" dx="1.6"> M</tspan></text>
<rect x="370.7" y="427.2" width="21.7" height="11" fill="url(#gh_teal)" stroke="#45b6b8" stroke-width="1.2" rx="1.6"/>
<text x="395.3" y="435.8" font-size="8.8" font-weight="bold" fill="#000" font-family='"Liberation Sans", sans-serif'>10<tspan font-size="6.4" dy="-3.6">-4</tspan><tspan dy="3.6" dx="1.6"> M</tspan></text>
<rect x="370.7" y="440.15" width="21.7" height="11" fill="url(#gh_orsw)" stroke="#e6842c" stroke-width="1.2" rx="1.6"/>
<text x="395.3" y="448.75" font-size="8.8" font-weight="bold" fill="#000" font-family='"Liberation Sans", sans-serif'>10<tspan font-size="6.4" dy="-3.6">-5</tspan><tspan dy="3.6" dx="1.6"> M</tspan></text>
<path d="M482.7,534.39 483.5,534.03 484.3,533.64 485.1,533.54 485.9,532.95 486.7,532.75 487.5,532.51 488.3,531.87 489.1,531.58 489.9,531.08 490.7,530.34 491.5,529.8 492.3,529.2 493.1,528.37 493.9,527.67 494.7,526.7 495.5,525.92 496.3,525.02 497.1,524.17 497.9,523.17 498.7,521.73 499.5,520.22 500.3,518.32 501.1,516.44 501.9,514.15 502.7,512.08 503.5,510.07 504.3,507.84 505.1,505.33 505.9,502.52 506.7,499.53 507.5,496.07 508.3,492.36 509.1,488.6 509.9,484.4 510.7,480.58 511.5,476.62 512.3,472.38 513.1,468.39 513.9,464.31 514.7,460.09 515.5,456.2 516.3,452.47 517.1,448.54 517.9,445.2 518.7,441.72 519.5,438.62 520.3,435.54 521.1,432.22 521.9,429.07 522.7,425.98 523.5,423.01 524.3,419.98 525.1,417.38 525.9,414.78 526.7,412.6 527.5,410.81 528.3,409.67 529.1,408.87 529.9,408 530.7,407.53 531.5,406.83 532.3,406.48 533.1,406.21 533.9,405.63 534.7,405.54 535.5,405.33 536.3,405.01 537.1,404.92 537.9,405.07 538.7,405.05 539.5,404.79 540.3,404.99 541.1,405.12 541.9,404.98 542.7,405.19 543.5,405.16 544.3,405.43 545.1,405.73 545.9,405.95 546.7,406.28 547.5,406.4 548.3,406.89 549.1,407.61 549.9,408.33 550.7,409.3 551.5,410.25 552.3,411.36 553.1,412.58 553.9,414.14 554.7,416.33 555.5,418.24 556.3,420.38 557.1,422.41 557.9,424.55 558.7,426.51 559.5,428.3 560.3,430.21 561.1,431.74 561.9,433.63 562.7,435.16 563.5,437.29 564.3,439.34 565.1,441.35 565.9,443.48 566.7,445.3 567.5,447.26 568.3,448.9 569.1,450.51 569.9,452.37 570.7,453.82 571.5,455.43 572.3,457.2 573.1,458.68 573.9,460.39 574.7,461.85 575.5,463.65 576.3,465.08 577.1,466.64 577.9,468.54 578.7,469.94 579.5,471.83 580.3,473.51 581.1,475.07 581.9,476.56 582.7,478.23 583.5,479.91 584.3,481.6 585.1,483.31 585.9,485.05 586.7,486.48 587.5,488.01 588.3,489.68 589.1,491.07 589.9,492.55 590.7,494.2 591.5,495.71 592.3,496.96 593.1,498.46 593.9,499.85 594.7,501.13 595.5,502.2 596.3,503.48 597.1,504.36 597.9,505.58 598.7,506.63 599.5,507.67 600.3,508.55 601.1,509.41 601.9,510.37 602.7,511.47 603.5,512.32 604.3,513.39 605.1,514.15 605.9,515.26 606.7,515.96 607.5,516.73 608.3,517.57 609.1,518.42 609.9,519.17 610.7,519.81 611.5,520.39 612.3,521.11 613.1,521.85 613.9,522.3 614.7,522.99 615.5,523.27 616.3,524.11 617.1,524.62 617.9,525.05 618.7,525.56 619.5,526.07 620.3,526.67 621.1,526.89 621.9,527.51 622.7,527.91 623.5,528.24 624.3,528.76 625.1,529.14 625.9,529.31 626.7,529.83 627.5,530.07 628.3,530.38 629.1,530.7 629.9,530.8 630.7,531.23 631.5,531.42 632.3,531.83 633.1,531.89 633.9,532.32 634.7,532.53 635.5,532.74 636.3,533.06 637.1,533.04 637.9,533.44 638.7,533.67 639.5,533.91 640.3,534.05 641.1,534.16 641.9,534.4 642.7,534.72 643.5,534.79 644.3,534.94 645.1,535.2 645.9,535.41 646.7,535.59 647.5,535.6 648.3,535.98 649.1,536 649.9,536.28 650.7,536.19 651.5,536.61 652.3,536.64 653.1,536.89 653.9,537.02 654.7,537.1 655.5,537.01 656.3,537.2 657.1,537.29 657.9,537.58 658.7,537.52 659.5,537.65 660.3,537.73 661.1,537.84 661.9,538.2 662.7,538.32 663.5,538.24 664.3,538.46 665.1,538.48 665.9,538.59 666.7,538.65 667.5,538.83 668.3,538.81 669.1,538.91 669.9,539.09 670.7,539.09 671.5,539.26 672.3,539.51 673.1,539.33 673.9,539.45 674.7,539.75 675.5,539.63 675.8,539.73L675.8,541.6L482.7,541.6Z" fill="url(#gi_blue)" stroke="none" stroke-width="1"/>
<path d="M482.7,534.39 483.5,534.03 484.3,533.64 485.1,533.54 485.9,532.95 486.7,532.75 487.5,532.51 488.3,531.87 489.1,531.58 489.9,531.08 490.7,530.34 491.5,529.8 492.3,529.2 493.1,528.37 493.9,527.67 494.7,526.7 495.5,525.92 496.3,525.02 497.1,524.17 497.9,523.17 498.7,521.73 499.5,520.22 500.3,518.32 501.1,516.44 501.9,514.15 502.7,512.08 503.5,510.07 504.3,507.84 505.1,505.33 505.9,502.52 506.7,499.53 507.5,496.07 508.3,492.36 509.1,488.6 509.9,484.4 510.7,480.58 511.5,476.62 512.3,472.38 513.1,468.39 513.9,464.31 514.7,460.09 515.5,456.2 516.3,452.47 517.1,448.54 517.9,445.2 518.7,441.72 519.5,438.62 520.3,435.54 521.1,432.22 521.9,429.07 522.7,425.98 523.5,423.01 524.3,419.98 525.1,417.38 525.9,414.78 526.7,412.6 527.5,410.81 528.3,409.67 529.1,408.87 529.9,408 530.7,407.53 531.5,406.83 532.3,406.48 533.1,406.21 533.9,405.63 534.7,405.54 535.5,405.33 536.3,405.01 537.1,404.92 537.9,405.07 538.7,405.05 539.5,404.79 540.3,404.99 541.1,405.12 541.9,404.98 542.7,405.19 543.5,405.16 544.3,405.43 545.1,405.73 545.9,405.95 546.7,406.28 547.5,406.4 548.3,406.89 549.1,407.61 549.9,408.33 550.7,409.3 551.5,410.25 552.3,411.36 553.1,412.58 553.9,414.14 554.7,416.33 555.5,418.24 556.3,420.38 557.1,422.41 557.9,424.55 558.7,426.51 559.5,428.3 560.3,430.21 561.1,431.74 561.9,433.63 562.7,435.16 563.5,437.29 564.3,439.34 565.1,441.35 565.9,443.48 566.7,445.3 567.5,447.26 568.3,448.9 569.1,450.51 569.9,452.37 570.7,453.82 571.5,455.43 572.3,457.2 573.1,458.68 573.9,460.39 574.7,461.85 575.5,463.65 576.3,465.08 577.1,466.64 577.9,468.54 578.7,469.94 579.5,471.83 580.3,473.51 581.1,475.07 581.9,476.56 582.7,478.23 583.5,479.91 584.3,481.6 585.1,483.31 585.9,485.05 586.7,486.48 587.5,488.01 588.3,489.68 589.1,491.07 589.9,492.55 590.7,494.2 591.5,495.71 592.3,496.96 593.1,498.46 593.9,499.85 594.7,501.13 595.5,502.2 596.3,503.48 597.1,504.36 597.9,505.58 598.7,506.63 599.5,507.67 600.3,508.55 601.1,509.41 601.9,510.37 602.7,511.47 603.5,512.32 604.3,513.39 605.1,514.15 605.9,515.26 606.7,515.96 607.5,516.73 608.3,517.57 609.1,518.42 609.9,519.17 610.7,519.81 611.5,520.39 612.3,521.11 613.1,521.85 613.9,522.3 614.7,522.99 615.5,523.27 616.3,524.11 617.1,524.62 617.9,525.05 618.7,525.56 619.5,526.07 620.3,526.67 621.1,526.89 621.9,527.51 622.7,527.91 623.5,528.24 624.3,528.76 625.1,529.14 625.9,529.31 626.7,529.83 627.5,530.07 628.3,530.38 629.1,530.7 629.9,530.8 630.7,531.23 631.5,531.42 632.3,531.83 633.1,531.89 633.9,532.32 634.7,532.53 635.5,532.74 636.3,533.06 637.1,533.04 637.9,533.44 638.7,533.67 639.5,533.91 640.3,534.05 641.1,534.16 641.9,534.4 642.7,534.72 643.5,534.79 644.3,534.94 645.1,535.2 645.9,535.41 646.7,535.59 647.5,535.6 648.3,535.98 649.1,536 649.9,536.28 650.7,536.19 651.5,536.61 652.3,536.64 653.1,536.89 653.9,537.02 654.7,537.1 655.5,537.01 656.3,537.2 657.1,537.29 657.9,537.58 658.7,537.52 659.5,537.65 660.3,537.73 661.1,537.84 661.9,538.2 662.7,538.32 663.5,538.24 664.3,538.46 665.1,538.48 665.9,538.59 666.7,538.65 667.5,538.83 668.3,538.81 669.1,538.91 669.9,539.09 670.7,539.09 671.5,539.26 672.3,539.51 673.1,539.33 673.9,539.45 674.7,539.75 675.5,539.63 675.8,539.73" fill="none" stroke="#4a62ae" stroke-width="1.1" stroke-linejoin="round"/>
<path d="M482.7,534.42 483.5,534.04 484.3,533.76 485.1,533.32 485.9,533.17 486.7,532.84 487.5,532.45 488.3,531.95 489.1,531.69 489.9,531.24 490.7,530.8 491.5,530.53 492.3,530 493.1,529.11 493.9,528.67 494.7,527.84 495.5,526.97 496.3,526.13 497.1,525.41 497.9,524.46 498.7,523.56 499.5,522.46 500.3,521.06 501.1,519.8 501.9,518.25 502.7,516.52 503.5,514.67 504.3,512.82 505.1,511.15 505.9,509.49 506.7,507.96 507.5,505.84 508.3,503.71 509.1,501.52 509.9,498.93 510.7,496.66 511.5,494.42 512.3,492.17 513.1,490.24 513.9,488.24 514.7,485.96 515.5,483.89 516.3,481.87 517.1,479.68 517.9,477.77 518.7,475.84 519.5,473.76 520.3,471.69 521.1,469.84 521.9,467.82 522.7,466.3 523.5,464.7 524.3,463.34 525.1,461.9 525.9,460.95 526.7,459.76 527.5,458.94 528.3,458.44 529.1,457.91 529.9,457.35 530.7,457.17 531.5,457.1 532.3,457.13 533.1,457.22 533.9,457.07 534.7,457.1 535.5,457.32 536.3,457.42 537.1,457.75 537.9,458.03 538.7,458.33 539.5,458.66 540.3,459.17 541.1,459.84 541.9,460.42 542.7,461.42 543.5,462.17 544.3,463.09 545.1,464 545.9,465.16 546.7,466.31 547.5,467.4 548.3,468.72 549.1,469.84 549.9,470.89 550.7,472.15 551.5,473.42 552.3,474.43 553.1,475.58 553.9,476.55 554.7,477.81 555.5,478.93 556.3,480.02 557.1,481.13 557.9,482.27 558.7,483.32 559.5,484.35 560.3,485.28 561.1,486.38 561.9,487.54 562.7,488.37 563.5,489.25 564.3,490.22 565.1,491.34 565.9,492.16 566.7,493.11 567.5,494.05 568.3,495.08 569.1,496.15 569.9,496.88 570.7,497.75 571.5,498.61 572.3,499.48 573.1,500.3 573.9,501.21 574.7,502.07 575.5,502.81 576.3,503.51 577.1,504.35 577.9,505.19 578.7,505.71 579.5,506.47 580.3,507.31 581.1,508.04 581.9,508.73 582.7,509.41 583.5,510.16 584.3,510.73 585.1,511.47 585.9,512.16 586.7,512.61 587.5,513.34 588.3,513.88 589.1,514.5 589.9,514.8 590.7,515.59 591.5,516.07 592.3,516.64 593.1,517.15 593.9,517.44 594.7,518.04 595.5,518.35 596.3,518.96 597.1,519.51 597.9,519.75 598.7,520.24 599.5,520.6 600.3,521.06 601.1,521.49 601.9,521.87 602.7,522.55 603.5,522.92 604.3,523.18 605.1,523.65 605.9,524.02 606.7,524.34 607.5,524.68 608.3,525.11 609.1,525.43 609.9,525.69 610.7,526.06 611.5,526.47 612.3,526.8 613.1,527 613.9,527.44 614.7,527.83 615.5,528.13 616.3,528.36 617.1,528.48 617.9,528.88 618.7,529.06 619.5,529.34 620.3,529.68 621.1,530.01 621.9,530.36 622.7,530.57 623.5,530.71 624.3,531.06 625.1,531.23 625.9,531.44 626.7,531.57 627.5,531.83 628.3,531.99 629.1,532.3 629.9,532.41 630.7,532.58 631.5,532.77 632.3,532.95 633.1,533.19 633.9,533.37 634.7,533.56 635.5,533.61 636.3,533.89 637.1,534.11 637.9,534.28 638.7,534.36 639.5,534.32 640.3,534.71 641.1,534.87 641.9,534.78 642.7,535.03 643.5,535.18 644.3,535.46 645.1,535.58 645.9,535.63 646.7,535.76 647.5,535.9 648.3,536.03 649.1,536.39 649.9,536.58 650.7,536.51 651.5,536.82 652.3,537.03 653.1,536.94 653.9,537.2 654.7,537.3 655.5,537.61 656.3,537.72 657.1,537.6 657.9,537.79 658.7,538.12 659.5,538.17 660.3,538.28 661.1,538.49 661.9,538.6 662.7,538.77 663.5,538.7 664.3,538.72 665.1,539.02 665.9,538.93 666.7,539.19 667.5,539.37 668.3,539.33 669.1,539.49 669.9,539.45 670.7,539.53 671.5,539.75 672.3,539.92 673.1,540.04 673.9,539.84 674.7,540.2 675.5,540.17 675.8,540.15L675.8,541.6L482.7,541.6Z" fill="url(#gi_teal)" stroke="none" stroke-width="1"/>
<path d="M482.7,534.42 483.5,534.04 484.3,533.76 485.1,533.32 485.9,533.17 486.7,532.84 487.5,532.45 488.3,531.95 489.1,531.69 489.9,531.24 490.7,530.8 491.5,530.53 492.3,530 493.1,529.11 493.9,528.67 494.7,527.84 495.5,526.97 496.3,526.13 497.1,525.41 497.9,524.46 498.7,523.56 499.5,522.46 500.3,521.06 501.1,519.8 501.9,518.25 502.7,516.52 503.5,514.67 504.3,512.82 505.1,511.15 505.9,509.49 506.7,507.96 507.5,505.84 508.3,503.71 509.1,501.52 509.9,498.93 510.7,496.66 511.5,494.42 512.3,492.17 513.1,490.24 513.9,488.24 514.7,485.96 515.5,483.89 516.3,481.87 517.1,479.68 517.9,477.77 518.7,475.84 519.5,473.76 520.3,471.69 521.1,469.84 521.9,467.82 522.7,466.3 523.5,464.7 524.3,463.34 525.1,461.9 525.9,460.95 526.7,459.76 527.5,458.94 528.3,458.44 529.1,457.91 529.9,457.35 530.7,457.17 531.5,457.1 532.3,457.13 533.1,457.22 533.9,457.07 534.7,457.1 535.5,457.32 536.3,457.42 537.1,457.75 537.9,458.03 538.7,458.33 539.5,458.66 540.3,459.17 541.1,459.84 541.9,460.42 542.7,461.42 543.5,462.17 544.3,463.09 545.1,464 545.9,465.16 546.7,466.31 547.5,467.4 548.3,468.72 549.1,469.84 549.9,470.89 550.7,472.15 551.5,473.42 552.3,474.43 553.1,475.58 553.9,476.55 554.7,477.81 555.5,478.93 556.3,480.02 557.1,481.13 557.9,482.27 558.7,483.32 559.5,484.35 560.3,485.28 561.1,486.38 561.9,487.54 562.7,488.37 563.5,489.25 564.3,490.22 565.1,491.34 565.9,492.16 566.7,493.11 567.5,494.05 568.3,495.08 569.1,496.15 569.9,496.88 570.7,497.75 571.5,498.61 572.3,499.48 573.1,500.3 573.9,501.21 574.7,502.07 575.5,502.81 576.3,503.51 577.1,504.35 577.9,505.19 578.7,505.71 579.5,506.47 580.3,507.31 581.1,508.04 581.9,508.73 582.7,509.41 583.5,510.16 584.3,510.73 585.1,511.47 585.9,512.16 586.7,512.61 587.5,513.34 588.3,513.88 589.1,514.5 589.9,514.8 590.7,515.59 591.5,516.07 592.3,516.64 593.1,517.15 593.9,517.44 594.7,518.04 595.5,518.35 596.3,518.96 597.1,519.51 597.9,519.75 598.7,520.24 599.5,520.6 600.3,521.06 601.1,521.49 601.9,521.87 602.7,522.55 603.5,522.92 604.3,523.18 605.1,523.65 605.9,524.02 606.7,524.34 607.5,524.68 608.3,525.11 609.1,525.43 609.9,525.69 610.7,526.06 611.5,526.47 612.3,526.8 613.1,527 613.9,527.44 614.7,527.83 615.5,528.13 616.3,528.36 617.1,528.48 617.9,528.88 618.7,529.06 619.5,529.34 620.3,529.68 621.1,530.01 621.9,530.36 622.7,530.57 623.5,530.71 624.3,531.06 625.1,531.23 625.9,531.44 626.7,531.57 627.5,531.83 628.3,531.99 629.1,532.3 629.9,532.41 630.7,532.58 631.5,532.77 632.3,532.95 633.1,533.19 633.9,533.37 634.7,533.56 635.5,533.61 636.3,533.89 637.1,534.11 637.9,534.28 638.7,534.36 639.5,534.32 640.3,534.71 641.1,534.87 641.9,534.78 642.7,535.03 643.5,535.18 644.3,535.46 645.1,535.58 645.9,535.63 646.7,535.76 647.5,535.9 648.3,536.03 649.1,536.39 649.9,536.58 650.7,536.51 651.5,536.82 652.3,537.03 653.1,536.94 653.9,537.2 654.7,537.3 655.5,537.61 656.3,537.72 657.1,537.6 657.9,537.79 658.7,538.12 659.5,538.17 660.3,538.28 661.1,538.49 661.9,538.6 662.7,538.77 663.5,538.7 664.3,538.72 665.1,539.02 665.9,538.93 666.7,539.19 667.5,539.37 668.3,539.33 669.1,539.49 669.9,539.45 670.7,539.53 671.5,539.75 672.3,539.92 673.1,540.04 673.9,539.84 674.7,540.2 675.5,540.17 675.8,540.15" fill="none" stroke="#3fb9c4" stroke-width="1.2" stroke-linejoin="round"/>
<path d="M519.4,541.6 519.4,486.69 520.2,482.42 521,478.39 521.8,474.66 522.6,471.53 523.4,469.01 524.2,466.99 525,465.67 525.8,464.56 526.6,463.65 527.4,462.58 528.2,461.91 529,461.27 529.8,461.01 530.6,460.54 531.4,459.91 532.2,459.74 533,459.32 533.8,458.84 534.6,458.49 535.4,458.06 536.2,457.8 537,457.77 537.8,457.46 538.6,457.31 539.4,457.08 540.2,456.75 541,456.62 541.8,456.41 542.6,456.34 543.4,456.12 544.2,456.15 545,456.2 545.8,456.41 546.6,456.56 547.4,456.77 548.2,457.29 549,457.64 549.8,457.99 550.6,458.43 551.4,458.83 552.2,459.42 553,460.22 553.8,461.08 554.6,462.32 555.4,463.3 556.2,464.53 557,465.47 557.8,466.7 558.6,467.72 559.4,468.53 560.2,469.65 561,470.93 561.8,471.86 562.6,473.08 563.4,473.98 564.2,474.95 565,476.18 565.8,477.28 566.6,478.18 567.4,479.17 568.2,480.28 569,481.5 569.8,482.45 570.6,483.26 571.4,484.28 572.2,485.21 573,486.17 573.8,487.35 574.6,488.12 575.4,489.17 576.2,490.07 577,490.93 577.8,492.03 578.6,492.81 579.4,493.93 580.2,494.74 581,495.8 581.8,496.71 582.6,497.68 583.4,498.83 584.2,499.7 585,500.45 585.8,501.52 586.6,502.21 587.4,503.14 588.2,504.15 589,504.95 589.8,505.66 590.6,506.8 591.4,507.43 592.2,508.31 593,509.31 593.8,510.02 594.6,510.83 595.4,511.57 596.2,512.37 597,513.3 597.8,513.98 598.6,514.85 599.4,515.54 600.2,516.3 601,517.18 601.8,517.75 602.6,518.47 603.4,519.22 604.2,519.67 605,520.29 605.8,521.13 606.6,521.69 607.4,522.07 608.2,522.59 609,523.26 609.8,523.81 610.6,524.04 611.4,524.7 612.2,525.09 613,525.39 613.8,525.72 614.6,525.99 615.4,526.33 616.2,526.97 617,527.11 617.8,527.6 618.6,527.81 619.4,528.32 620.2,528.58 621,528.8 621.8,529.08 622.6,529.54 623.4,529.63 624.2,529.97 625,530.35 625.8,530.71 626.6,530.91 627.4,531.06 628.2,531.5 629,531.52 629.8,531.7 630.6,532 631.4,532.28 632.2,532.4 633,532.66 633.8,532.94 634.6,533.23 635.4,533.32 636.2,533.61 637,533.99 637.8,534.23 638.6,534.35 639.4,534.57 640.2,534.74 641,534.8 641.8,534.97 642.6,535.15 643.4,535.59 644.2,535.7 645,535.94 645.8,535.82 646.6,536.15 647.4,536.25 648.2,536.47 649,536.48 649.8,536.82 650.6,536.67 651.4,536.94 652.2,537.12 653,537.29 653.8,537.36 654.6,537.47 655.4,537.61 656.2,537.77 657,537.72 657.8,537.94 658.6,538.12 659.4,538.23 660.2,538.21 661,538.44 661.8,538.58 662.6,538.6 663.4,538.73 664.2,538.77 665,538.94 665.8,539.06 666.6,539.02 667.4,539.29 668.2,539.51 669,539.59 669.8,539.65 670.6,539.66 671.4,539.87 672.2,539.93 673,540 673.8,540.23 674.6,540.11 675.4,540.42 675.8,540.26L675.8,541.6Z" fill="url(#gi_red)" stroke="none" stroke-width="1"/>
<path d="M519.4,486.69 520.2,482.42 521,478.39 521.8,474.66 522.6,471.53 523.4,469.01 524.2,466.99 525,465.67 525.8,464.56 526.6,463.65 527.4,462.58 528.2,461.91 529,461.27 529.8,461.01 530.6,460.54 531.4,459.91 532.2,459.74 533,459.32 533.8,458.84 534.6,458.49 535.4,458.06 536.2,457.8 537,457.77 537.8,457.46 538.6,457.31 539.4,457.08 540.2,456.75 541,456.62 541.8,456.41 542.6,456.34 543.4,456.12 544.2,456.15 545,456.2 545.8,456.41 546.6,456.56 547.4,456.77 548.2,457.29 549,457.64 549.8,457.99 550.6,458.43 551.4,458.83 552.2,459.42 553,460.22 553.8,461.08 554.6,462.32 555.4,463.3 556.2,464.53 557,465.47 557.8,466.7 558.6,467.72 559.4,468.53 560.2,469.65 561,470.93 561.8,471.86 562.6,473.08 563.4,473.98 564.2,474.95 565,476.18 565.8,477.28 566.6,478.18 567.4,479.17 568.2,480.28 569,481.5 569.8,482.45 570.6,483.26 571.4,484.28 572.2,485.21 573,486.17 573.8,487.35 574.6,488.12 575.4,489.17 576.2,490.07 577,490.93 577.8,492.03 578.6,492.81 579.4,493.93 580.2,494.74 581,495.8 581.8,496.71 582.6,497.68 583.4,498.83 584.2,499.7 585,500.45 585.8,501.52 586.6,502.21 587.4,503.14 588.2,504.15 589,504.95 589.8,505.66 590.6,506.8 591.4,507.43 592.2,508.31 593,509.31 593.8,510.02 594.6,510.83 595.4,511.57 596.2,512.37 597,513.3 597.8,513.98 598.6,514.85 599.4,515.54 600.2,516.3 601,517.18 601.8,517.75 602.6,518.47 603.4,519.22 604.2,519.67 605,520.29 605.8,521.13 606.6,521.69 607.4,522.07 608.2,522.59 609,523.26 609.8,523.81 610.6,524.04 611.4,524.7 612.2,525.09 613,525.39 613.8,525.72 614.6,525.99 615.4,526.33 616.2,526.97 617,527.11 617.8,527.6 618.6,527.81 619.4,528.32 620.2,528.58 621,528.8 621.8,529.08 622.6,529.54 623.4,529.63 624.2,529.97 625,530.35 625.8,530.71 626.6,530.91 627.4,531.06 628.2,531.5 629,531.52 629.8,531.7 630.6,532 631.4,532.28 632.2,532.4 633,532.66 633.8,532.94 634.6,533.23 635.4,533.32 636.2,533.61 637,533.99 637.8,534.23 638.6,534.35 639.4,534.57 640.2,534.74 641,534.8 641.8,534.97 642.6,535.15 643.4,535.59 644.2,535.7 645,535.94 645.8,535.82 646.6,536.15 647.4,536.25 648.2,536.47 649,536.48 649.8,536.82 650.6,536.67 651.4,536.94 652.2,537.12 653,537.29 653.8,537.36 654.6,537.47 655.4,537.61 656.2,537.77 657,537.72 657.8,537.94 658.6,538.12 659.4,538.23 660.2,538.21 661,538.44 661.8,538.58 662.6,538.6 663.4,538.73 664.2,538.77 665,538.94 665.8,539.06 666.6,539.02 667.4,539.29 668.2,539.51 669,539.59 669.8,539.65 670.6,539.66 671.4,539.87 672.2,539.93 673,540 673.8,540.23 674.6,540.11 675.4,540.42 675.8,540.26" fill="none" stroke="#a8282e" stroke-width="1.1" stroke-linejoin="round"/>
<path d="M482.7,534.79 483.5,534.66 484.3,534.48 485.1,534.07 485.9,533.7 486.7,533.4 487.5,532.91 488.3,532.59 489.1,532.05 489.9,531.49 490.7,530.93 491.5,530.38 492.3,529.6 493.1,529.04 493.9,528.29 494.7,527.85 495.5,526.95 496.3,526.57 497.1,525.78 497.9,525.41 498.7,524.75 499.5,524.22 500.3,523.79 501.1,522.96 501.9,522.35 502.7,521.93 503.5,521.1 504.3,520.23 505.1,519.73 505.9,518.95 506.7,517.93 507.5,517.28 508.3,516.45 509.1,515.76 509.9,515.1 510.7,514.22 511.5,513.65 512.3,512.75 513.1,512.12 513.9,511.7 514.7,511.01 515.5,510.5 516.3,510.06 517.1,509.53 517.9,509.01 518.7,508.44 519.5,508.2 520.3,507.84 521.1,507.41 521.9,506.89 522.7,506.38 523.5,505.99 524.3,505.72 525.1,505.35 525.9,504.83 526.7,504.56 527.5,504.38 528.3,504.31 529.1,504.39 529.9,504.37 530.7,504.32 531.5,504.66 532.3,504.66 533.1,504.81 533.9,504.86 534.7,505.07 535.5,505.21 536.3,505.48 537.1,505.44 537.9,505.75 538.7,505.83 539.5,506.18 540.3,506.19 541.1,506.48 541.9,506.72 542.7,507.04 543.5,507.11 544.3,507.47 545.1,507.65 545.9,507.93 546.7,508.27 547.5,508.72 548.3,508.9 549.1,509.38 549.9,509.5 550.7,510.1 551.5,510.32 552.3,510.66 553.1,511.23 553.9,511.67 554.7,511.8 555.5,512.29 556.3,512.86 557.1,513.15 557.9,513.54 558.7,513.89 559.5,514.33 560.3,514.93 561.1,515.47 561.9,515.91 562.7,516.21 563.5,516.52 564.3,517.06 565.1,517.66 565.9,518.13 566.7,518.53 567.5,518.85 568.3,519.38 569.1,519.79 569.9,520.24 570.7,520.54 571.5,521.15 572.3,521.54 573.1,521.71 573.9,522.14 574.7,522.69 575.5,522.87 576.3,523.42 577.1,523.64 577.9,524.02 578.7,524.34 579.5,524.5 580.3,524.82 581.1,525.11 581.9,525.52 582.7,525.8 583.5,525.91 584.3,526.41 585.1,526.54 585.9,526.75 586.7,527.07 587.5,527.49 588.3,527.62 589.1,527.9 589.9,528.25 590.7,528.51 591.5,528.71 592.3,528.86 593.1,529.16 593.9,529.5 594.7,529.71 595.5,529.9 596.3,530.07 597.1,530.32 597.9,530.66 598.7,530.85 599.5,530.91 600.3,531.35 601.1,531.63 601.9,531.82 602.7,532.07 603.5,532.28 604.3,532.38 605.1,532.66 605.9,532.73 606.7,532.85 607.5,533.12 608.3,533.29 609.1,533.67 609.9,533.78 610.7,533.92 611.5,534.12 612.3,534.15 613.1,534.44 613.9,534.66 614.7,534.74 615.5,534.86 616.3,535.07 617.1,535.21 617.9,535.48 618.7,535.47 619.5,535.62 620.3,535.84 621.1,536.11 621.9,536.28 622.7,536.39 623.5,536.62 624.3,536.59 625.1,536.62 625.9,536.89 626.7,537.01 627.5,537.05 628.3,537.32 629.1,537.33 629.9,537.41 630.7,537.55 631.5,537.84 632.3,537.66 633.1,537.87 633.9,537.95 634.7,538.02 635.5,538.19 636.3,538.22 637.1,538.52 637.9,538.49 638.7,538.64 639.5,538.56 640.3,538.74 641.1,538.86 641.9,539.01 642.7,538.91 643.5,539.05 644.3,539.25 645.1,539.31 645.9,539.2 646.7,539.36 647.5,539.49 648.3,539.44 649.1,539.59 649.9,539.64 650.7,539.79 651.5,539.72 652.3,539.8 653.1,539.75 653.9,539.91 654.7,539.83 655.5,539.93 656.3,539.93 657.1,539.95 657.9,539.94 658.7,540 659.5,540.14 660.3,540.09 661.1,540.06 661.9,540.32 662.7,540.2 663.5,540.43 664.3,540.36 665.1,540.33 665.9,540.51 666.7,540.55 667.5,540.41 668.3,540.38 669.1,540.57 669.9,540.66 670.7,540.62 671.5,540.71 672.3,540.63 673.1,540.72 673.9,540.65 674.7,540.72 675.5,540.75 675.8,540.77L675.8,541.6L482.7,541.6Z" fill="url(#gi_or)" stroke="none" stroke-width="1" fill-opacity="0.93"/>
<path d="M482.7,534.79 483.5,534.66 484.3,534.48 485.1,534.07 485.9,533.7 486.7,533.4 487.5,532.91 488.3,532.59 489.1,532.05 489.9,531.49 490.7,530.93 491.5,530.38 492.3,529.6 493.1,529.04 493.9,528.29 494.7,527.85 495.5,526.95 496.3,526.57 497.1,525.78 497.9,525.41 498.7,524.75 499.5,524.22 500.3,523.79 501.1,522.96 501.9,522.35 502.7,521.93 503.5,521.1 504.3,520.23 505.1,519.73 505.9,518.95 506.7,517.93 507.5,517.28 508.3,516.45 509.1,515.76 509.9,515.1 510.7,514.22 511.5,513.65 512.3,512.75 513.1,512.12 513.9,511.7 514.7,511.01 515.5,510.5 516.3,510.06 517.1,509.53 517.9,509.01 518.7,508.44 519.5,508.2 520.3,507.84 521.1,507.41 521.9,506.89 522.7,506.38 523.5,505.99 524.3,505.72 525.1,505.35 525.9,504.83 526.7,504.56 527.5,504.38 528.3,504.31 529.1,504.39 529.9,504.37 530.7,504.32 531.5,504.66 532.3,504.66 533.1,504.81 533.9,504.86 534.7,505.07 535.5,505.21 536.3,505.48 537.1,505.44 537.9,505.75 538.7,505.83 539.5,506.18 540.3,506.19 541.1,506.48 541.9,506.72 542.7,507.04 543.5,507.11 544.3,507.47 545.1,507.65 545.9,507.93 546.7,508.27 547.5,508.72 548.3,508.9 549.1,509.38 549.9,509.5 550.7,510.1 551.5,510.32 552.3,510.66 553.1,511.23 553.9,511.67 554.7,511.8 555.5,512.29 556.3,512.86 557.1,513.15 557.9,513.54 558.7,513.89 559.5,514.33 560.3,514.93 561.1,515.47 561.9,515.91 562.7,516.21 563.5,516.52 564.3,517.06 565.1,517.66 565.9,518.13 566.7,518.53 567.5,518.85 568.3,519.38 569.1,519.79 569.9,520.24 570.7,520.54 571.5,521.15 572.3,521.54 573.1,521.71 573.9,522.14 574.7,522.69 575.5,522.87 576.3,523.42 577.1,523.64 577.9,524.02 578.7,524.34 579.5,524.5 580.3,524.82 581.1,525.11 581.9,525.52 582.7,525.8 583.5,525.91 584.3,526.41 585.1,526.54 585.9,526.75 586.7,527.07 587.5,527.49 588.3,527.62 589.1,527.9 589.9,528.25 590.7,528.51 591.5,528.71 592.3,528.86 593.1,529.16 593.9,529.5 594.7,529.71 595.5,529.9 596.3,530.07 597.1,530.32 597.9,530.66 598.7,530.85 599.5,530.91 600.3,531.35 601.1,531.63 601.9,531.82 602.7,532.07 603.5,532.28 604.3,532.38 605.1,532.66 605.9,532.73 606.7,532.85 607.5,533.12 608.3,533.29 609.1,533.67 609.9,533.78 610.7,533.92 611.5,534.12 612.3,534.15 613.1,534.44 613.9,534.66 614.7,534.74 615.5,534.86 616.3,535.07 617.1,535.21 617.9,535.48 618.7,535.47 619.5,535.62 620.3,535.84 621.1,536.11 621.9,536.28 622.7,536.39 623.5,536.62 624.3,536.59 625.1,536.62 625.9,536.89 626.7,537.01 627.5,537.05 628.3,537.32 629.1,537.33 629.9,537.41 630.7,537.55 631.5,537.84 632.3,537.66 633.1,537.87 633.9,537.95 634.7,538.02 635.5,538.19 636.3,538.22 637.1,538.52 637.9,538.49 638.7,538.64 639.5,538.56 640.3,538.74 641.1,538.86 641.9,539.01 642.7,538.91 643.5,539.05 644.3,539.25 645.1,539.31 645.9,539.2 646.7,539.36 647.5,539.49 648.3,539.44 649.1,539.59 649.9,539.64 650.7,539.79 651.5,539.72 652.3,539.8 653.1,539.75 653.9,539.91 654.7,539.83 655.5,539.93 656.3,539.93 657.1,539.95 657.9,539.94 658.7,540 659.5,540.14 660.3,540.09 661.1,540.06 661.9,540.32 662.7,540.2 663.5,540.43 664.3,540.36 665.1,540.33 665.9,540.51 666.7,540.55 667.5,540.41 668.3,540.38 669.1,540.57 669.9,540.66 670.7,540.62 671.5,540.71 672.3,540.63 673.1,540.72 673.9,540.65 674.7,540.72 675.5,540.75 675.8,540.77" fill="none" stroke="#f09a28" stroke-width="1.2" stroke-linejoin="round"/>
<line x1="519.4" y1="487" x2="519.4" y2="541.6" stroke="#d8a8a8" stroke-width="0.6"/>
<path d="M537.7,541.6 537.7,530.63 538.5,530.49 539.3,530.23 540.1,530.03 540.9,529.59 541.7,529.38 542.5,529.13 543.3,528.94 544.1,528.87 544.9,528.46 545.7,528.35 546.5,528.02 547.3,527.82 548.1,527.65 548.9,527.57 549.7,527.31 550.5,526.97 551.3,526.94 552.1,526.84 552.9,527.02 553.7,526.99 554.5,526.98 555.3,526.99 556.1,526.97 556.9,527.05 557.7,527.03 558.5,526.91 559.3,527.15 560.1,527.11 560.9,527.26 561.7,527.29 562.5,527.34 563.3,527.41 564.1,527.53 564.9,527.59 565.7,527.64 566.5,527.97 567.3,528.09 568.1,528.27 568.9,528.32 569.7,528.42 570.5,528.62 571.3,528.57 572.1,528.87 572.9,528.93 573.7,528.97 574.5,529.11 575.3,529.33 576.1,529.38 576.9,529.58 577.7,529.78 578.5,529.86 579.3,529.94 580.1,530.21 580.9,530.29 581.7,530.45 582.5,530.6 583.3,530.81 584.1,530.89 584.9,531.22 585.7,531.48 586.5,531.47 587.3,531.74 588.1,531.97 588.9,531.86 589.7,532.06 590.5,532.42 591.3,532.6 592.1,532.71 592.9,532.74 593.7,532.99 594.5,533.3 595.3,533.47 596.1,533.62 596.9,533.61 597.7,533.97 598.5,533.99 599.3,534.26 600.1,534.25 600.9,534.66 601.7,534.7 602.5,534.89 603.3,534.89 604.1,535.16 604.9,535.29 605.7,535.44 606.5,535.51 607.3,535.76 608.1,535.78 608.9,535.9 609.7,536 610.5,536.29 611.3,536.24 612.1,536.41 612.9,536.49 613.7,536.78 614.5,536.88 615.3,536.99 616.1,536.96 616.9,537.2 617.7,537.28 618.5,537.32 619.3,537.41 620.1,537.82 620.9,537.66 621.7,537.82 622.5,537.92 623.3,538.12 624.1,538.06 624.9,538.28 625.7,538.34 626.5,538.57 627.3,538.41 628.1,538.59 628.9,538.72 629.7,538.95 630.5,538.89 631.3,538.95 632.1,539.08 632.9,539.04 633.7,539.03 634.5,539.24 635.3,539.44 636.1,539.45 636.9,539.38 637.7,539.57 638.5,539.68 639.3,539.57 640.1,539.73 640.9,539.71 641.7,539.74 642.5,539.81 643.3,539.83 644.1,539.93 644.9,539.89 645.7,540.04 646.5,540 647.3,540.24 648.1,540.24 648.9,540.1 649.7,540.37 650.5,540.23 651.3,540.35 652.1,540.4 652.9,540.37 653.7,540.38 654.5,540.45 655.3,540.39 656.1,540.63 656.9,540.43 657.7,540.67 658.5,540.51 659.3,540.56 660.1,540.6 660.9,540.52 661.7,540.57 662.5,540.66 663.3,540.7 664.1,540.85 664.9,540.9 665.7,540.64 666.5,540.8 667.3,540.7 668.1,540.92 668.9,540.79 669.7,540.98 670.5,540.89 671.3,540.78 672.1,540.77 672.9,540.86 673.7,541.06 674.5,540.86 675.3,540.98 675.8,540.96L675.8,541.6Z" fill="url(#gi_green)" stroke="none" stroke-width="1"/>
<path d="M537.7,530.63 538.5,530.49 539.3,530.23 540.1,530.03 540.9,529.59 541.7,529.38 542.5,529.13 543.3,528.94 544.1,528.87 544.9,528.46 545.7,528.35 546.5,528.02 547.3,527.82 548.1,527.65 548.9,527.57 549.7,527.31 550.5,526.97 551.3,526.94 552.1,526.84 552.9,527.02 553.7,526.99 554.5,526.98 555.3,526.99 556.1,526.97 556.9,527.05 557.7,527.03 558.5,526.91 559.3,527.15 560.1,527.11 560.9,527.26 561.7,527.29 562.5,527.34 563.3,527.41 564.1,527.53 564.9,527.59 565.7,527.64 566.5,527.97 567.3,528.09 568.1,528.27 568.9,528.32 569.7,528.42 570.5,528.62 571.3,528.57 572.1,528.87 572.9,528.93 573.7,528.97 574.5,529.11 575.3,529.33 576.1,529.38 576.9,529.58 577.7,529.78 578.5,529.86 579.3,529.94 580.1,530.21 580.9,530.29 581.7,530.45 582.5,530.6 583.3,530.81 584.1,530.89 584.9,531.22 585.7,531.48 586.5,531.47 587.3,531.74 588.1,531.97 588.9,531.86 589.7,532.06 590.5,532.42 591.3,532.6 592.1,532.71 592.9,532.74 593.7,532.99 594.5,533.3 595.3,533.47 596.1,533.62 596.9,533.61 597.7,533.97 598.5,533.99 599.3,534.26 600.1,534.25 600.9,534.66 601.7,534.7 602.5,534.89 603.3,534.89 604.1,535.16 604.9,535.29 605.7,535.44 606.5,535.51 607.3,535.76 608.1,535.78 608.9,535.9 609.7,536 610.5,536.29 611.3,536.24 612.1,536.41 612.9,536.49 613.7,536.78 614.5,536.88 615.3,536.99 616.1,536.96 616.9,537.2 617.7,537.28 618.5,537.32 619.3,537.41 620.1,537.82 620.9,537.66 621.7,537.82 622.5,537.92 623.3,538.12 624.1,538.06 624.9,538.28 625.7,538.34 626.5,538.57 627.3,538.41 628.1,538.59 628.9,538.72 629.7,538.95 630.5,538.89 631.3,538.95 632.1,539.08 632.9,539.04 633.7,539.03 634.5,539.24 635.3,539.44 636.1,539.45 636.9,539.38 637.7,539.57 638.5,539.68 639.3,539.57 640.1,539.73 640.9,539.71 641.7,539.74 642.5,539.81 643.3,539.83 644.1,539.93 644.9,539.89 645.7,540.04 646.5,540 647.3,540.24 648.1,540.24 648.9,540.1 649.7,540.37 650.5,540.23 651.3,540.35 652.1,540.4 652.9,540.37 653.7,540.38 654.5,540.45 655.3,540.39 656.1,540.63 656.9,540.43 657.7,540.67 658.5,540.51 659.3,540.56 660.1,540.6 660.9,540.52 661.7,540.57 662.5,540.66 663.3,540.7 664.1,540.85 664.9,540.9 665.7,540.64 666.5,540.8 667.3,540.7 668.1,540.92 668.9,540.79 669.7,540.98 670.5,540.89 671.3,540.78 672.1,540.77 672.9,540.86 673.7,541.06 674.5,540.86 675.3,540.98 675.8,540.96" fill="none" stroke="#58b236" stroke-width="1.1" stroke-linejoin="round"/>
<line x1="537.7" y1="530.7" x2="537.7" y2="541.6" stroke="#58b236" stroke-width="1.0"/>
<rect x="483.15" y="387.25" width="192.65" height="154.35" fill="none" stroke="#3a3a3a" stroke-width="1.6"/>
<line x1="492.32" y1="541.6" x2="492.32" y2="544.4" stroke="#333" stroke-width="1"/>
<text x="492.32" y="555.1" font-size="9.3" font-weight="bold" text-anchor="middle" fill="#000" font-family='"Liberation Sans", sans-serif'>350</text>
<line x1="538.19" y1="541.6" x2="538.19" y2="544.4" stroke="#333" stroke-width="1"/>
<text x="538.19" y="555.1" font-size="9.3" font-weight="bold" text-anchor="middle" fill="#000" font-family='"Liberation Sans", sans-serif'>400</text>
<line x1="584.06" y1="541.6" x2="584.06" y2="544.4" stroke="#333" stroke-width="1"/>
<text x="584.06" y="555.1" font-size="9.3" font-weight="bold" text-anchor="middle" fill="#000" font-family='"Liberation Sans", sans-serif'>450</text>
<line x1="629.93" y1="541.6" x2="629.93" y2="544.4" stroke="#333" stroke-width="1"/>
<text x="629.93" y="555.1" font-size="9.3" font-weight="bold" text-anchor="middle" fill="#000" font-family='"Liberation Sans", sans-serif'>500</text>
<line x1="675.8" y1="541.6" x2="675.8" y2="544.4" stroke="#333" stroke-width="1"/>
<text x="675.8" y="555.1" font-size="9.3" font-weight="bold" text-anchor="middle" fill="#000" font-family='"Liberation Sans", sans-serif'>550</text>
<line x1="515.26" y1="541.6" x2="515.26" y2="543.4" stroke="#333" stroke-width="1"/>
<line x1="561.13" y1="541.6" x2="561.13" y2="543.4" stroke="#333" stroke-width="1"/>
<line x1="607" y1="541.6" x2="607" y2="543.4" stroke="#333" stroke-width="1"/>
<line x1="652.87" y1="541.6" x2="652.87" y2="543.4" stroke="#333" stroke-width="1"/>
<text x="578.3" y="570" font-size="11.7" font-weight="bold" text-anchor="middle" fill="#000" font-family='"Liberation Sans", sans-serif'>Wavelength (nm)</text>
<text transform="translate(478.6,465.3) rotate(-90)" font-size="11.9" font-weight="bold" text-anchor="middle" fill="#000" font-family='"Liberation Sans", sans-serif'>PL Intensity</text>
<text x="455.8" y="393.5" font-size="18.5" font-weight="bold" text-anchor="start" fill="#000" font-family='"Liberation Sans", sans-serif'>i</text>
<rect x="601.5" y="402.3" width="21.4" height="10.6" fill="url(#gi_or)" stroke="#f0a030" stroke-width="1.2" rx="1.6"/>
<text x="625.8" y="410.9" font-size="9.4" font-weight="bold" text-anchor="start" fill="#000" font-family='"Liberation Sans", sans-serif'>300nm</text>
<rect x="601.5" y="414.48" width="21.4" height="10.6" fill="url(#gi_teal)" stroke="#40b8c2" stroke-width="1.2" rx="1.6"/>
<text x="625.8" y="423.08" font-size="9.4" font-weight="bold" text-anchor="start" fill="#000" font-family='"Liberation Sans", sans-serif'>320nm</text>
<rect x="601.5" y="426.66" width="21.4" height="10.6" fill="url(#gi_blue)" stroke="#4a62b0" stroke-width="1.2" rx="1.6"/>
<text x="625.8" y="435.26" font-size="9.4" font-weight="bold" text-anchor="start" fill="#000" font-family='"Liberation Sans", sans-serif'>340nm</text>
<rect x="601.5" y="438.84" width="21.4" height="10.6" fill="url(#gi_red)" stroke="#b03036" stroke-width="1.2" rx="1.6"/>
<text x="625.8" y="447.44" font-size="9.4" font-weight="bold" text-anchor="start" fill="#000" font-family='"Liberation Sans", sans-serif'>360nm</text>
<rect x="601.5" y="451.02" width="21.4" height="10.6" fill="url(#gi_green)" stroke="#62b844" stroke-width="1.2" rx="1.6"/>
<text x="625.8" y="459.62" font-size="9.4" font-weight="bold" text-anchor="start" fill="#000" font-family='"Liberation Sans", sans-serif'>380nm</text>
</svg></body></html>
